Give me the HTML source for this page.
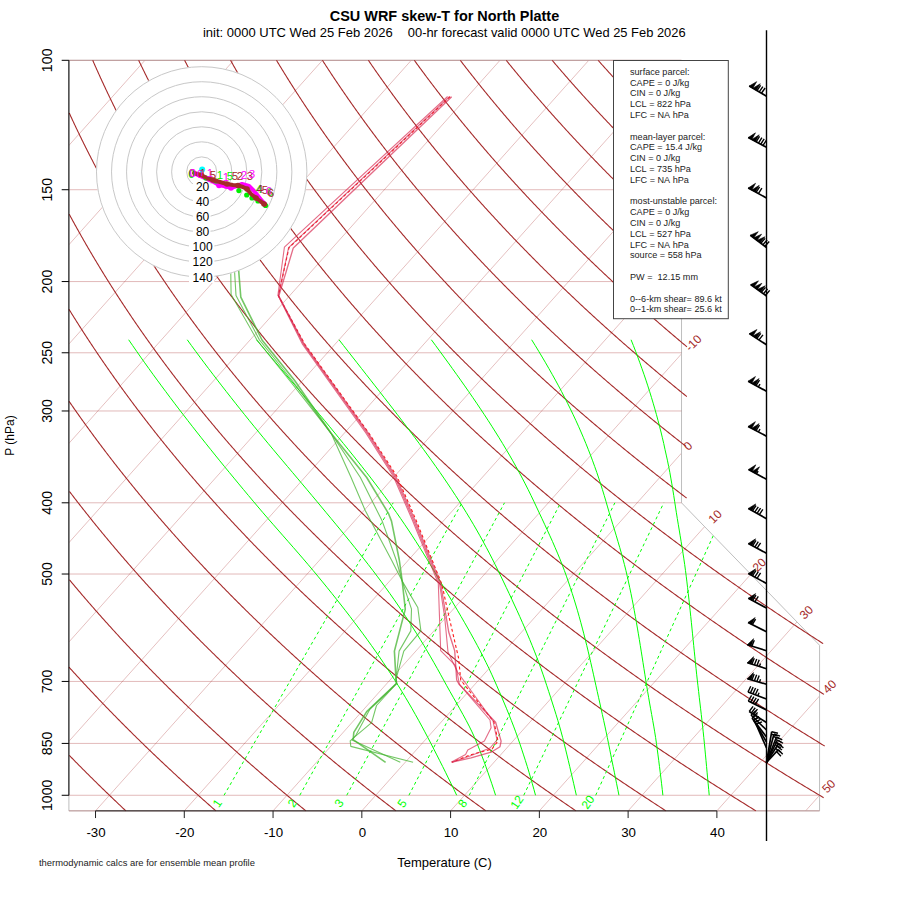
<!DOCTYPE html><html><head><meta charset="utf-8"><style>
html,body{margin:0;padding:0;background:#fff;}
svg{display:block;font-family:"Liberation Sans",sans-serif;}
</style></head><body>
<svg width="900" height="900" viewBox="0 0 900 900">
<defs><clipPath id="cp"><path d="M68.90 60.30 L68.90 810.86 L819.57 810.86 L819.57 645.26 L681.52 502.80 L681.52 60.30 Z"/></clipPath></defs>
<g clip-path="url(#cp)">
<path d="M-525.83 810.86 L144.95 60.30" fill="none" stroke="#a52a2a" stroke-width="0.3"/>
<path d="M-437.06 810.86 L233.72 60.30" fill="none" stroke="#a52a2a" stroke-width="0.3"/>
<path d="M-348.30 810.86 L322.48 60.30" fill="none" stroke="#a52a2a" stroke-width="0.3"/>
<path d="M-259.53 810.86 L411.25 60.30" fill="none" stroke="#a52a2a" stroke-width="0.3"/>
<path d="M-170.77 810.86 L500.01 60.30" fill="none" stroke="#a52a2a" stroke-width="0.3"/>
<path d="M-82.00 810.86 L588.78 60.30" fill="none" stroke="#a52a2a" stroke-width="0.3"/>
<path d="M6.76 810.86 L677.54 60.30" fill="none" stroke="#a52a2a" stroke-width="0.3"/>
<path d="M95.53 810.86 L766.31 60.30" fill="none" stroke="#a52a2a" stroke-width="0.3"/>
<path d="M184.29 810.86 L855.07 60.30" fill="none" stroke="#a52a2a" stroke-width="0.3"/>
<path d="M273.06 810.86 L943.84 60.30" fill="none" stroke="#a52a2a" stroke-width="0.3"/>
<path d="M361.83 810.86 L1032.60 60.30" fill="none" stroke="#a52a2a" stroke-width="0.3"/>
<path d="M450.59 810.86 L1121.37 60.30" fill="none" stroke="#a52a2a" stroke-width="0.3"/>
<path d="M539.36 810.86 L1210.13 60.30" fill="none" stroke="#a52a2a" stroke-width="0.3"/>
<path d="M628.12 810.86 L1298.90 60.30" fill="none" stroke="#a52a2a" stroke-width="0.3"/>
<path d="M716.89 810.86 L1387.66 60.30" fill="none" stroke="#a52a2a" stroke-width="0.3"/>
<path d="M805.65 810.86 L1476.43 60.30" fill="none" stroke="#a52a2a" stroke-width="0.3"/>
</g>
<path d="M68.90 60.30 L68.90 810.86 L819.57 810.86 L819.57 645.26 L681.52 502.80 L681.52 60.30 Z" fill="none" stroke="#bebebe" stroke-width="1"/>
<path d="M68.90 810.86 L819.57 810.86" fill="none" stroke="#a52a2a" stroke-width="0.33"/>
<path d="M68.90 795.28 L819.57 795.28" fill="none" stroke="#a52a2a" stroke-width="0.33"/>
<path d="M68.90 743.41 L819.57 743.41" fill="none" stroke="#a52a2a" stroke-width="0.33"/>
<path d="M68.90 681.43 L819.57 681.43" fill="none" stroke="#a52a2a" stroke-width="0.33"/>
<path d="M68.90 574.03 L751.01 574.03" fill="none" stroke="#a52a2a" stroke-width="0.33"/>
<path d="M68.90 502.80 L681.52 502.80" fill="none" stroke="#a52a2a" stroke-width="0.33"/>
<path d="M68.90 410.98 L681.52 410.98" fill="none" stroke="#a52a2a" stroke-width="0.33"/>
<path d="M68.90 352.78 L681.52 352.78" fill="none" stroke="#a52a2a" stroke-width="0.33"/>
<path d="M68.90 281.55 L681.52 281.55" fill="none" stroke="#a52a2a" stroke-width="0.33"/>
<path d="M68.90 189.72 L681.52 189.72" fill="none" stroke="#a52a2a" stroke-width="0.33"/>
<path d="M68.90 60.30 L681.52 60.30" fill="none" stroke="#a52a2a" stroke-width="0.33"/>
<path d="M125.86 810.86 L124.86 809.92 L123.86 808.98 L122.86 808.04 L121.86 807.10 L120.86 806.16 L119.87 805.22 L118.88 804.28 L117.89 803.34 L116.90 802.40 L115.91 801.46 L114.92 800.52 L113.94 799.58 L112.95 798.64 L111.97 797.70 L110.99 796.76 L110.01 795.83 L109.04 794.89 L108.06 793.95 L107.09 793.01 L106.11 792.07 L105.14 791.13 L104.17 790.19 L103.21 789.25 L102.24 788.31 L101.27 787.37 L100.31 786.43 L99.35 785.49 L98.39 784.55 L97.43 783.61 L96.47 782.67 L95.52 781.73 L94.56 780.80 L93.61 779.86 L92.66 778.92 L91.71 777.98 L90.76 777.04 L89.81 776.10 L88.87 775.16 L87.92 774.22 L86.98 773.28 L86.04 772.34 L85.10 771.40 L84.16 770.46 L83.23 769.52 L82.29 768.58 L81.36 767.64 L80.43 766.70 L79.50 765.77 L78.57 764.83 L77.64 763.89 L76.71 762.95 L75.79 762.01 L74.87 761.07 L73.94 760.13 L73.02 759.19 L72.11 758.25 L71.19 757.31 L70.27 756.37 L69.36 755.43" fill="none" stroke="#a52a2a" stroke-width="1.1"/>
<path d="M215.87 810.86 L214.79 809.92 L213.72 808.98 L212.64 808.04 L211.57 807.10 L210.50 806.16 L209.43 805.22 L208.36 804.28 L207.30 803.34 L206.23 802.40 L205.17 801.46 L204.11 800.52 L203.05 799.58 L201.99 798.64 L200.93 797.70 L199.88 796.76 L198.82 795.83 L197.77 794.89 L196.72 793.95 L195.67 793.01 L194.62 792.07 L193.58 791.13 L192.53 790.19 L191.49 789.25 L190.45 788.31 L189.41 787.37 L188.37 786.43 L187.34 785.49 L186.30 784.55 L185.27 783.61 L184.24 782.67 L183.21 781.73 L182.18 780.80 L181.16 779.86 L180.13 778.92 L179.11 777.98 L178.08 777.04 L177.06 776.10 L176.05 775.16 L175.03 774.22 L174.01 773.28 L173.00 772.34 L171.99 771.40 L170.98 770.46 L169.97 769.52 L168.96 768.58 L167.95 767.64 L166.95 766.70 L165.94 765.77 L164.94 764.83 L163.94 763.89 L162.94 762.95 L161.95 762.01 L160.95 761.07 L159.96 760.13 L158.96 759.19 L157.97 758.25 L156.98 757.31 L156.00 756.37 L155.01 755.43 L154.03 754.49 L153.04 753.55 L152.06 752.61 L151.08 751.68 L150.10 750.74 L149.13 749.80 L148.15 748.86 L147.18 747.92 L146.20 746.98 L145.23 746.04 L144.26 745.10 L143.30 744.16 L142.33 743.22 L141.36 742.28 L140.40 741.34 L139.44 740.40 L138.48 739.46 L137.52 738.52 L136.56 737.58 L135.61 736.65 L134.65 735.71 L133.70 734.77 L132.75 733.83 L131.80 732.89 L130.85 731.95 L129.90 731.01 L128.96 730.07 L128.02 729.13 L127.07 728.19 L126.13 727.25 L125.19 726.31 L124.26 725.37 L123.32 724.43 L122.38 723.49 L121.45 722.55 L120.52 721.62 L119.59 720.68 L118.66 719.74 L117.73 718.80 L116.81 717.86 L115.88 716.92 L114.96 715.98 L114.04 715.04 L113.12 714.10 L112.20 713.16 L111.28 712.22 L110.37 711.28 L109.46 710.34 L108.54 709.40 L107.63 708.46 L106.72 707.52 L105.81 706.59 L104.91 705.65 L104.00 704.71 L103.10 703.77 L102.20 702.83 L101.30 701.89 L100.40 700.95 L99.50 700.01 L98.60 699.07 L97.71 698.13 L96.81 697.19 L95.92 696.25 L95.03 695.31 L94.14 694.37 L93.26 693.43 L92.37 692.49 L91.48 691.56 L90.60 690.62 L89.72 689.68 L88.84 688.74 L87.96 687.80 L87.08 686.86 L86.21 685.92 L85.33 684.98 L84.46 684.04 L83.59 683.10 L82.72 682.16 L81.85 681.22 L80.98 680.28 L80.12 679.34 L79.25 678.40 L78.39 677.46 L77.53 676.53 L76.67 675.59 L75.81 674.65 L74.95 673.71 L74.09 672.77 L73.24 671.83 L72.39 670.89 L71.54 669.95 L70.69 669.01 L69.84 668.07 L68.99 667.13" fill="none" stroke="#a52a2a" stroke-width="1.1"/>
<path d="M305.88 810.86 L304.73 809.92 L303.58 808.98 L302.43 808.04 L301.28 807.10 L300.13 806.16 L298.99 805.22 L297.85 804.28 L296.70 803.34 L295.56 802.40 L294.43 801.46 L293.29 800.52 L292.15 799.58 L291.02 798.64 L289.89 797.70 L288.76 796.76 L287.63 795.83 L286.50 794.89 L285.38 793.95 L284.26 793.01 L283.13 792.07 L282.01 791.13 L280.90 790.19 L279.78 789.25 L278.66 788.31 L277.55 787.37 L276.44 786.43 L275.33 785.49 L274.22 784.55 L273.11 783.61 L272.01 782.67 L270.90 781.73 L269.80 780.80 L268.70 779.86 L267.60 778.92 L266.51 777.98 L265.41 777.04 L264.32 776.10 L263.23 775.16 L262.13 774.22 L261.05 773.28 L259.96 772.34 L258.87 771.40 L257.79 770.46 L256.71 769.52 L255.63 768.58 L254.55 767.64 L253.47 766.70 L252.39 765.77 L251.32 764.83 L250.25 763.89 L249.17 762.95 L248.10 762.01 L247.04 761.07 L245.97 760.13 L244.91 759.19 L243.84 758.25 L242.78 757.31 L241.72 756.37 L240.66 755.43 L239.61 754.49 L238.55 753.55 L237.50 752.61 L236.45 751.68 L235.39 750.74 L234.35 749.80 L233.30 748.86 L232.25 747.92 L231.21 746.98 L230.17 746.04 L229.13 745.10 L228.09 744.16 L227.05 743.22 L226.01 742.28 L224.98 741.34 L223.95 740.40 L222.91 739.46 L221.88 738.52 L220.86 737.58 L219.83 736.65 L218.80 735.71 L217.78 734.77 L216.76 733.83 L215.74 732.89 L214.72 731.95 L213.70 731.01 L212.69 730.07 L211.67 729.13 L210.66 728.19 L209.65 727.25 L208.64 726.31 L207.63 725.37 L206.63 724.43 L205.62 723.49 L204.62 722.55 L203.62 721.62 L202.62 720.68 L201.62 719.74 L200.62 718.80 L199.62 717.86 L198.63 716.92 L197.64 715.98 L196.65 715.04 L195.66 714.10 L194.67 713.16 L193.68 712.22 L192.70 711.28 L191.72 710.34 L190.73 709.40 L189.75 708.46 L188.78 707.52 L187.80 706.59 L186.82 705.65 L185.85 704.71 L184.88 703.77 L183.91 702.83 L182.94 701.89 L181.97 700.95 L181.00 700.01 L180.04 699.07 L179.07 698.13 L178.11 697.19 L177.15 696.25 L176.19 695.31 L175.23 694.37 L174.28 693.43 L173.32 692.49 L172.37 691.56 L171.42 690.62 L170.47 689.68 L169.52 688.74 L168.58 687.80 L167.63 686.86 L166.69 685.92 L165.74 684.98 L164.80 684.04 L163.86 683.10 L162.93 682.16 L161.99 681.22 L161.06 680.28 L160.12 679.34 L159.19 678.40 L158.26 677.46 L157.33 676.53 L156.40 675.59 L155.48 674.65 L154.55 673.71 L153.63 672.77 L152.71 671.83 L151.79 670.89 L150.87 669.95 L149.96 669.01 L149.04 668.07 L148.13 667.13 L147.21 666.19 L146.30 665.25 L145.39 664.31 L144.48 663.37 L143.58 662.44 L142.67 661.50 L141.77 660.56 L140.87 659.62 L139.97 658.68 L139.07 657.74 L138.17 656.80 L137.27 655.86 L136.38 654.92 L135.48 653.98 L134.59 653.04 L133.70 652.10 L132.81 651.16 L131.93 650.22 L131.04 649.28 L130.15 648.34 L129.27 647.41 L128.39 646.47 L127.51 645.53 L126.63 644.59 L125.75 643.65 L124.88 642.71 L124.00 641.77 L123.13 640.83 L122.26 639.89 L121.39 638.95 L120.52 638.01 L119.65 637.07 L118.78 636.13 L117.92 635.19 L117.06 634.25 L116.20 633.31 L115.34 632.38 L114.48 631.44 L113.62 630.50 L112.76 629.56 L111.91 628.62 L111.06 627.68 L110.20 626.74 L109.35 625.80 L108.51 624.86 L107.66 623.92 L106.81 622.98 L105.97 622.04 L105.12 621.10 L104.28 620.16 L103.44 619.22 L102.60 618.28 L101.77 617.35 L100.93 616.41 L100.10 615.47 L99.26 614.53 L98.43 613.59 L97.60 612.65 L96.77 611.71 L95.94 610.77 L95.12 609.83 L94.29 608.89 L93.47 607.95 L92.65 607.01 L91.83 606.07 L91.01 605.13 L90.19 604.19 L89.37 603.25 L88.56 602.32 L87.74 601.38 L86.93 600.44 L86.12 599.50 L85.31 598.56 L84.50 597.62 L83.70 596.68 L82.89 595.74 L82.09 594.80 L81.28 593.86 L80.48 592.92 L79.68 591.98 L78.89 591.04 L78.09 590.10 L77.29 589.16 L76.50 588.22 L75.71 587.29 L74.91 586.35 L74.12 585.41 L73.33 584.47 L72.55 583.53 L71.76 582.59 L70.98 581.65 L70.19 580.71 L69.41 579.77" fill="none" stroke="#a52a2a" stroke-width="1.1"/>
<path d="M395.90 810.86 L394.67 809.92 L393.44 808.98 L392.21 808.04 L390.99 807.10 L389.77 806.16 L388.55 805.22 L387.33 804.28 L386.11 803.34 L384.90 802.40 L383.68 801.46 L382.47 800.52 L381.26 799.58 L380.05 798.64 L378.85 797.70 L377.64 796.76 L376.44 795.83 L375.24 794.89 L374.04 793.95 L372.84 793.01 L371.64 792.07 L370.45 791.13 L369.26 790.19 L368.07 789.25 L366.88 788.31 L365.69 787.37 L364.50 786.43 L363.32 785.49 L362.14 784.55 L360.96 783.61 L359.78 782.67 L358.60 781.73 L357.42 780.80 L356.25 779.86 L355.08 778.92 L353.91 777.98 L352.74 777.04 L351.57 776.10 L350.40 775.16 L349.24 774.22 L348.08 773.28 L346.92 772.34 L345.76 771.40 L344.60 770.46 L343.45 769.52 L342.29 768.58 L341.14 767.64 L339.99 766.70 L338.84 765.77 L337.69 764.83 L336.55 763.89 L335.40 762.95 L334.26 762.01 L333.12 761.07 L331.98 760.13 L330.85 759.19 L329.71 758.25 L328.58 757.31 L327.44 756.37 L326.31 755.43 L325.19 754.49 L324.06 753.55 L322.93 752.61 L321.81 751.68 L320.69 750.74 L319.57 749.80 L318.45 748.86 L317.33 747.92 L316.21 746.98 L315.10 746.04 L313.99 745.10 L312.88 744.16 L311.77 743.22 L310.66 742.28 L309.56 741.34 L308.45 740.40 L307.35 739.46 L306.25 738.52 L305.15 737.58 L304.05 736.65 L302.96 735.71 L301.86 734.77 L300.77 733.83 L299.68 732.89 L298.59 731.95 L297.50 731.01 L296.41 730.07 L295.33 729.13 L294.25 728.19 L293.17 727.25 L292.09 726.31 L291.01 725.37 L289.93 724.43 L288.86 723.49 L287.78 722.55 L286.71 721.62 L285.64 720.68 L284.57 719.74 L283.51 718.80 L282.44 717.86 L281.38 716.92 L280.31 715.98 L279.25 715.04 L278.20 714.10 L277.14 713.16 L276.08 712.22 L275.03 711.28 L273.98 710.34 L272.93 709.40 L271.88 708.46 L270.83 707.52 L269.78 706.59 L268.74 705.65 L267.69 704.71 L266.65 703.77 L265.61 702.83 L264.58 701.89 L263.54 700.95 L262.50 700.01 L261.47 699.07 L260.44 698.13 L259.41 697.19 L258.38 696.25 L257.35 695.31 L256.33 694.37 L255.30 693.43 L254.28 692.49 L253.26 691.56 L252.24 690.62 L251.22 689.68 L250.21 688.74 L249.19 687.80 L248.18 686.86 L247.17 685.92 L246.16 684.98 L245.15 684.04 L244.14 683.10 L243.14 682.16 L242.13 681.22 L241.13 680.28 L240.13 679.34 L239.13 678.40 L238.13 677.46 L237.14 676.53 L236.14 675.59 L235.15 674.65 L234.16 673.71 L233.17 672.77 L232.18 671.83 L231.19 670.89 L230.21 669.95 L229.22 669.01 L228.24 668.07 L227.26 667.13 L226.28 666.19 L225.31 665.25 L224.33 664.31 L223.36 663.37 L222.38 662.44 L221.41 661.50 L220.44 660.56 L219.47 659.62 L218.51 658.68 L217.54 657.74 L216.58 656.80 L215.61 655.86 L214.65 654.92 L213.69 653.98 L212.74 653.04 L211.78 652.10 L210.83 651.16 L209.87 650.22 L208.92 649.28 L207.97 648.34 L207.02 647.41 L206.07 646.47 L205.13 645.53 L204.18 644.59 L203.24 643.65 L202.30 642.71 L201.36 641.77 L200.42 640.83 L199.49 639.89 L198.55 638.95 L197.62 638.01 L196.68 637.07 L195.75 636.13 L194.82 635.19 L193.90 634.25 L192.97 633.31 L192.05 632.38 L191.12 631.44 L190.20 630.50 L189.28 629.56 L188.36 628.62 L187.44 627.68 L186.53 626.74 L185.61 625.80 L184.70 624.86 L183.79 623.92 L182.88 622.98 L181.97 622.04 L181.06 621.10 L180.16 620.16 L179.25 619.22 L178.35 618.28 L177.45 617.35 L176.55 616.41 L175.65 615.47 L174.75 614.53 L173.86 613.59 L172.97 612.65 L172.07 611.71 L171.18 610.77 L170.29 609.83 L169.40 608.89 L168.52 607.95 L167.63 607.01 L166.75 606.07 L165.87 605.13 L164.99 604.19 L164.11 603.25 L163.23 602.32 L162.35 601.38 L161.48 600.44 L160.60 599.50 L159.73 598.56 L158.86 597.62 L157.99 596.68 L157.12 595.74 L156.26 594.80 L155.39 593.86 L154.53 592.92 L153.67 591.98 L152.81 591.04 L151.95 590.10 L151.09 589.16 L150.23 588.22 L149.38 587.29 L148.52 586.35 L147.67 585.41 L146.82 584.47 L145.97 583.53 L145.12 582.59 L144.28 581.65 L143.43 580.71 L142.59 579.77 L141.75 578.83 L140.91 577.89 L140.07 576.95 L139.23 576.01 L138.39 575.07 L137.56 574.13 L136.72 573.20 L135.89 572.26 L135.06 571.32 L134.23 570.38 L133.40 569.44 L132.58 568.50 L131.75 567.56 L130.93 566.62 L130.11 565.68 L129.28 564.74 L128.46 563.80 L127.65 562.86 L126.83 561.92 L126.01 560.98 L125.20 560.04 L124.39 559.10 L123.58 558.17 L122.77 557.23 L121.96 556.29 L121.15 555.35 L120.34 554.41 L119.54 553.47 L118.74 552.53 L117.94 551.59 L117.14 550.65 L116.34 549.71 L115.54 548.77 L114.74 547.83 L113.95 546.89 L113.16 545.95 L112.36 545.01 L111.57 544.07 L110.78 543.14 L110.00 542.20 L109.21 541.26 L108.42 540.32 L107.64 539.38 L106.86 538.44 L106.08 537.50 L105.30 536.56 L104.52 535.62 L103.74 534.68 L102.97 533.74 L102.19 532.80 L101.42 531.86 L100.65 530.92 L99.88 529.98 L99.11 529.04 L98.34 528.11 L97.58 527.17 L96.81 526.23 L96.05 525.29 L95.29 524.35 L94.52 523.41 L93.77 522.47 L93.01 521.53 L92.25 520.59 L91.50 519.65 L90.74 518.71 L89.99 517.77 L89.24 516.83 L88.49 515.89 L87.74 514.95 L86.99 514.01 L86.25 513.08 L85.50 512.14 L84.76 511.20 L84.02 510.26 L83.28 509.32 L82.54 508.38 L81.80 507.44 L81.06 506.50 L80.33 505.56 L79.59 504.62 L78.86 503.68 L78.13 502.74 L77.40 501.80 L76.67 500.86 L75.94 499.92 L75.22 498.99 L74.49 498.05 L73.77 497.11 L73.05 496.17 L72.33 495.23 L71.61 494.29 L70.89 493.35 L70.17 492.41 L69.46 491.47" fill="none" stroke="#a52a2a" stroke-width="1.1"/>
<path d="M485.91 810.86 L484.60 809.92 L483.30 808.98 L482.00 808.04 L480.70 807.10 L479.40 806.16 L478.11 805.22 L476.81 804.28 L475.52 803.34 L474.23 802.40 L472.94 801.46 L471.65 800.52 L470.37 799.58 L469.09 798.64 L467.81 797.70 L466.53 796.76 L465.25 795.83 L463.97 794.89 L462.70 793.95 L461.42 793.01 L460.15 792.07 L458.89 791.13 L457.62 790.19 L456.35 789.25 L455.09 788.31 L453.83 787.37 L452.57 786.43 L451.31 785.49 L450.05 784.55 L448.80 783.61 L447.54 782.67 L446.29 781.73 L445.04 780.80 L443.80 779.86 L442.55 778.92 L441.31 777.98 L440.06 777.04 L438.82 776.10 L437.58 775.16 L436.35 774.22 L435.11 773.28 L433.88 772.34 L432.64 771.40 L431.41 770.46 L430.19 769.52 L428.96 768.58 L427.73 767.64 L426.51 766.70 L425.29 765.77 L424.07 764.83 L422.85 763.89 L421.63 762.95 L420.42 762.01 L419.21 761.07 L418.00 760.13 L416.79 759.19 L415.58 758.25 L414.37 757.31 L413.17 756.37 L411.97 755.43 L410.77 754.49 L409.57 753.55 L408.37 752.61 L407.17 751.68 L405.98 750.74 L404.79 749.80 L403.60 748.86 L402.41 747.92 L401.22 746.98 L400.03 746.04 L398.85 745.10 L397.67 744.16 L396.49 743.22 L395.31 742.28 L394.13 741.34 L392.96 740.40 L391.78 739.46 L390.61 738.52 L389.44 737.58 L388.27 736.65 L387.11 735.71 L385.94 734.77 L384.78 733.83 L383.62 732.89 L382.46 731.95 L381.30 731.01 L380.14 730.07 L378.99 729.13 L377.83 728.19 L376.68 727.25 L375.53 726.31 L374.38 725.37 L373.24 724.43 L372.09 723.49 L370.95 722.55 L369.81 721.62 L368.67 720.68 L367.53 719.74 L366.39 718.80 L365.26 717.86 L364.12 716.92 L362.99 715.98 L361.86 715.04 L360.73 714.10 L359.61 713.16 L358.48 712.22 L357.36 711.28 L356.24 710.34 L355.12 709.40 L354.00 708.46 L352.88 707.52 L351.77 706.59 L350.65 705.65 L349.54 704.71 L348.43 703.77 L347.32 702.83 L346.21 701.89 L345.11 700.95 L344.01 700.01 L342.90 699.07 L341.80 698.13 L340.70 697.19 L339.61 696.25 L338.51 695.31 L337.42 694.37 L336.33 693.43 L335.24 692.49 L334.15 691.56 L333.06 690.62 L331.97 689.68 L330.89 688.74 L329.81 687.80 L328.73 686.86 L327.65 685.92 L326.57 684.98 L325.49 684.04 L324.42 683.10 L323.35 682.16 L322.27 681.22 L321.20 680.28 L320.14 679.34 L319.07 678.40 L318.01 677.46 L316.94 676.53 L315.88 675.59 L314.82 674.65 L313.76 673.71 L312.71 672.77 L311.65 671.83 L310.60 670.89 L309.55 669.95 L308.49 669.01 L307.45 668.07 L306.40 667.13 L305.35 666.19 L304.31 665.25 L303.27 664.31 L302.23 663.37 L301.19 662.44 L300.15 661.50 L299.11 660.56 L298.08 659.62 L297.04 658.68 L296.01 657.74 L294.98 656.80 L293.96 655.86 L292.93 654.92 L291.90 653.98 L290.88 653.04 L289.86 652.10 L288.84 651.16 L287.82 650.22 L286.80 649.28 L285.79 648.34 L284.77 647.41 L283.76 646.47 L282.75 645.53 L281.74 644.59 L280.73 643.65 L279.72 642.71 L278.72 641.77 L277.72 640.83 L276.71 639.89 L275.71 638.95 L274.71 638.01 L273.72 637.07 L272.72 636.13 L271.73 635.19 L270.74 634.25 L269.74 633.31 L268.76 632.38 L267.77 631.44 L266.78 630.50 L265.80 629.56 L264.81 628.62 L263.83 627.68 L262.85 626.74 L261.87 625.80 L260.90 624.86 L259.92 623.92 L258.95 622.98 L257.97 622.04 L257.00 621.10 L256.03 620.16 L255.06 619.22 L254.10 618.28 L253.13 617.35 L252.17 616.41 L251.21 615.47 L250.25 614.53 L249.29 613.59 L248.33 612.65 L247.38 611.71 L246.42 610.77 L245.47 609.83 L244.52 608.89 L243.57 607.95 L242.62 607.01 L241.67 606.07 L240.73 605.13 L239.78 604.19 L238.84 603.25 L237.90 602.32 L236.96 601.38 L236.02 600.44 L235.09 599.50 L234.15 598.56 L233.22 597.62 L232.29 596.68 L231.36 595.74 L230.43 594.80 L229.50 593.86 L228.57 592.92 L227.65 591.98 L226.73 591.04 L225.81 590.10 L224.89 589.16 L223.97 588.22 L223.05 587.29 L222.14 586.35 L221.22 585.41 L220.31 584.47 L219.40 583.53 L218.49 582.59 L217.58 581.65 L216.67 580.71 L215.77 579.77 L214.86 578.83 L213.96 577.89 L213.06 576.95 L212.16 576.01 L211.26 575.07 L210.37 574.13 L209.47 573.20 L208.58 572.26 L207.69 571.32 L206.80 570.38 L205.91 569.44 L205.02 568.50 L204.13 567.56 L203.25 566.62 L202.37 565.68 L201.48 564.74 L200.60 563.80 L199.72 562.86 L198.85 561.92 L197.97 560.98 L197.10 560.04 L196.22 559.10 L195.35 558.17 L194.48 557.23 L193.61 556.29 L192.74 555.35 L191.88 554.41 L191.01 553.47 L190.15 552.53 L189.29 551.59 L188.43 550.65 L187.57 549.71 L186.71 548.77 L185.86 547.83 L185.00 546.89 L184.15 545.95 L183.30 545.01 L182.45 544.07 L181.60 543.14 L180.75 542.20 L179.91 541.26 L179.06 540.32 L178.22 539.38 L177.38 538.44 L176.54 537.50 L175.70 536.56 L174.86 535.62 L174.02 534.68 L173.19 533.74 L172.35 532.80 L171.52 531.86 L170.69 530.92 L169.86 529.98 L169.04 529.04 L168.21 528.11 L167.38 527.17 L166.56 526.23 L165.74 525.29 L164.92 524.35 L164.10 523.41 L163.28 522.47 L162.46 521.53 L161.65 520.59 L160.84 519.65 L160.02 518.71 L159.21 517.77 L158.40 516.83 L157.60 515.89 L156.79 514.95 L155.98 514.01 L155.18 513.08 L154.38 512.14 L153.58 511.20 L152.78 510.26 L151.98 509.32 L151.18 508.38 L150.38 507.44 L149.59 506.50 L148.80 505.56 L148.01 504.62 L147.22 503.68 L146.43 502.74 L145.64 501.80 L144.85 500.86 L144.07 499.92 L143.28 498.99 L142.50 498.05 L141.72 497.11 L140.94 496.17 L140.16 495.23 L139.39 494.29 L138.61 493.35 L137.84 492.41 L137.07 491.47 L136.30 490.53 L135.53 489.59 L134.76 488.65 L133.99 487.71 L133.22 486.77 L132.46 485.83 L131.70 484.89 L130.94 483.96 L130.18 483.02 L129.42 482.08 L128.66 481.14 L127.90 480.20 L127.15 479.26 L126.39 478.32 L125.64 477.38 L124.89 476.44 L124.14 475.50 L123.39 474.56 L122.65 473.62 L121.90 472.68 L121.16 471.74 L120.41 470.80 L119.67 469.86 L118.93 468.93 L118.19 467.99 L117.46 467.05 L116.72 466.11 L115.98 465.17 L115.25 464.23 L114.52 463.29 L113.79 462.35 L113.06 461.41 L112.33 460.47 L111.60 459.53 L110.88 458.59 L110.15 457.65 L109.43 456.71 L108.71 455.77 L107.99 454.83 L107.27 453.90 L106.55 452.96 L105.83 452.02 L105.12 451.08 L104.40 450.14 L103.69 449.20 L102.98 448.26 L102.27 447.32 L101.56 446.38 L100.85 445.44 L100.15 444.50 L99.44 443.56 L98.74 442.62 L98.04 441.68 L97.34 440.74 L96.64 439.80 L95.94 438.87 L95.24 437.93 L94.55 436.99 L93.85 436.05 L93.16 435.11 L92.47 434.17 L91.78 433.23 L91.09 432.29 L90.40 431.35 L89.71 430.41 L89.03 429.47 L88.34 428.53 L87.66 427.59 L86.98 426.65 L86.30 425.71 L85.62 424.77 L84.94 423.84 L84.27 422.90 L83.59 421.96 L82.92 421.02 L82.25 420.08 L81.57 419.14 L80.90 418.20 L80.24 417.26 L79.57 416.32 L78.90 415.38 L78.24 414.44 L77.57 413.50 L76.91 412.56 L76.25 411.62 L75.59 410.68 L74.93 409.75 L74.27 408.81 L73.62 407.87 L72.96 406.93 L72.31 405.99 L71.66 405.05 L71.00 404.11 L70.36 403.17 L69.71 402.23 L69.06 401.29" fill="none" stroke="#a52a2a" stroke-width="1.1"/>
<path d="M575.92 810.86 L574.54 809.92 L573.16 808.98 L571.78 808.04 L570.41 807.10 L569.04 806.16 L567.67 805.22 L566.30 804.28 L564.93 803.34 L563.56 802.40 L562.20 801.46 L560.84 800.52 L559.48 799.58 L558.12 798.64 L556.76 797.70 L555.41 796.76 L554.06 795.83 L552.71 794.89 L551.36 793.95 L550.01 793.01 L548.66 792.07 L547.32 791.13 L545.98 790.19 L544.64 789.25 L543.30 788.31 L541.97 787.37 L540.63 786.43 L539.30 785.49 L537.97 784.55 L536.64 783.61 L535.31 782.67 L533.99 781.73 L532.66 780.80 L531.34 779.86 L530.02 778.92 L528.71 777.98 L527.39 777.04 L526.07 776.10 L524.76 775.16 L523.45 774.22 L522.14 773.28 L520.84 772.34 L519.53 771.40 L518.23 770.46 L516.93 769.52 L515.63 768.58 L514.33 767.64 L513.03 766.70 L511.74 765.77 L510.45 764.83 L509.15 763.89 L507.87 762.95 L506.58 762.01 L505.29 761.07 L504.01 760.13 L502.73 759.19 L501.45 758.25 L500.17 757.31 L498.89 756.37 L497.62 755.43 L496.35 754.49 L495.07 753.55 L493.80 752.61 L492.54 751.68 L491.27 750.74 L490.01 749.80 L488.74 748.86 L487.48 747.92 L486.23 746.98 L484.97 746.04 L483.71 745.10 L482.46 744.16 L481.21 743.22 L479.96 742.28 L478.71 741.34 L477.46 740.40 L476.22 739.46 L474.98 738.52 L473.73 737.58 L472.50 736.65 L471.26 735.71 L470.02 734.77 L468.79 733.83 L467.56 732.89 L466.32 731.95 L465.10 731.01 L463.87 730.07 L462.64 729.13 L461.42 728.19 L460.20 727.25 L458.98 726.31 L457.76 725.37 L456.54 724.43 L455.33 723.49 L454.11 722.55 L452.90 721.62 L451.69 720.68 L450.48 719.74 L449.28 718.80 L448.07 717.86 L446.87 716.92 L445.67 715.98 L444.47 715.04 L443.27 714.10 L442.07 713.16 L440.88 712.22 L439.69 711.28 L438.50 710.34 L437.31 709.40 L436.12 708.46 L434.93 707.52 L433.75 706.59 L432.57 705.65 L431.39 704.71 L430.21 703.77 L429.03 702.83 L427.85 701.89 L426.68 700.95 L425.51 700.01 L424.34 699.07 L423.17 698.13 L422.00 697.19 L420.84 696.25 L419.67 695.31 L418.51 694.37 L417.35 693.43 L416.19 692.49 L415.03 691.56 L413.88 690.62 L412.72 689.68 L411.57 688.74 L410.42 687.80 L409.27 686.86 L408.13 685.92 L406.98 684.98 L405.84 684.04 L404.70 683.10 L403.56 682.16 L402.42 681.22 L401.28 680.28 L400.14 679.34 L399.01 678.40 L397.88 677.46 L396.75 676.53 L395.62 675.59 L394.49 674.65 L393.37 673.71 L392.24 672.77 L391.12 671.83 L390.00 670.89 L388.88 669.95 L387.76 669.01 L386.65 668.07 L385.54 667.13 L384.42 666.19 L383.31 665.25 L382.20 664.31 L381.10 663.37 L379.99 662.44 L378.89 661.50 L377.78 660.56 L376.68 659.62 L375.58 658.68 L374.49 657.74 L373.39 656.80 L372.30 655.86 L371.20 654.92 L370.11 653.98 L369.02 653.04 L367.94 652.10 L366.85 651.16 L365.76 650.22 L364.68 649.28 L363.60 648.34 L362.52 647.41 L361.44 646.47 L360.37 645.53 L359.29 644.59 L358.22 643.65 L357.15 642.71 L356.08 641.77 L355.01 640.83 L353.94 639.89 L352.88 638.95 L351.81 638.01 L350.75 637.07 L349.69 636.13 L348.63 635.19 L347.57 634.25 L346.52 633.31 L345.47 632.38 L344.41 631.44 L343.36 630.50 L342.31 629.56 L341.27 628.62 L340.22 627.68 L339.17 626.74 L338.13 625.80 L337.09 624.86 L336.05 623.92 L335.01 622.98 L333.98 622.04 L332.94 621.10 L331.91 620.16 L330.88 619.22 L329.85 618.28 L328.82 617.35 L327.79 616.41 L326.76 615.47 L325.74 614.53 L324.72 613.59 L323.70 612.65 L322.68 611.71 L321.66 610.77 L320.64 609.83 L319.63 608.89 L318.62 607.95 L317.61 607.01 L316.60 606.07 L315.59 605.13 L314.58 604.19 L313.58 603.25 L312.57 602.32 L311.57 601.38 L310.57 600.44 L309.57 599.50 L308.57 598.56 L307.58 597.62 L306.58 596.68 L305.59 595.74 L304.60 594.80 L303.61 593.86 L302.62 592.92 L301.63 591.98 L300.65 591.04 L299.66 590.10 L298.68 589.16 L297.70 588.22 L296.72 587.29 L295.75 586.35 L294.77 585.41 L293.80 584.47 L292.82 583.53 L291.85 582.59 L290.88 581.65 L289.91 580.71 L288.95 579.77 L287.98 578.83 L287.02 577.89 L286.05 576.95 L285.09 576.01 L284.13 575.07 L283.18 574.13 L282.22 573.20 L281.27 572.26 L280.31 571.32 L279.36 570.38 L278.41 569.44 L277.46 568.50 L276.52 567.56 L275.57 566.62 L274.63 565.68 L273.68 564.74 L272.74 563.80 L271.80 562.86 L270.86 561.92 L269.93 560.98 L268.99 560.04 L268.06 559.10 L267.13 558.17 L266.20 557.23 L265.27 556.29 L264.34 555.35 L263.41 554.41 L262.49 553.47 L261.56 552.53 L260.64 551.59 L259.72 550.65 L258.80 549.71 L257.89 548.77 L256.97 547.83 L256.06 546.89 L255.14 545.95 L254.23 545.01 L253.32 544.07 L252.41 543.14 L251.51 542.20 L250.60 541.26 L249.70 540.32 L248.79 539.38 L247.89 538.44 L246.99 537.50 L246.10 536.56 L245.20 535.62 L244.30 534.68 L243.41 533.74 L242.52 532.80 L241.63 531.86 L240.74 530.92 L239.85 529.98 L238.96 529.04 L238.08 528.11 L237.19 527.17 L236.31 526.23 L235.43 525.29 L234.55 524.35 L233.67 523.41 L232.80 522.47 L231.92 521.53 L231.05 520.59 L230.18 519.65 L229.31 518.71 L228.44 517.77 L227.57 516.83 L226.70 515.89 L225.84 514.95 L224.97 514.01 L224.11 513.08 L223.25 512.14 L222.39 511.20 L221.53 510.26 L220.68 509.32 L219.82 508.38 L218.97 507.44 L218.12 506.50 L217.27 505.56 L216.42 504.62 L215.57 503.68 L214.72 502.74 L213.88 501.80 L213.04 500.86 L212.19 499.92 L211.35 498.99 L210.51 498.05 L209.68 497.11 L208.84 496.17 L208.00 495.23 L207.17 494.29 L206.34 493.35 L205.51 492.41 L204.68 491.47 L203.85 490.53 L203.02 489.59 L202.20 488.65 L201.37 487.71 L200.55 486.77 L199.73 485.83 L198.91 484.89 L198.09 483.96 L197.28 483.02 L196.46 482.08 L195.65 481.14 L194.83 480.20 L194.02 479.26 L193.21 478.32 L192.41 477.38 L191.60 476.44 L190.79 475.50 L189.99 474.56 L189.19 473.62 L188.38 472.68 L187.58 471.74 L186.78 470.80 L185.99 469.86 L185.19 468.93 L184.40 467.99 L183.60 467.05 L182.81 466.11 L182.02 465.17 L181.23 464.23 L180.44 463.29 L179.66 462.35 L178.87 461.41 L178.09 460.47 L177.31 459.53 L176.53 458.59 L175.75 457.65 L174.97 456.71 L174.19 455.77 L173.42 454.83 L172.64 453.90 L171.87 452.96 L171.10 452.02 L170.33 451.08 L169.56 450.14 L168.79 449.20 L168.02 448.26 L167.26 447.32 L166.50 446.38 L165.73 445.44 L164.97 444.50 L164.22 443.56 L163.46 442.62 L162.70 441.68 L161.95 440.74 L161.19 439.80 L160.44 438.87 L159.69 437.93 L158.94 436.99 L158.19 436.05 L157.44 435.11 L156.70 434.17 L155.95 433.23 L155.21 432.29 L154.47 431.35 L153.73 430.41 L152.99 429.47 L152.25 428.53 L151.51 427.59 L150.78 426.65 L150.04 425.71 L149.31 424.77 L148.58 423.84 L147.85 422.90 L147.12 421.96 L146.39 421.02 L145.67 420.08 L144.94 419.14 L144.22 418.20 L143.50 417.26 L142.78 416.32 L142.06 415.38 L141.34 414.44 L140.62 413.50 L139.91 412.56 L139.19 411.62 L138.48 410.68 L137.77 409.75 L137.06 408.81 L136.35 407.87 L135.64 406.93 L134.94 405.99 L134.23 405.05 L133.53 404.11 L132.82 403.17 L132.12 402.23 L131.42 401.29 L130.72 400.35 L130.03 399.41 L129.33 398.47 L128.64 397.53 L127.94 396.59 L127.25 395.65 L126.56 394.72 L125.87 393.78 L125.18 392.84 L124.50 391.90 L123.81 390.96 L123.13 390.02 L122.44 389.08 L121.76 388.14 L121.08 387.20 L120.40 386.26 L119.72 385.32 L119.05 384.38 L118.37 383.44 L117.70 382.50 L117.02 381.56 L116.35 380.62 L115.68 379.69 L115.01 378.75 L114.34 377.81 L113.68 376.87 L113.01 375.93 L112.35 374.99 L111.69 374.05 L111.02 373.11 L110.36 372.17 L109.71 371.23 L109.05 370.29 L108.39 369.35 L107.74 368.41 L107.08 367.47 L106.43 366.53 L105.78 365.59 L105.13 364.66 L104.48 363.72 L103.83 362.78 L103.19 361.84 L102.54 360.90 L101.90 359.96 L101.25 359.02 L100.61 358.08 L99.97 357.14 L99.33 356.20 L98.70 355.26 L98.06 354.32 L97.42 353.38 L96.79 352.44 L96.16 351.50 L95.53 350.56 L94.90 349.63 L94.27 348.69 L93.64 347.75 L93.01 346.81 L92.39 345.87 L91.76 344.93 L91.14 343.99 L90.52 343.05 L89.90 342.11 L89.28 341.17 L88.66 340.23 L88.04 339.29 L87.43 338.35 L86.81 337.41 L86.20 336.47 L85.59 335.53 L84.98 334.60 L84.37 333.66 L83.76 332.72 L83.15 331.78 L82.55 330.84 L81.94 329.90 L81.34 328.96 L80.74 328.02 L80.14 327.08 L79.54 326.14 L78.94 325.20 L78.34 324.26 L77.75 323.32 L77.15 322.38 L76.56 321.44 L75.97 320.51 L75.38 319.57 L74.79 318.63 L74.20 317.69 L73.61 316.75 L73.02 315.81 L72.44 314.87 L71.85 313.93 L71.27 312.99 L70.69 312.05 L70.11 311.11 L69.53 310.17 L68.95 309.23" fill="none" stroke="#a52a2a" stroke-width="1.1"/>
<path d="M665.93 810.86 L664.48 809.92 L663.02 808.98 L661.57 808.04 L660.12 807.10 L658.67 806.16 L657.22 805.22 L655.78 804.28 L654.34 803.34 L652.90 802.40 L651.46 801.46 L650.02 800.52 L648.59 799.58 L647.15 798.64 L645.72 797.70 L644.29 796.76 L642.86 795.83 L641.44 794.89 L640.02 793.95 L638.59 793.01 L637.17 792.07 L635.76 791.13 L634.34 790.19 L632.93 789.25 L631.51 788.31 L630.10 787.37 L628.70 786.43 L627.29 785.49 L625.88 784.55 L624.48 783.61 L623.08 782.67 L621.68 781.73 L620.28 780.80 L618.89 779.86 L617.50 778.92 L616.10 777.98 L614.72 777.04 L613.33 776.10 L611.94 775.16 L610.56 774.22 L609.18 773.28 L607.80 772.34 L606.42 771.40 L605.04 770.46 L603.67 769.52 L602.29 768.58 L600.92 767.64 L599.55 766.70 L598.19 765.77 L596.82 764.83 L595.46 763.89 L594.10 762.95 L592.74 762.01 L591.38 761.07 L590.02 760.13 L588.67 759.19 L587.32 758.25 L585.97 757.31 L584.62 756.37 L583.27 755.43 L581.92 754.49 L580.58 753.55 L579.24 752.61 L577.90 751.68 L576.56 750.74 L575.23 749.80 L573.89 748.86 L572.56 747.92 L571.23 746.98 L569.90 746.04 L568.58 745.10 L567.25 744.16 L565.93 743.22 L564.61 742.28 L563.29 741.34 L561.97 740.40 L560.65 739.46 L559.34 738.52 L558.03 737.58 L556.72 736.65 L555.41 735.71 L554.10 734.77 L552.80 733.83 L551.49 732.89 L550.19 731.95 L548.89 731.01 L547.60 730.07 L546.30 729.13 L545.01 728.19 L543.71 727.25 L542.42 726.31 L541.13 725.37 L539.85 724.43 L538.56 723.49 L537.28 722.55 L536.00 721.62 L534.72 720.68 L533.44 719.74 L532.16 718.80 L530.89 717.86 L529.62 716.92 L528.35 715.98 L527.08 715.04 L525.81 714.10 L524.54 713.16 L523.28 712.22 L522.02 711.28 L520.76 710.34 L519.50 709.40 L518.24 708.46 L516.99 707.52 L515.73 706.59 L514.48 705.65 L513.23 704.71 L511.98 703.77 L510.74 702.83 L509.49 701.89 L508.25 700.95 L507.01 700.01 L505.77 699.07 L504.53 698.13 L503.30 697.19 L502.06 696.25 L500.83 695.31 L499.60 694.37 L498.37 693.43 L497.15 692.49 L495.92 691.56 L494.70 690.62 L493.48 689.68 L492.26 688.74 L491.04 687.80 L489.82 686.86 L488.61 685.92 L487.39 684.98 L486.18 684.04 L484.97 683.10 L483.76 682.16 L482.56 681.22 L481.35 680.28 L480.15 679.34 L478.95 678.40 L477.75 677.46 L476.55 676.53 L475.36 675.59 L474.16 674.65 L472.97 673.71 L471.78 672.77 L470.59 671.83 L469.40 670.89 L468.22 669.95 L467.03 669.01 L465.85 668.07 L464.67 667.13 L463.49 666.19 L462.32 665.25 L461.14 664.31 L459.97 663.37 L458.79 662.44 L457.62 661.50 L456.46 660.56 L455.29 659.62 L454.12 658.68 L452.96 657.74 L451.80 656.80 L450.64 655.86 L449.48 654.92 L448.32 653.98 L447.17 653.04 L446.01 652.10 L444.86 651.16 L443.71 650.22 L442.56 649.28 L441.42 648.34 L440.27 647.41 L439.13 646.47 L437.99 645.53 L436.85 644.59 L435.71 643.65 L434.57 642.71 L433.44 641.77 L432.30 640.83 L431.17 639.89 L430.04 638.95 L428.91 638.01 L427.78 637.07 L426.66 636.13 L425.54 635.19 L424.41 634.25 L423.29 633.31 L422.18 632.38 L421.06 631.44 L419.94 630.50 L418.83 629.56 L417.72 628.62 L416.61 627.68 L415.50 626.74 L414.39 625.80 L413.29 624.86 L412.18 623.92 L411.08 622.98 L409.98 622.04 L408.88 621.10 L407.78 620.16 L406.69 619.22 L405.59 618.28 L404.50 617.35 L403.41 616.41 L402.32 615.47 L401.23 614.53 L400.15 613.59 L399.06 612.65 L397.98 611.71 L396.90 610.77 L395.82 609.83 L394.74 608.89 L393.67 607.95 L392.59 607.01 L391.52 606.07 L390.45 605.13 L389.38 604.19 L388.31 603.25 L387.24 602.32 L386.18 601.38 L385.12 600.44 L384.05 599.50 L382.99 598.56 L381.93 597.62 L380.88 596.68 L379.82 595.74 L378.77 594.80 L377.72 593.86 L376.67 592.92 L375.62 591.98 L374.57 591.04 L373.52 590.10 L372.48 589.16 L371.44 588.22 L370.40 587.29 L369.36 586.35 L368.32 585.41 L367.28 584.47 L366.25 583.53 L365.21 582.59 L364.18 581.65 L363.15 580.71 L362.12 579.77 L361.10 578.83 L360.07 577.89 L359.05 576.95 L358.03 576.01 L357.01 575.07 L355.99 574.13 L354.97 573.20 L353.95 572.26 L352.94 571.32 L351.93 570.38 L350.92 569.44 L349.91 568.50 L348.90 567.56 L347.89 566.62 L346.89 565.68 L345.88 564.74 L344.88 563.80 L343.88 562.86 L342.88 561.92 L341.88 560.98 L340.89 560.04 L339.89 559.10 L338.90 558.17 L337.91 557.23 L336.92 556.29 L335.93 555.35 L334.95 554.41 L333.96 553.47 L332.98 552.53 L332.00 551.59 L331.02 550.65 L330.04 549.71 L329.06 548.77 L328.08 547.83 L327.11 546.89 L326.14 545.95 L325.17 545.01 L324.20 544.07 L323.23 543.14 L322.26 542.20 L321.30 541.26 L320.33 540.32 L319.37 539.38 L318.41 538.44 L317.45 537.50 L316.49 536.56 L315.54 535.62 L314.58 534.68 L313.63 533.74 L312.68 532.80 L311.73 531.86 L310.78 530.92 L309.83 529.98 L308.89 529.04 L307.95 528.11 L307.00 527.17 L306.06 526.23 L305.12 525.29 L304.18 524.35 L303.25 523.41 L302.31 522.47 L301.38 521.53 L300.45 520.59 L299.52 519.65 L298.59 518.71 L297.66 517.77 L296.73 516.83 L295.81 515.89 L294.89 514.95 L293.97 514.01 L293.05 513.08 L292.13 512.14 L291.21 511.20 L290.29 510.26 L289.38 509.32 L288.47 508.38 L287.56 507.44 L286.65 506.50 L285.74 505.56 L284.83 504.62 L283.93 503.68 L283.02 502.74 L282.12 501.80 L281.22 500.86 L280.32 499.92 L279.42 498.99 L278.53 498.05 L277.63 497.11 L276.74 496.17 L275.84 495.23 L274.95 494.29 L274.06 493.35 L273.18 492.41 L272.29 491.47 L271.41 490.53 L270.52 489.59 L269.64 488.65 L268.76 487.71 L267.88 486.77 L267.00 485.83 L266.13 484.89 L265.25 483.96 L264.38 483.02 L263.51 482.08 L262.64 481.14 L261.77 480.20 L260.90 479.26 L260.03 478.32 L259.17 477.38 L258.31 476.44 L257.44 475.50 L256.58 474.56 L255.72 473.62 L254.87 472.68 L254.01 471.74 L253.16 470.80 L252.30 469.86 L251.45 468.93 L250.60 467.99 L249.75 467.05 L248.90 466.11 L248.06 465.17 L247.21 464.23 L246.37 463.29 L245.53 462.35 L244.69 461.41 L243.85 460.47 L243.01 459.53 L242.17 458.59 L241.34 457.65 L240.51 456.71 L239.67 455.77 L238.84 454.83 L238.01 453.90 L237.19 452.96 L236.36 452.02 L235.54 451.08 L234.71 450.14 L233.89 449.20 L233.07 448.26 L232.25 447.32 L231.43 446.38 L230.61 445.44 L229.80 444.50 L228.99 443.56 L228.17 442.62 L227.36 441.68 L226.55 440.74 L225.74 439.80 L224.94 438.87 L224.13 437.93 L223.33 436.99 L222.53 436.05 L221.72 435.11 L220.92 434.17 L220.13 433.23 L219.33 432.29 L218.53 431.35 L217.74 430.41 L216.94 429.47 L216.15 428.53 L215.36 427.59 L214.57 426.65 L213.79 425.71 L213.00 424.77 L212.22 423.84 L211.43 422.90 L210.65 421.96 L209.87 421.02 L209.09 420.08 L208.31 419.14 L207.53 418.20 L206.76 417.26 L205.99 416.32 L205.21 415.38 L204.44 414.44 L203.67 413.50 L202.90 412.56 L202.14 411.62 L201.37 410.68 L200.61 409.75 L199.84 408.81 L199.08 407.87 L198.32 406.93 L197.56 405.99 L196.80 405.05 L196.05 404.11 L195.29 403.17 L194.54 402.23 L193.79 401.29 L193.04 400.35 L192.29 399.41 L191.54 398.47 L190.79 397.53 L190.04 396.59 L189.30 395.65 L188.56 394.72 L187.82 393.78 L187.08 392.84 L186.34 391.90 L185.60 390.96 L184.86 390.02 L184.13 389.08 L183.39 388.14 L182.66 387.20 L181.93 386.26 L181.20 385.32 L180.47 384.38 L179.74 383.44 L179.02 382.50 L178.29 381.56 L177.57 380.62 L176.85 379.69 L176.13 378.75 L175.41 377.81 L174.69 376.87 L173.98 375.93 L173.26 374.99 L172.55 374.05 L171.83 373.11 L171.12 372.17 L170.41 371.23 L169.70 370.29 L169.00 369.35 L168.29 368.41 L167.58 367.47 L166.88 366.53 L166.18 365.59 L165.48 364.66 L164.78 363.72 L164.08 362.78 L163.38 361.84 L162.69 360.90 L161.99 359.96 L161.30 359.02 L160.61 358.08 L159.92 357.14 L159.23 356.20 L158.54 355.26 L157.85 354.32 L157.17 353.38 L156.48 352.44 L155.80 351.50 L155.12 350.56 L154.44 349.63 L153.76 348.69 L153.08 347.75 L152.40 346.81 L151.73 345.87 L151.06 344.93 L150.38 343.99 L149.71 343.05 L149.04 342.11 L148.37 341.17 L147.70 340.23 L147.04 339.29 L146.37 338.35 L145.71 337.41 L145.05 336.47 L144.39 335.53 L143.73 334.60 L143.07 333.66 L142.41 332.72 L141.75 331.78 L141.10 330.84 L140.44 329.90 L139.79 328.96 L139.14 328.02 L138.49 327.08 L137.84 326.14 L137.19 325.20 L136.55 324.26 L135.90 323.32 L135.26 322.38 L134.62 321.44 L133.98 320.51 L133.34 319.57 L132.70 318.63 L132.06 317.69 L131.42 316.75 L130.79 315.81 L130.15 314.87 L129.52 313.93 L128.89 312.99 L128.26 312.05 L127.63 311.11 L127.00 310.17 L126.38 309.23 L125.75 308.29 L125.13 307.35 L124.51 306.41 L123.89 305.48 L123.26 304.54 L122.65 303.60 L122.03 302.66 L121.41 301.72 L120.80 300.78 L120.18 299.84 L119.57 298.90 L118.96 297.96 L118.35 297.02 L117.74 296.08 L117.13 295.14 L116.52 294.20 L115.92 293.26 L115.31 292.32 L114.71 291.38 L114.11 290.45 L113.51 289.51 L112.91 288.57 L112.31 287.63 L111.71 286.69 L111.12 285.75 L110.52 284.81 L109.93 283.87 L109.34 282.93 L108.75 281.99 L108.16 281.05 L107.57 280.11 L106.98 279.17 L106.39 278.23 L105.81 277.29 L105.23 276.35 L104.64 275.42 L104.06 274.48 L103.48 273.54 L102.90 272.60 L102.33 271.66 L101.75 270.72 L101.17 269.78 L100.60 268.84 L100.03 267.90 L99.45 266.96 L98.88 266.02 L98.31 265.08 L97.75 264.14 L97.18 263.20 L96.61 262.26 L96.05 261.32 L95.48 260.39 L94.92 259.45 L94.36 258.51 L93.80 257.57 L93.24 256.63 L92.68 255.69 L92.13 254.75 L91.57 253.81 L91.02 252.87 L90.47 251.93 L89.91 250.99 L89.36 250.05 L88.81 249.11 L88.26 248.17 L87.72 247.23 L87.17 246.29 L86.63 245.36 L86.08 244.42 L85.54 243.48 L85.00 242.54 L84.46 241.60 L83.92 240.66 L83.38 239.72 L82.85 238.78 L82.31 237.84 L81.78 236.90 L81.24 235.96 L80.71 235.02 L80.18 234.08 L79.65 233.14 L79.12 232.20 L78.59 231.27 L78.07 230.33 L77.54 229.39 L77.02 228.45 L76.50 227.51 L75.97 226.57 L75.45 225.63 L74.93 224.69 L74.42 223.75 L73.90 222.81 L73.38 221.87 L72.87 220.93 L72.35 219.99 L71.84 219.05 L71.33 218.11 L70.82 217.17 L70.31 216.24 L69.80 215.30 L69.30 214.36" fill="none" stroke="#a52a2a" stroke-width="1.1"/>
<path d="M755.95 810.86 L754.41 809.92 L752.88 808.98 L751.36 808.04 L749.83 807.10 L748.31 806.16 L746.78 805.22 L745.26 804.28 L743.75 803.34 L742.23 802.40 L740.72 801.46 L739.20 800.52 L737.69 799.58 L736.19 798.64 L734.68 797.70 L733.18 796.76 L731.67 795.83 L730.17 794.89 L728.67 793.95 L727.18 793.01 L725.68 792.07 L724.19 791.13 L722.70 790.19 L721.21 789.25 L719.73 788.31 L718.24 787.37 L716.76 786.43 L715.28 785.49 L713.80 784.55 L712.32 783.61 L710.85 782.67 L709.38 781.73 L707.91 780.80 L706.44 779.86 L704.97 778.92 L703.50 777.98 L702.04 777.04 L700.58 776.10 L699.12 775.16 L697.66 774.22 L696.21 773.28 L694.75 772.34 L693.30 771.40 L691.85 770.46 L690.41 769.52 L688.96 768.58 L687.52 767.64 L686.07 766.70 L684.63 765.77 L683.20 764.83 L681.76 763.89 L680.33 762.95 L678.89 762.01 L677.46 761.07 L676.04 760.13 L674.61 759.19 L673.18 758.25 L671.76 757.31 L670.34 756.37 L668.92 755.43 L667.50 754.49 L666.09 753.55 L664.68 752.61 L663.26 751.68 L661.86 750.74 L660.45 749.80 L659.04 748.86 L657.64 747.92 L656.24 746.98 L654.84 746.04 L653.44 745.10 L652.04 744.16 L650.65 743.22 L649.26 742.28 L647.86 741.34 L646.48 740.40 L645.09 739.46 L643.70 738.52 L642.32 737.58 L640.94 736.65 L639.56 735.71 L638.18 734.77 L636.81 733.83 L635.43 732.89 L634.06 731.95 L632.69 731.01 L631.32 730.07 L629.96 729.13 L628.59 728.19 L627.23 727.25 L625.87 726.31 L624.51 725.37 L623.15 724.43 L621.80 723.49 L620.44 722.55 L619.09 721.62 L617.74 720.68 L616.40 719.74 L615.05 718.80 L613.71 717.86 L612.36 716.92 L611.02 715.98 L609.68 715.04 L608.35 714.10 L607.01 713.16 L605.68 712.22 L604.35 711.28 L603.02 710.34 L601.69 709.40 L600.36 708.46 L599.04 707.52 L597.72 706.59 L596.40 705.65 L595.08 704.71 L593.76 703.77 L592.45 702.83 L591.13 701.89 L589.82 700.95 L588.51 700.01 L587.21 699.07 L585.90 698.13 L584.60 697.19 L583.29 696.25 L581.99 695.31 L580.69 694.37 L579.40 693.43 L578.10 692.49 L576.81 691.56 L575.52 690.62 L574.23 689.68 L572.94 688.74 L571.65 687.80 L570.37 686.86 L569.09 685.92 L567.81 684.98 L566.53 684.04 L565.25 683.10 L563.97 682.16 L562.70 681.22 L561.43 680.28 L560.16 679.34 L558.89 678.40 L557.62 677.46 L556.36 676.53 L555.10 675.59 L553.83 674.65 L552.57 673.71 L551.32 672.77 L550.06 671.83 L548.81 670.89 L547.55 669.95 L546.30 669.01 L545.06 668.07 L543.81 667.13 L542.56 666.19 L541.32 665.25 L540.08 664.31 L538.84 663.37 L537.60 662.44 L536.36 661.50 L535.13 660.56 L533.89 659.62 L532.66 658.68 L531.43 657.74 L530.20 656.80 L528.98 655.86 L527.75 654.92 L526.53 653.98 L525.31 653.04 L524.09 652.10 L522.87 651.16 L521.66 650.22 L520.44 649.28 L519.23 648.34 L518.02 647.41 L516.81 646.47 L515.61 645.53 L514.40 644.59 L513.20 643.65 L511.99 642.71 L510.79 641.77 L509.60 640.83 L508.40 639.89 L507.20 638.95 L506.01 638.01 L504.82 637.07 L503.63 636.13 L502.44 635.19 L501.25 634.25 L500.07 633.31 L498.89 632.38 L497.70 631.44 L496.52 630.50 L495.35 629.56 L494.17 628.62 L492.99 627.68 L491.82 626.74 L490.65 625.80 L489.48 624.86 L488.31 623.92 L487.15 622.98 L485.98 622.04 L484.82 621.10 L483.66 620.16 L482.50 619.22 L481.34 618.28 L480.19 617.35 L479.03 616.41 L477.88 615.47 L476.73 614.53 L475.58 613.59 L474.43 612.65 L473.28 611.71 L472.14 610.77 L471.00 609.83 L469.86 608.89 L468.72 607.95 L467.58 607.01 L466.44 606.07 L465.31 605.13 L464.18 604.19 L463.04 603.25 L461.91 602.32 L460.79 601.38 L459.66 600.44 L458.54 599.50 L457.41 598.56 L456.29 597.62 L455.17 596.68 L454.06 595.74 L452.94 594.80 L451.82 593.86 L450.71 592.92 L449.60 591.98 L448.49 591.04 L447.38 590.10 L446.28 589.16 L445.17 588.22 L444.07 587.29 L442.97 586.35 L441.87 585.41 L440.77 584.47 L439.67 583.53 L438.58 582.59 L437.48 581.65 L436.39 580.71 L435.30 579.77 L434.21 578.83 L433.13 577.89 L432.04 576.95 L430.96 576.01 L429.88 575.07 L428.80 574.13 L427.72 573.20 L426.64 572.26 L425.57 571.32 L424.49 570.38 L423.42 569.44 L422.35 568.50 L421.28 567.56 L420.21 566.62 L419.15 565.68 L418.08 564.74 L417.02 563.80 L415.96 562.86 L414.90 561.92 L413.84 560.98 L412.78 560.04 L411.73 559.10 L410.68 558.17 L409.63 557.23 L408.58 556.29 L407.53 555.35 L406.48 554.41 L405.44 553.47 L404.39 552.53 L403.35 551.59 L402.31 550.65 L401.27 549.71 L400.23 548.77 L399.20 547.83 L398.16 546.89 L397.13 545.95 L396.10 545.01 L395.07 544.07 L394.04 543.14 L393.02 542.20 L391.99 541.26 L390.97 540.32 L389.95 539.38 L388.93 538.44 L387.91 537.50 L386.89 536.56 L385.88 535.62 L384.86 534.68 L383.85 533.74 L382.84 532.80 L381.83 531.86 L380.83 530.92 L379.82 529.98 L378.82 529.04 L377.81 528.11 L376.81 527.17 L375.81 526.23 L374.81 525.29 L373.82 524.35 L372.82 523.41 L371.83 522.47 L370.84 521.53 L369.85 520.59 L368.86 519.65 L367.87 518.71 L366.88 517.77 L365.90 516.83 L364.92 515.89 L363.94 514.95 L362.96 514.01 L361.98 513.08 L361.00 512.14 L360.03 511.20 L359.05 510.26 L358.08 509.32 L357.11 508.38 L356.14 507.44 L355.17 506.50 L354.21 505.56 L353.24 504.62 L352.28 503.68 L351.32 502.74 L350.36 501.80 L349.40 500.86 L348.45 499.92 L347.49 498.99 L346.54 498.05 L345.58 497.11 L344.63 496.17 L343.68 495.23 L342.74 494.29 L341.79 493.35 L340.85 492.41 L339.90 491.47 L338.96 490.53 L338.02 489.59 L337.08 488.65 L336.14 487.71 L335.21 486.77 L334.27 485.83 L333.34 484.89 L332.41 483.96 L331.48 483.02 L330.55 482.08 L329.62 481.14 L328.70 480.20 L327.78 479.26 L326.85 478.32 L325.93 477.38 L325.01 476.44 L324.09 475.50 L323.18 474.56 L322.26 473.62 L321.35 472.68 L320.44 471.74 L319.53 470.80 L318.62 469.86 L317.71 468.93 L316.80 467.99 L315.90 467.05 L315.00 466.11 L314.09 465.17 L313.19 464.23 L312.30 463.29 L311.40 462.35 L310.50 461.41 L309.61 460.47 L308.72 459.53 L307.82 458.59 L306.93 457.65 L306.05 456.71 L305.16 455.77 L304.27 454.83 L303.39 453.90 L302.51 452.96 L301.62 452.02 L300.74 451.08 L299.87 450.14 L298.99 449.20 L298.11 448.26 L297.24 447.32 L296.37 446.38 L295.49 445.44 L294.63 444.50 L293.76 443.56 L292.89 442.62 L292.02 441.68 L291.16 440.74 L290.30 439.80 L289.44 438.87 L288.58 437.93 L287.72 436.99 L286.86 436.05 L286.01 435.11 L285.15 434.17 L284.30 433.23 L283.45 432.29 L282.60 431.35 L281.75 430.41 L280.90 429.47 L280.06 428.53 L279.21 427.59 L278.37 426.65 L277.53 425.71 L276.69 424.77 L275.85 423.84 L275.01 422.90 L274.18 421.96 L273.34 421.02 L272.51 420.08 L271.68 419.14 L270.85 418.20 L270.02 417.26 L269.19 416.32 L268.37 415.38 L267.54 414.44 L266.72 413.50 L265.90 412.56 L265.08 411.62 L264.26 410.68 L263.44 409.75 L262.63 408.81 L261.81 407.87 L261.00 406.93 L260.19 405.99 L259.38 405.05 L258.57 404.11 L257.76 403.17 L256.95 402.23 L256.15 401.29 L255.35 400.35 L254.54 399.41 L253.74 398.47 L252.94 397.53 L252.15 396.59 L251.35 395.65 L250.55 394.72 L249.76 393.78 L248.97 392.84 L248.18 391.90 L247.39 390.96 L246.60 390.02 L245.81 389.08 L245.03 388.14 L244.24 387.20 L243.46 386.26 L242.68 385.32 L241.90 384.38 L241.12 383.44 L240.34 382.50 L239.57 381.56 L238.79 380.62 L238.02 379.69 L237.25 378.75 L236.47 377.81 L235.71 376.87 L234.94 375.93 L234.17 374.99 L233.41 374.05 L232.64 373.11 L231.88 372.17 L231.12 371.23 L230.36 370.29 L229.60 369.35 L228.84 368.41 L228.09 367.47 L227.33 366.53 L226.58 365.59 L225.83 364.66 L225.08 363.72 L224.33 362.78 L223.58 361.84 L222.83 360.90 L222.09 359.96 L221.34 359.02 L220.60 358.08 L219.86 357.14 L219.12 356.20 L218.38 355.26 L217.65 354.32 L216.91 353.38 L216.18 352.44 L215.44 351.50 L214.71 350.56 L213.98 349.63 L213.25 348.69 L212.52 347.75 L211.80 346.81 L211.07 345.87 L210.35 344.93 L209.62 343.99 L208.90 343.05 L208.18 342.11 L207.47 341.17 L206.75 340.23 L206.03 339.29 L205.32 338.35 L204.60 337.41 L203.89 336.47 L203.18 335.53 L202.47 334.60 L201.76 333.66 L201.06 332.72 L200.35 331.78 L199.65 330.84 L198.94 329.90 L198.24 328.96 L197.54 328.02 L196.84 327.08 L196.14 326.14 L195.45 325.20 L194.75 324.26 L194.06 323.32 L193.37 322.38 L192.67 321.44 L191.98 320.51 L191.30 319.57 L190.61 318.63 L189.92 317.69 L189.24 316.75 L188.55 315.81 L187.87 314.87 L187.19 313.93 L186.51 312.99 L185.83 312.05 L185.15 311.11 L184.48 310.17 L183.80 309.23 L183.13 308.29 L182.46 307.35 L181.79 306.41 L181.12 305.48 L180.45 304.54 L179.78 303.60 L179.12 302.66 L178.45 301.72 L177.79 300.78 L177.13 299.84 L176.47 298.90 L175.81 297.96 L175.15 297.02 L174.49 296.08 L173.84 295.14 L173.18 294.20 L172.53 293.26 L171.88 292.32 L171.23 291.38 L170.58 290.45 L169.93 289.51 L169.28 288.57 L168.64 287.63 L167.99 286.69 L167.35 285.75 L166.71 284.81 L166.07 283.87 L165.43 282.93 L164.79 281.99 L164.15 281.05 L163.52 280.11 L162.88 279.17 L162.25 278.23 L161.62 277.29 L160.99 276.35 L160.36 275.42 L159.73 274.48 L159.10 273.54 L158.47 272.60 L157.85 271.66 L157.23 270.72 L156.60 269.78 L155.98 268.84 L155.36 267.90 L154.75 266.96 L154.13 266.02 L153.51 265.08 L152.90 264.14 L152.28 263.20 L151.67 262.26 L151.06 261.32 L150.45 260.39 L149.84 259.45 L149.24 258.51 L148.63 257.57 L148.02 256.63 L147.42 255.69 L146.82 254.75 L146.22 253.81 L145.62 252.87 L145.02 251.93 L144.42 250.99 L143.82 250.05 L143.23 249.11 L142.63 248.17 L142.04 247.23 L141.45 246.29 L140.86 245.36 L140.27 244.42 L139.68 243.48 L139.09 242.54 L138.51 241.60 L137.92 240.66 L137.34 239.72 L136.76 238.78 L136.18 237.84 L135.60 236.90 L135.02 235.96 L134.44 235.02 L133.87 234.08 L133.29 233.14 L132.72 232.20 L132.15 231.27 L131.57 230.33 L131.00 229.39 L130.44 228.45 L129.87 227.51 L129.30 226.57 L128.74 225.63 L128.17 224.69 L127.61 223.75 L127.05 222.81 L126.49 221.87 L125.93 220.93 L125.37 219.99 L124.81 219.05 L124.25 218.11 L123.70 217.17 L123.15 216.24 L122.59 215.30 L122.04 214.36 L121.49 213.42 L120.94 212.48 L120.40 211.54 L119.85 210.60 L119.30 209.66 L118.76 208.72 L118.22 207.78 L117.67 206.84 L117.13 205.90 L116.59 204.96 L116.06 204.02 L115.52 203.08 L114.98 202.14 L114.45 201.21 L113.91 200.27 L113.38 199.33 L112.85 198.39 L112.32 197.45 L111.79 196.51 L111.26 195.57 L110.73 194.63 L110.21 193.69 L109.68 192.75 L109.16 191.81 L108.64 190.87 L108.12 189.93 L107.60 188.99 L107.08 188.05 L106.56 187.11 L106.04 186.18 L105.53 185.24 L105.01 184.30 L104.50 183.36 L103.99 182.42 L103.48 181.48 L102.97 180.54 L102.46 179.60 L101.95 178.66 L101.45 177.72 L100.94 176.78 L100.44 175.84 L99.93 174.90 L99.43 173.96 L98.93 173.02 L98.43 172.08 L97.93 171.15 L97.44 170.21 L96.94 169.27 L96.44 168.33 L95.95 167.39 L95.46 166.45 L94.97 165.51 L94.47 164.57 L93.99 163.63 L93.50 162.69 L93.01 161.75 L92.52 160.81 L92.04 159.87 L91.55 158.93 L91.07 157.99 L90.59 157.05 L90.11 156.12 L89.63 155.18 L89.15 154.24 L88.67 153.30 L88.20 152.36 L87.72 151.42 L87.25 150.48 L86.78 149.54 L86.30 148.60 L85.83 147.66 L85.36 146.72 L84.90 145.78 L84.43 144.84 L83.96 143.90 L83.50 142.96 L83.03 142.03 L82.57 141.09 L82.11 140.15 L81.65 139.21 L81.19 138.27 L80.73 137.33 L80.27 136.39 L79.82 135.45 L79.36 134.51 L78.91 133.57 L78.45 132.63 L78.00 131.69 L77.55 130.75 L77.10 129.81 L76.65 128.87 L76.20 127.93 L75.76 127.00 L75.31 126.06 L74.87 125.12 L74.43 124.18 L73.98 123.24 L73.54 122.30 L73.10 121.36 L72.66 120.42 L72.22 119.48 L71.79 118.54 L71.35 117.60 L70.92 116.66 L70.48 115.72 L70.05 114.78 L69.62 113.84 L69.19 112.90" fill="none" stroke="#a52a2a" stroke-width="1.1"/>
<path d="M823.64 797.70 L822.06 796.76 L820.48 795.83 L818.91 794.89 L817.33 793.95 L815.76 793.01 L814.19 792.07 L812.63 791.13 L811.06 790.19 L809.50 789.25 L807.94 788.31 L806.38 787.37 L804.82 786.43 L803.27 785.49 L801.72 784.55 L800.17 783.61 L798.62 782.67 L797.07 781.73 L795.53 780.80 L793.98 779.86 L792.44 778.92 L790.90 777.98 L789.37 777.04 L787.83 776.10 L786.30 775.16 L784.77 774.22 L783.24 773.28 L781.71 772.34 L780.19 771.40 L778.67 770.46 L777.15 769.52 L775.63 768.58 L774.11 767.64 L772.60 766.70 L771.08 765.77 L769.57 764.83 L768.06 763.89 L766.56 762.95 L765.05 762.01 L763.55 761.07 L762.05 760.13 L760.55 759.19 L759.05 758.25 L757.56 757.31 L756.06 756.37 L754.57 755.43 L753.08 754.49 L751.60 753.55 L750.11 752.61 L748.63 751.68 L747.15 750.74 L745.67 749.80 L744.19 748.86 L742.72 747.92 L741.24 746.98 L739.77 746.04 L738.30 745.10 L736.83 744.16 L735.37 743.22 L733.90 742.28 L732.44 741.34 L730.98 740.40 L729.52 739.46 L728.07 738.52 L726.61 737.58 L725.16 736.65 L723.71 735.71 L722.26 734.77 L720.82 733.83 L719.37 732.89 L717.93 731.95 L716.49 731.01 L715.05 730.07 L713.61 729.13 L712.18 728.19 L710.75 727.25 L709.31 726.31 L707.89 725.37 L706.46 724.43 L705.03 723.49 L703.61 722.55 L702.19 721.62 L700.77 720.68 L699.35 719.74 L697.94 718.80 L696.52 717.86 L695.11 716.92 L693.70 715.98 L692.29 715.04 L690.88 714.10 L689.48 713.16 L688.08 712.22 L686.68 711.28 L685.28 710.34 L683.88 709.40 L682.49 708.46 L681.09 707.52 L679.70 706.59 L678.31 705.65 L676.92 704.71 L675.54 703.77 L674.16 702.83 L672.77 701.89 L671.39 700.95 L670.02 700.01 L668.64 699.07 L667.26 698.13 L665.89 697.19 L664.52 696.25 L663.15 695.31 L661.79 694.37 L660.42 693.43 L659.06 692.49 L657.70 691.56 L656.34 690.62 L654.98 689.68 L653.62 688.74 L652.27 687.80 L650.92 686.86 L649.57 685.92 L648.22 684.98 L646.87 684.04 L645.53 683.10 L644.18 682.16 L642.84 681.22 L641.50 680.28 L640.17 679.34 L638.83 678.40 L637.50 677.46 L636.16 676.53 L634.83 675.59 L633.51 674.65 L632.18 673.71 L630.85 672.77 L629.53 671.83 L628.21 670.89 L626.89 669.95 L625.57 669.01 L624.26 668.07 L622.94 667.13 L621.63 666.19 L620.32 665.25 L619.01 664.31 L617.71 663.37 L616.40 662.44 L615.10 661.50 L613.80 660.56 L612.50 659.62 L611.20 658.68 L609.91 657.74 L608.61 656.80 L607.32 655.86 L606.03 654.92 L604.74 653.98 L603.45 653.04 L602.17 652.10 L600.89 651.16 L599.60 650.22 L598.32 649.28 L597.05 648.34 L595.77 647.41 L594.50 646.47 L593.22 645.53 L591.95 644.59 L590.68 643.65 L589.42 642.71 L588.15 641.77 L586.89 640.83 L585.63 639.89 L584.37 638.95 L583.11 638.01 L581.85 637.07 L580.60 636.13 L579.34 635.19 L578.09 634.25 L576.84 633.31 L575.60 632.38 L574.35 631.44 L573.11 630.50 L571.86 629.56 L570.62 628.62 L569.38 627.68 L568.15 626.74 L566.91 625.80 L565.68 624.86 L564.44 623.92 L563.21 622.98 L561.99 622.04 L560.76 621.10 L559.53 620.16 L558.31 619.22 L557.09 618.28 L555.87 617.35 L554.65 616.41 L553.43 615.47 L552.22 614.53 L551.01 613.59 L549.80 612.65 L548.59 611.71 L547.38 610.77 L546.17 609.83 L544.97 608.89 L543.77 607.95 L542.56 607.01 L541.37 606.07 L540.17 605.13 L538.97 604.19 L537.78 603.25 L536.59 602.32 L535.40 601.38 L534.21 600.44 L533.02 599.50 L531.83 598.56 L530.65 597.62 L529.47 596.68 L528.29 595.74 L527.11 594.80 L525.93 593.86 L524.76 592.92 L523.58 591.98 L522.41 591.04 L521.24 590.10 L520.07 589.16 L518.91 588.22 L517.74 587.29 L516.58 586.35 L515.42 585.41 L514.26 584.47 L513.10 583.53 L511.94 582.59 L510.79 581.65 L509.63 580.71 L508.48 579.77 L507.33 578.83 L506.18 577.89 L505.04 576.95 L503.89 576.01 L502.75 575.07 L501.61 574.13 L500.47 573.20 L499.33 572.26 L498.19 571.32 L497.06 570.38 L495.92 569.44 L494.79 568.50 L493.66 567.56 L492.53 566.62 L491.41 565.68 L490.28 564.74 L489.16 563.80 L488.04 562.86 L486.92 561.92 L485.80 560.98 L484.68 560.04 L483.57 559.10 L482.45 558.17 L481.34 557.23 L480.23 556.29 L479.12 555.35 L478.01 554.41 L476.91 553.47 L475.81 552.53 L474.70 551.59 L473.60 550.65 L472.50 549.71 L471.41 548.77 L470.31 547.83 L469.22 546.89 L468.13 545.95 L467.04 545.01 L465.95 544.07 L464.86 543.14 L463.77 542.20 L462.69 541.26 L461.61 540.32 L460.53 539.38 L459.45 538.44 L458.37 537.50 L457.29 536.56 L456.22 535.62 L455.15 534.68 L454.07 533.74 L453.00 532.80 L451.94 531.86 L450.87 530.92 L449.81 529.98 L448.74 529.04 L447.68 528.11 L446.62 527.17 L445.56 526.23 L444.51 525.29 L443.45 524.35 L442.40 523.41 L441.35 522.47 L440.29 521.53 L439.25 520.59 L438.20 519.65 L437.15 518.71 L436.11 517.77 L435.07 516.83 L434.03 515.89 L432.99 514.95 L431.95 514.01 L430.91 513.08 L429.88 512.14 L428.84 511.20 L427.81 510.26 L426.78 509.32 L425.76 508.38 L424.73 507.44 L423.70 506.50 L422.68 505.56 L421.66 504.62 L420.64 503.68 L419.62 502.74 L418.60 501.80 L417.59 500.86 L416.57 499.92 L415.56 498.99 L414.55 498.05 L413.54 497.11 L412.53 496.17 L411.52 495.23 L410.52 494.29 L409.52 493.35 L408.51 492.41 L407.51 491.47 L406.51 490.53 L405.52 489.59 L404.52 488.65 L403.53 487.71 L402.54 486.77 L401.54 485.83 L400.56 484.89 L399.57 483.96 L398.58 483.02 L397.60 482.08 L396.61 481.14 L395.63 480.20 L394.65 479.26 L393.67 478.32 L392.70 477.38 L391.72 476.44 L390.75 475.50 L389.77 474.56 L388.80 473.62 L387.83 472.68 L386.87 471.74 L385.90 470.80 L384.93 469.86 L383.97 468.93 L383.01 467.99 L382.05 467.05 L381.09 466.11 L380.13 465.17 L379.18 464.23 L378.22 463.29 L377.27 462.35 L376.32 461.41 L375.37 460.47 L374.42 459.53 L373.47 458.59 L372.53 457.65 L371.58 456.71 L370.64 455.77 L369.70 454.83 L368.76 453.90 L367.82 452.96 L366.89 452.02 L365.95 451.08 L365.02 450.14 L364.09 449.20 L363.16 448.26 L362.23 447.32 L361.30 446.38 L360.38 445.44 L359.45 444.50 L358.53 443.56 L357.61 442.62 L356.69 441.68 L355.77 440.74 L354.85 439.80 L353.94 438.87 L353.02 437.93 L352.11 436.99 L351.20 436.05 L350.29 435.11 L349.38 434.17 L348.47 433.23 L347.57 432.29 L346.66 431.35 L345.76 430.41 L344.86 429.47 L343.96 428.53 L343.06 427.59 L342.17 426.65 L341.27 425.71 L340.38 424.77 L339.49 423.84 L338.60 422.90 L337.71 421.96 L336.82 421.02 L335.93 420.08 L335.05 419.14 L334.17 418.20 L333.28 417.26 L332.40 416.32 L331.52 415.38 L330.65 414.44 L329.77 413.50 L328.90 412.56 L328.02 411.62 L327.15 410.68 L326.28 409.75 L325.41 408.81 L324.55 407.87 L323.68 406.93 L322.81 405.99 L321.95 405.05 L321.09 404.11 L320.23 403.17 L319.37 402.23 L318.51 401.29 L317.66 400.35 L316.80 399.41 L315.95 398.47 L315.10 397.53 L314.25 396.59 L313.40 395.65 L312.55 394.72 L311.71 393.78 L310.86 392.84 L310.02 391.90 L309.18 390.96 L308.34 390.02 L307.50 389.08 L306.66 388.14 L305.82 387.20 L304.99 386.26 L304.16 385.32 L303.32 384.38 L302.49 383.44 L301.66 382.50 L300.84 381.56 L300.01 380.62 L299.19 379.69 L298.36 378.75 L297.54 377.81 L296.72 376.87 L295.90 375.93 L295.08 374.99 L294.27 374.05 L293.45 373.11 L292.64 372.17 L291.82 371.23 L291.01 370.29 L290.20 369.35 L289.40 368.41 L288.59 367.47 L287.78 366.53 L286.98 365.59 L286.18 364.66 L285.38 363.72 L284.58 362.78 L283.78 361.84 L282.98 360.90 L282.18 359.96 L281.39 359.02 L280.60 358.08 L279.81 357.14 L279.02 356.20 L278.23 355.26 L277.44 354.32 L276.65 353.38 L275.87 352.44 L275.09 351.50 L274.30 350.56 L273.52 349.63 L272.74 348.69 L271.97 347.75 L271.19 346.81 L270.41 345.87 L269.64 344.93 L268.87 343.99 L268.10 343.05 L267.33 342.11 L266.56 341.17 L265.79 340.23 L265.03 339.29 L264.26 338.35 L263.50 337.41 L262.74 336.47 L261.98 335.53 L261.22 334.60 L260.46 333.66 L259.70 332.72 L258.95 331.78 L258.19 330.84 L257.44 329.90 L256.69 328.96 L255.94 328.02 L255.19 327.08 L254.45 326.14 L253.70 325.20 L252.96 324.26 L252.21 323.32 L251.47 322.38 L250.73 321.44 L249.99 320.51 L249.26 319.57 L248.52 318.63 L247.78 317.69 L247.05 316.75 L246.32 315.81 L245.59 314.87 L244.86 313.93 L244.13 312.99 L243.40 312.05 L242.68 311.11 L241.95 310.17 L241.23 309.23 L240.51 308.29 L239.79 307.35 L239.07 306.41 L238.35 305.48 L237.63 304.54 L236.92 303.60 L236.21 302.66 L235.49 301.72 L234.78 300.78 L234.07 299.84 L233.36 298.90 L232.66 297.96 L231.95 297.02 L231.25 296.08 L230.54 295.14 L229.84 294.20 L229.14 293.26 L228.44 292.32 L227.74 291.38 L227.04 290.45 L226.35 289.51 L225.65 288.57 L224.96 287.63 L224.27 286.69 L223.58 285.75 L222.89 284.81 L222.20 283.87 L221.51 282.93 L220.83 281.99 L220.15 281.05 L219.46 280.11 L218.78 279.17 L218.10 278.23 L217.42 277.29 L216.74 276.35 L216.07 275.42 L215.39 274.48 L214.72 273.54 L214.05 272.60 L213.37 271.66 L212.70 270.72 L212.04 269.78 L211.37 268.84 L210.70 267.90 L210.04 266.96 L209.37 266.02 L208.71 265.08 L208.05 264.14 L207.39 263.20 L206.73 262.26 L206.07 261.32 L205.42 260.39 L204.76 259.45 L204.11 258.51 L203.46 257.57 L202.81 256.63 L202.16 255.69 L201.51 254.75 L200.86 253.81 L200.21 252.87 L199.57 251.93 L198.93 250.99 L198.28 250.05 L197.64 249.11 L197.00 248.17 L196.36 247.23 L195.73 246.29 L195.09 245.36 L194.46 244.42 L193.82 243.48 L193.19 242.54 L192.56 241.60 L191.93 240.66 L191.30 239.72 L190.67 238.78 L190.05 237.84 L189.42 236.90 L188.80 235.96 L188.17 235.02 L187.55 234.08 L186.93 233.14 L186.31 232.20 L185.70 231.27 L185.08 230.33 L184.47 229.39 L183.85 228.45 L183.24 227.51 L182.63 226.57 L182.02 225.63 L181.41 224.69 L180.80 223.75 L180.19 222.81 L179.59 221.87 L178.98 220.93 L178.38 219.99 L177.78 219.05 L177.18 218.11 L176.58 217.17 L175.98 216.24 L175.38 215.30 L174.79 214.36 L174.19 213.42 L173.60 212.48 L173.01 211.54 L172.42 210.60 L171.83 209.66 L171.24 208.72 L170.65 207.78 L170.07 206.84 L169.48 205.90 L168.90 204.96 L168.32 204.02 L167.73 203.08 L167.15 202.14 L166.58 201.21 L166.00 200.27 L165.42 199.33 L164.85 198.39 L164.27 197.45 L163.70 196.51 L163.13 195.57 L162.56 194.63 L161.99 193.69 L161.42 192.75 L160.85 191.81 L160.29 190.87 L159.72 189.93 L159.16 188.99 L158.60 188.05 L158.03 187.11 L157.47 186.18 L156.92 185.24 L156.36 184.30 L155.80 183.36 L155.25 182.42 L154.69 181.48 L154.14 180.54 L153.59 179.60 L153.04 178.66 L152.49 177.72 L151.94 176.78 L151.39 175.84 L150.85 174.90 L150.30 173.96 L149.76 173.02 L149.22 172.08 L148.68 171.15 L148.14 170.21 L147.60 169.27 L147.06 168.33 L146.52 167.39 L145.99 166.45 L145.45 165.51 L144.92 164.57 L144.39 163.63 L143.86 162.69 L143.33 161.75 L142.80 160.81 L142.27 159.87 L141.75 158.93 L141.22 157.99 L140.70 157.05 L140.17 156.12 L139.65 155.18 L139.13 154.24 L138.61 153.30 L138.09 152.36 L137.58 151.42 L137.06 150.48 L136.55 149.54 L136.03 148.60 L135.52 147.66 L135.01 146.72 L134.50 145.78 L133.99 144.84 L133.48 143.90 L132.98 142.96 L132.47 142.03 L131.97 141.09 L131.46 140.15 L130.96 139.21 L130.46 138.27 L129.96 137.33 L129.46 136.39 L128.96 135.45 L128.47 134.51 L127.97 133.57 L127.48 132.63 L126.98 131.69 L126.49 130.75 L126.00 129.81 L125.51 128.87 L125.02 127.93 L124.53 127.00 L124.05 126.06 L123.56 125.12 L123.08 124.18 L122.59 123.24 L122.11 122.30 L121.63 121.36 L121.15 120.42 L120.67 119.48 L120.19 118.54 L119.72 117.60 L119.24 116.66 L118.77 115.72 L118.29 114.78 L117.82 113.84 L117.35 112.90 L116.88 111.97 L116.41 111.03 L115.95 110.09 L115.48 109.15 L115.01 108.21 L114.55 107.27 L114.09 106.33 L113.62 105.39 L113.16 104.45 L112.70 103.51 L112.24 102.57 L111.79 101.63 L111.33 100.69 L110.87 99.75 L110.42 98.81 L109.97 97.87 L109.51 96.94 L109.06 96.00 L108.61 95.06 L108.16 94.12 L107.71 93.18 L107.27 92.24 L106.82 91.30 L106.38 90.36 L105.93 89.42 L105.49 88.48 L105.05 87.54 L104.61 86.60 L104.17 85.66 L103.73 84.72 L103.29 83.78 L102.86 82.84 L102.42 81.91 L101.99 80.97 L101.56 80.03 L101.12 79.09 L100.69 78.15 L100.26 77.21 L99.83 76.27 L99.41 75.33 L98.98 74.39 L98.55 73.45 L98.13 72.51 L97.71 71.57 L97.28 70.63 L96.86 69.69 L96.44 68.75 L96.02 67.81 L95.61 66.88 L95.19 65.94 L94.77 65.00 L94.36 64.06 L93.94 63.12 L93.53 62.18 L93.12 61.24 L92.71 60.30" fill="none" stroke="#a52a2a" stroke-width="1.1"/>
<path d="M824.70 746.04 L823.16 745.10 L821.62 744.16 L820.09 743.22 L818.55 742.28 L817.02 741.34 L815.49 740.40 L813.96 739.46 L812.43 738.52 L810.91 737.58 L809.38 736.65 L807.86 735.71 L806.34 734.77 L804.83 733.83 L803.31 732.89 L801.80 731.95 L800.29 731.01 L798.78 730.07 L797.27 729.13 L795.77 728.19 L794.26 727.25 L792.76 726.31 L791.26 725.37 L789.76 724.43 L788.27 723.49 L786.78 722.55 L785.28 721.62 L783.79 720.68 L782.31 719.74 L780.82 718.80 L779.34 717.86 L777.86 716.92 L776.38 715.98 L774.90 715.04 L773.42 714.10 L771.95 713.16 L770.48 712.22 L769.01 711.28 L767.54 710.34 L766.07 709.40 L764.61 708.46 L763.15 707.52 L761.69 706.59 L760.23 705.65 L758.77 704.71 L757.32 703.77 L755.86 702.83 L754.41 701.89 L752.96 700.95 L751.52 700.01 L750.07 699.07 L748.63 698.13 L747.19 697.19 L745.75 696.25 L744.31 695.31 L742.88 694.37 L741.44 693.43 L740.01 692.49 L738.58 691.56 L737.16 690.62 L735.73 689.68 L734.31 688.74 L732.88 687.80 L731.46 686.86 L730.05 685.92 L728.63 684.98 L727.22 684.04 L725.80 683.10 L724.39 682.16 L722.98 681.22 L721.58 680.28 L720.17 679.34 L718.77 678.40 L717.37 677.46 L715.97 676.53 L714.57 675.59 L713.18 674.65 L711.78 673.71 L710.39 672.77 L709.00 671.83 L707.61 670.89 L706.23 669.95 L704.84 669.01 L703.46 668.07 L702.08 667.13 L700.70 666.19 L699.33 665.25 L697.95 664.31 L696.58 663.37 L695.21 662.44 L693.84 661.50 L692.47 660.56 L691.10 659.62 L689.74 658.68 L688.38 657.74 L687.02 656.80 L685.66 655.86 L684.30 654.92 L682.95 653.98 L681.60 653.04 L680.25 652.10 L678.90 651.16 L677.55 650.22 L676.21 649.28 L674.86 648.34 L673.52 647.41 L672.18 646.47 L670.84 645.53 L669.51 644.59 L668.17 643.65 L666.84 642.71 L665.51 641.77 L664.18 640.83 L662.85 639.89 L661.53 638.95 L660.21 638.01 L658.89 637.07 L657.57 636.13 L656.25 635.19 L654.93 634.25 L653.62 633.31 L652.31 632.38 L650.99 631.44 L649.69 630.50 L648.38 629.56 L647.07 628.62 L645.77 627.68 L644.47 626.74 L643.17 625.80 L641.87 624.86 L640.58 623.92 L639.28 622.98 L637.99 622.04 L636.70 621.10 L635.41 620.16 L634.12 619.22 L632.84 618.28 L631.55 617.35 L630.27 616.41 L628.99 615.47 L627.71 614.53 L626.44 613.59 L625.16 612.65 L623.89 611.71 L622.62 610.77 L621.35 609.83 L620.08 608.89 L618.82 607.95 L617.55 607.01 L616.29 606.07 L615.03 605.13 L613.77 604.19 L612.51 603.25 L611.26 602.32 L610.00 601.38 L608.75 600.44 L607.50 599.50 L606.25 598.56 L605.01 597.62 L603.76 596.68 L602.52 595.74 L601.28 594.80 L600.04 593.86 L598.80 592.92 L597.57 591.98 L596.33 591.04 L595.10 590.10 L593.87 589.16 L592.64 588.22 L591.41 587.29 L590.19 586.35 L588.96 585.41 L587.74 584.47 L586.52 583.53 L585.30 582.59 L584.09 581.65 L582.87 580.71 L581.66 579.77 L580.45 578.83 L579.24 577.89 L578.03 576.95 L576.82 576.01 L575.62 575.07 L574.42 574.13 L573.21 573.20 L572.02 572.26 L570.82 571.32 L569.62 570.38 L568.43 569.44 L567.23 568.50 L566.04 567.56 L564.85 566.62 L563.67 565.68 L562.48 564.74 L561.30 563.80 L560.11 562.86 L558.93 561.92 L557.75 560.98 L556.58 560.04 L555.40 559.10 L554.23 558.17 L553.06 557.23 L551.88 556.29 L550.72 555.35 L549.55 554.41 L548.38 553.47 L547.22 552.53 L546.06 551.59 L544.90 550.65 L543.74 549.71 L542.58 548.77 L541.43 547.83 L540.27 546.89 L539.12 545.95 L537.97 545.01 L536.82 544.07 L535.67 543.14 L534.53 542.20 L533.39 541.26 L532.24 540.32 L531.10 539.38 L529.96 538.44 L528.83 537.50 L527.69 536.56 L526.56 535.62 L525.43 534.68 L524.30 533.74 L523.17 532.80 L522.04 531.86 L520.92 530.92 L519.79 529.98 L518.67 529.04 L517.55 528.11 L516.43 527.17 L515.31 526.23 L514.20 525.29 L513.08 524.35 L511.97 523.41 L510.86 522.47 L509.75 521.53 L508.64 520.59 L507.54 519.65 L506.44 518.71 L505.33 517.77 L504.23 516.83 L503.13 515.89 L502.04 514.95 L500.94 514.01 L499.85 513.08 L498.75 512.14 L497.66 511.20 L496.57 510.26 L495.49 509.32 L494.40 508.38 L493.31 507.44 L492.23 506.50 L491.15 505.56 L490.07 504.62 L488.99 503.68 L487.92 502.74 L486.84 501.80 L485.77 500.86 L484.70 499.92 L483.63 498.99 L482.56 498.05 L481.49 497.11 L480.43 496.17 L479.36 495.23 L478.30 494.29 L477.24 493.35 L476.18 492.41 L475.13 491.47 L474.07 490.53 L473.02 489.59 L471.96 488.65 L470.91 487.71 L469.86 486.77 L468.82 485.83 L467.77 484.89 L466.73 483.96 L465.68 483.02 L464.64 482.08 L463.60 481.14 L462.56 480.20 L461.53 479.26 L460.49 478.32 L459.46 477.38 L458.43 476.44 L457.40 475.50 L456.37 474.56 L455.34 473.62 L454.32 472.68 L453.29 471.74 L452.27 470.80 L451.25 469.86 L450.23 468.93 L449.21 467.99 L448.20 467.05 L447.18 466.11 L446.17 465.17 L445.16 464.23 L444.15 463.29 L443.14 462.35 L442.13 461.41 L441.13 460.47 L440.12 459.53 L439.12 458.59 L438.12 457.65 L437.12 456.71 L436.12 455.77 L435.13 454.83 L434.13 453.90 L433.14 452.96 L432.15 452.02 L431.16 451.08 L430.17 450.14 L429.19 449.20 L428.20 448.26 L427.22 447.32 L426.24 446.38 L425.26 445.44 L424.28 444.50 L423.30 443.56 L422.32 442.62 L421.35 441.68 L420.38 440.74 L419.40 439.80 L418.43 438.87 L417.47 437.93 L416.50 436.99 L415.53 436.05 L414.57 435.11 L413.61 434.17 L412.65 433.23 L411.69 432.29 L410.73 431.35 L409.77 430.41 L408.82 429.47 L407.87 428.53 L406.92 427.59 L405.97 426.65 L405.02 425.71 L404.07 424.77 L403.12 423.84 L402.18 422.90 L401.24 421.96 L400.30 421.02 L399.36 420.08 L398.42 419.14 L397.48 418.20 L396.55 417.26 L395.61 416.32 L394.68 415.38 L393.75 414.44 L392.82 413.50 L391.89 412.56 L390.97 411.62 L390.04 410.68 L389.12 409.75 L388.20 408.81 L387.28 407.87 L386.36 406.93 L385.44 405.99 L384.53 405.05 L383.61 404.11 L382.70 403.17 L381.79 402.23 L380.88 401.29 L379.97 400.35 L379.06 399.41 L378.16 398.47 L377.25 397.53 L376.35 396.59 L375.45 395.65 L374.55 394.72 L373.65 393.78 L372.75 392.84 L371.86 391.90 L370.96 390.96 L370.07 390.02 L369.18 389.08 L368.29 388.14 L367.40 387.20 L366.52 386.26 L365.63 385.32 L364.75 384.38 L363.87 383.44 L362.99 382.50 L362.11 381.56 L361.23 380.62 L360.35 379.69 L359.48 378.75 L358.60 377.81 L357.73 376.87 L356.86 375.93 L355.99 374.99 L355.13 374.05 L354.26 373.11 L353.39 372.17 L352.53 371.23 L351.67 370.29 L350.81 369.35 L349.95 368.41 L349.09 367.47 L348.23 366.53 L347.38 365.59 L346.53 364.66 L345.67 363.72 L344.82 362.78 L343.98 361.84 L343.13 360.90 L342.28 359.96 L341.44 359.02 L340.59 358.08 L339.75 357.14 L338.91 356.20 L338.07 355.26 L337.23 354.32 L336.40 353.38 L335.56 352.44 L334.73 351.50 L333.90 350.56 L333.07 349.63 L332.24 348.69 L331.41 347.75 L330.58 346.81 L329.76 345.87 L328.93 344.93 L328.11 343.99 L327.29 343.05 L326.47 342.11 L325.65 341.17 L324.83 340.23 L324.02 339.29 L323.21 338.35 L322.39 337.41 L321.58 336.47 L320.77 335.53 L319.96 334.60 L319.16 333.66 L318.35 332.72 L317.55 331.78 L316.74 330.84 L315.94 329.90 L315.14 328.96 L314.34 328.02 L313.55 327.08 L312.75 326.14 L311.96 325.20 L311.16 324.26 L310.37 323.32 L309.58 322.38 L308.79 321.44 L308.00 320.51 L307.22 319.57 L306.43 318.63 L305.65 317.69 L304.87 316.75 L304.08 315.81 L303.30 314.87 L302.53 313.93 L301.75 312.99 L300.97 312.05 L300.20 311.11 L299.43 310.17 L298.66 309.23 L297.89 308.29 L297.12 307.35 L296.35 306.41 L295.58 305.48 L294.82 304.54 L294.06 303.60 L293.29 302.66 L292.53 301.72 L291.77 300.78 L291.02 299.84 L290.26 298.90 L289.50 297.96 L288.75 297.02 L288.00 296.08 L287.25 295.14 L286.50 294.20 L285.75 293.26 L285.00 292.32 L284.26 291.38 L283.51 290.45 L282.77 289.51 L282.03 288.57 L281.29 287.63 L280.55 286.69 L279.81 285.75 L279.07 284.81 L278.34 283.87 L277.60 282.93 L276.87 281.99 L276.14 281.05 L275.41 280.11 L274.68 279.17 L273.95 278.23 L273.23 277.29 L272.50 276.35 L271.78 275.42 L271.06 274.48 L270.34 273.54 L269.62 272.60 L268.90 271.66 L268.18 270.72 L267.47 269.78 L266.75 268.84 L266.04 267.90 L265.33 266.96 L264.62 266.02 L263.91 265.08 L263.20 264.14 L262.50 263.20 L261.79 262.26 L261.09 261.32 L260.38 260.39 L259.68 259.45 L258.98 258.51 L258.29 257.57 L257.59 256.63 L256.89 255.69 L256.20 254.75 L255.50 253.81 L254.81 252.87 L254.12 251.93 L253.43 250.99 L252.74 250.05 L252.06 249.11 L251.37 248.17 L250.69 247.23 L250.00 246.29 L249.32 245.36 L248.64 244.42 L247.96 243.48 L247.28 242.54 L246.61 241.60 L245.93 240.66 L245.26 239.72 L244.59 238.78 L243.91 237.84 L243.24 236.90 L242.57 235.96 L241.91 235.02 L241.24 234.08 L240.57 233.14 L239.91 232.20 L239.25 231.27 L238.59 230.33 L237.93 229.39 L237.27 228.45 L236.61 227.51 L235.95 226.57 L235.30 225.63 L234.64 224.69 L233.99 223.75 L233.34 222.81 L232.69 221.87 L232.04 220.93 L231.39 219.99 L230.75 219.05 L230.10 218.11 L229.46 217.17 L228.82 216.24 L228.17 215.30 L227.53 214.36 L226.90 213.42 L226.26 212.48 L225.62 211.54 L224.99 210.60 L224.35 209.66 L223.72 208.72 L223.09 207.78 L222.46 206.84 L221.83 205.90 L221.20 204.96 L220.58 204.02 L219.95 203.08 L219.33 202.14 L218.70 201.21 L218.08 200.27 L217.46 199.33 L216.84 198.39 L216.22 197.45 L215.61 196.51 L214.99 195.57 L214.38 194.63 L213.77 193.69 L213.15 192.75 L212.54 191.81 L211.93 190.87 L211.33 189.93 L210.72 188.99 L210.11 188.05 L209.51 187.11 L208.91 186.18 L208.30 185.24 L207.70 184.30 L207.10 183.36 L206.50 182.42 L205.91 181.48 L205.31 180.54 L204.72 179.60 L204.12 178.66 L203.53 177.72 L202.94 176.78 L202.35 175.84 L201.76 174.90 L201.17 173.96 L200.59 173.02 L200.00 172.08 L199.42 171.15 L198.84 170.21 L198.25 169.27 L197.67 168.33 L197.09 167.39 L196.52 166.45 L195.94 165.51 L195.36 164.57 L194.79 163.63 L194.22 162.69 L193.64 161.75 L193.07 160.81 L192.50 159.87 L191.94 158.93 L191.37 157.99 L190.80 157.05 L190.24 156.12 L189.67 155.18 L189.11 154.24 L188.55 153.30 L187.99 152.36 L187.43 151.42 L186.87 150.48 L186.32 149.54 L185.76 148.60 L185.21 147.66 L184.65 146.72 L184.10 145.78 L183.55 144.84 L183.00 143.90 L182.45 142.96 L181.91 142.03 L181.36 141.09 L180.81 140.15 L180.27 139.21 L179.73 138.27 L179.19 137.33 L178.65 136.39 L178.11 135.45 L177.57 134.51 L177.03 133.57 L176.50 132.63 L175.96 131.69 L175.43 130.75 L174.90 129.81 L174.37 128.87 L173.84 127.93 L173.31 127.00 L172.78 126.06 L172.25 125.12 L171.73 124.18 L171.20 123.24 L170.68 122.30 L170.16 121.36 L169.64 120.42 L169.12 119.48 L168.60 118.54 L168.08 117.60 L167.57 116.66 L167.05 115.72 L166.54 114.78 L166.03 113.84 L165.51 112.90 L165.00 111.97 L164.50 111.03 L163.99 110.09 L163.48 109.15 L162.97 108.21 L162.47 107.27 L161.97 106.33 L161.46 105.39 L160.96 104.45 L160.46 103.51 L159.96 102.57 L159.46 101.63 L158.97 100.69 L158.47 99.75 L157.98 98.81 L157.48 97.87 L156.99 96.94 L156.50 96.00 L156.01 95.06 L155.52 94.12 L155.03 93.18 L154.55 92.24 L154.06 91.30 L153.58 90.36 L153.09 89.42 L152.61 88.48 L152.13 87.54 L151.65 86.60 L151.17 85.66 L150.69 84.72 L150.22 83.78 L149.74 82.84 L149.27 81.91 L148.79 80.97 L148.32 80.03 L147.85 79.09 L147.38 78.15 L146.91 77.21 L146.44 76.27 L145.97 75.33 L145.51 74.39 L145.04 73.45 L144.58 72.51 L144.12 71.57 L143.66 70.63 L143.20 69.69 L142.74 68.75 L142.28 67.81 L141.82 66.88 L141.37 65.94 L140.91 65.00 L140.46 64.06 L140.01 63.12 L139.55 62.18 L139.10 61.24 L138.65 60.30" fill="none" stroke="#a52a2a" stroke-width="1.1"/>
<path d="M823.97 694.37 L822.47 693.43 L820.97 692.49 L819.47 691.56 L817.97 690.62 L816.48 689.68 L814.99 688.74 L813.50 687.80 L812.01 686.86 L810.53 685.92 L809.04 684.98 L807.56 684.04 L806.08 683.10 L804.60 682.16 L803.13 681.22 L801.65 680.28 L800.18 679.34 L798.71 678.40 L797.24 677.46 L795.77 676.53 L794.31 675.59 L792.85 674.65 L791.39 673.71 L789.93 672.77 L788.47 671.83 L787.02 670.89 L785.56 669.95 L784.11 669.01 L782.66 668.07 L781.22 667.13 L779.77 666.19 L778.33 665.25 L776.89 664.31 L775.45 663.37 L774.01 662.44 L772.58 661.50 L771.14 660.56 L769.71 659.62 L768.28 658.68 L766.85 657.74 L765.43 656.80 L764.00 655.86 L762.58 654.92 L761.16 653.98 L759.74 653.04 L758.32 652.10 L756.91 651.16 L755.50 650.22 L754.09 649.28 L752.68 648.34 L751.27 647.41 L749.87 646.47 L748.46 645.53 L747.06 644.59 L745.66 643.65 L744.26 642.71 L742.87 641.77 L741.47 640.83 L740.08 639.89 L738.69 638.95 L737.30 638.01 L735.92 637.07 L734.53 636.13 L733.15 635.19 L731.77 634.25 L730.39 633.31 L729.02 632.38 L727.64 631.44 L726.27 630.50 L724.90 629.56 L723.53 628.62 L722.16 627.68 L720.79 626.74 L719.43 625.80 L718.07 624.86 L716.71 623.92 L715.35 622.98 L713.99 622.04 L712.64 621.10 L711.28 620.16 L709.93 619.22 L708.58 618.28 L707.24 617.35 L705.89 616.41 L704.55 615.47 L703.21 614.53 L701.87 613.59 L700.53 612.65 L699.19 611.71 L697.86 610.77 L696.52 609.83 L695.19 608.89 L693.86 607.95 L692.54 607.01 L691.21 606.07 L689.89 605.13 L688.57 604.19 L687.25 603.25 L685.93 602.32 L684.61 601.38 L683.30 600.44 L681.99 599.50 L680.68 598.56 L679.37 597.62 L678.06 596.68 L676.75 595.74 L675.45 594.80 L674.15 593.86 L672.85 592.92 L671.55 591.98 L670.25 591.04 L668.96 590.10 L667.67 589.16 L666.38 588.22 L665.09 587.29 L663.80 586.35 L662.51 585.41 L661.23 584.47 L659.95 583.53 L658.67 582.59 L657.39 581.65 L656.11 580.71 L654.84 579.77 L653.56 578.83 L652.29 577.89 L651.02 576.95 L649.76 576.01 L648.49 575.07 L647.23 574.13 L645.96 573.20 L644.70 572.26 L643.44 571.32 L642.19 570.38 L640.93 569.44 L639.68 568.50 L638.43 567.56 L637.18 566.62 L635.93 565.68 L634.68 564.74 L633.44 563.80 L632.19 562.86 L630.95 561.92 L629.71 560.98 L628.47 560.04 L627.24 559.10 L626.00 558.17 L624.77 557.23 L623.54 556.29 L622.31 555.35 L621.08 554.41 L619.86 553.47 L618.63 552.53 L617.41 551.59 L616.19 550.65 L614.97 549.71 L613.76 548.77 L612.54 547.83 L611.33 546.89 L610.11 545.95 L608.90 545.01 L607.70 544.07 L606.49 543.14 L605.28 542.20 L604.08 541.26 L602.88 540.32 L601.68 539.38 L600.48 538.44 L599.29 537.50 L598.09 536.56 L596.90 535.62 L595.71 534.68 L594.52 533.74 L593.33 532.80 L592.14 531.86 L590.96 530.92 L589.78 529.98 L588.60 529.04 L587.42 528.11 L586.24 527.17 L585.06 526.23 L583.89 525.29 L582.72 524.35 L581.55 523.41 L580.38 522.47 L579.21 521.53 L578.04 520.59 L576.88 519.65 L575.72 518.71 L574.56 517.77 L573.40 516.83 L572.24 515.89 L571.09 514.95 L569.93 514.01 L568.78 513.08 L567.63 512.14 L566.48 511.20 L565.33 510.26 L564.19 509.32 L563.04 508.38 L561.90 507.44 L560.76 506.50 L559.62 505.56 L558.48 504.62 L557.35 503.68 L556.21 502.74 L555.08 501.80 L553.95 500.86 L552.82 499.92 L551.70 498.99 L550.57 498.05 L549.45 497.11 L548.32 496.17 L547.20 495.23 L546.08 494.29 L544.97 493.35 L543.85 492.41 L542.74 491.47 L541.62 490.53 L540.51 489.59 L539.40 488.65 L538.30 487.71 L537.19 486.77 L536.09 485.83 L534.98 484.89 L533.88 483.96 L532.78 483.02 L531.69 482.08 L530.59 481.14 L529.50 480.20 L528.40 479.26 L527.31 478.32 L526.22 477.38 L525.13 476.44 L524.05 475.50 L522.96 474.56 L521.88 473.62 L520.80 472.68 L519.72 471.74 L518.64 470.80 L517.56 469.86 L516.49 468.93 L515.42 467.99 L514.34 467.05 L513.27 466.11 L512.21 465.17 L511.14 464.23 L510.07 463.29 L509.01 462.35 L507.95 461.41 L506.89 460.47 L505.83 459.53 L504.77 458.59 L503.72 457.65 L502.66 456.71 L501.61 455.77 L500.56 454.83 L499.51 453.90 L498.46 452.96 L497.41 452.02 L496.37 451.08 L495.33 450.14 L494.28 449.20 L493.25 448.26 L492.21 447.32 L491.17 446.38 L490.14 445.44 L489.10 444.50 L488.07 443.56 L487.04 442.62 L486.01 441.68 L484.98 440.74 L483.96 439.80 L482.93 438.87 L481.91 437.93 L480.89 436.99 L479.87 436.05 L478.85 435.11 L477.84 434.17 L476.82 433.23 L475.81 432.29 L474.80 431.35 L473.79 430.41 L472.78 429.47 L471.77 428.53 L470.77 427.59 L469.76 426.65 L468.76 425.71 L467.76 424.77 L466.76 423.84 L465.76 422.90 L464.77 421.96 L463.77 421.02 L462.78 420.08 L461.79 419.14 L460.80 418.20 L459.81 417.26 L458.82 416.32 L457.84 415.38 L456.85 414.44 L455.87 413.50 L454.89 412.56 L453.91 411.62 L452.93 410.68 L451.96 409.75 L450.98 408.81 L450.01 407.87 L449.04 406.93 L448.07 405.99 L447.10 405.05 L446.13 404.11 L445.17 403.17 L444.20 402.23 L443.24 401.29 L442.28 400.35 L441.32 399.41 L440.36 398.47 L439.41 397.53 L438.45 396.59 L437.50 395.65 L436.55 394.72 L435.60 393.78 L434.65 392.84 L433.70 391.90 L432.75 390.96 L431.81 390.02 L430.87 389.08 L429.93 388.14 L428.99 387.20 L428.05 386.26 L427.11 385.32 L426.18 384.38 L425.24 383.44 L424.31 382.50 L423.38 381.56 L422.45 380.62 L421.52 379.69 L420.59 378.75 L419.67 377.81 L418.75 376.87 L417.82 375.93 L416.90 374.99 L415.98 374.05 L415.07 373.11 L414.15 372.17 L413.24 371.23 L412.32 370.29 L411.41 369.35 L410.50 368.41 L409.59 367.47 L408.69 366.53 L407.78 365.59 L406.88 364.66 L405.97 363.72 L405.07 362.78 L404.17 361.84 L403.27 360.90 L402.38 359.96 L401.48 359.02 L400.59 358.08 L399.70 357.14 L398.80 356.20 L397.91 355.26 L397.03 354.32 L396.14 353.38 L395.25 352.44 L394.37 351.50 L393.49 350.56 L392.61 349.63 L391.73 348.69 L390.85 347.75 L389.97 346.81 L389.10 345.87 L388.22 344.93 L387.35 343.99 L386.48 343.05 L385.61 342.11 L384.74 341.17 L383.88 340.23 L383.01 339.29 L382.15 338.35 L381.29 337.41 L380.43 336.47 L379.57 335.53 L378.71 334.60 L377.85 333.66 L377.00 332.72 L376.14 331.78 L375.29 330.84 L374.44 329.90 L373.59 328.96 L372.74 328.02 L371.90 327.08 L371.05 326.14 L370.21 325.20 L369.37 324.26 L368.53 323.32 L367.69 322.38 L366.85 321.44 L366.01 320.51 L365.18 319.57 L364.34 318.63 L363.51 317.69 L362.68 316.75 L361.85 315.81 L361.02 314.87 L360.19 313.93 L359.37 312.99 L358.55 312.05 L357.72 311.11 L356.90 310.17 L356.08 309.23 L355.26 308.29 L354.45 307.35 L353.63 306.41 L352.82 305.48 L352.00 304.54 L351.19 303.60 L350.38 302.66 L349.57 301.72 L348.77 300.78 L347.96 299.84 L347.16 298.90 L346.35 297.96 L345.55 297.02 L344.75 296.08 L343.95 295.14 L343.16 294.20 L342.36 293.26 L341.56 292.32 L340.77 291.38 L339.98 290.45 L339.19 289.51 L338.40 288.57 L337.61 287.63 L336.82 286.69 L336.04 285.75 L335.26 284.81 L334.47 283.87 L333.69 282.93 L332.91 281.99 L332.13 281.05 L331.36 280.11 L330.58 279.17 L329.81 278.23 L329.03 277.29 L328.26 276.35 L327.49 275.42 L326.72 274.48 L325.96 273.54 L325.19 272.60 L324.42 271.66 L323.66 270.72 L322.90 269.78 L322.14 268.84 L321.38 267.90 L320.62 266.96 L319.86 266.02 L319.11 265.08 L318.35 264.14 L317.60 263.20 L316.85 262.26 L316.10 261.32 L315.35 260.39 L314.60 259.45 L313.86 258.51 L313.11 257.57 L312.37 256.63 L311.63 255.69 L310.89 254.75 L310.15 253.81 L309.41 252.87 L308.67 251.93 L307.94 250.99 L307.20 250.05 L306.47 249.11 L305.74 248.17 L305.01 247.23 L304.28 246.29 L303.55 245.36 L302.83 244.42 L302.10 243.48 L301.38 242.54 L300.66 241.60 L299.94 240.66 L299.22 239.72 L298.50 238.78 L297.78 237.84 L297.07 236.90 L296.35 235.96 L295.64 235.02 L294.93 234.08 L294.22 233.14 L293.51 232.20 L292.80 231.27 L292.09 230.33 L291.39 229.39 L290.68 228.45 L289.98 227.51 L289.28 226.57 L288.58 225.63 L287.88 224.69 L287.18 223.75 L286.49 222.81 L285.79 221.87 L285.10 220.93 L284.41 219.99 L283.72 219.05 L283.03 218.11 L282.34 217.17 L281.65 216.24 L280.97 215.30 L280.28 214.36 L279.60 213.42 L278.92 212.48 L278.23 211.54 L277.56 210.60 L276.88 209.66 L276.20 208.72 L275.52 207.78 L274.85 206.84 L274.18 205.90 L273.51 204.96 L272.84 204.02 L272.17 203.08 L271.50 202.14 L270.83 201.21 L270.17 200.27 L269.50 199.33 L268.84 198.39 L268.18 197.45 L267.52 196.51 L266.86 195.57 L266.20 194.63 L265.54 193.69 L264.89 192.75 L264.23 191.81 L263.58 190.87 L262.93 189.93 L262.28 188.99 L261.63 188.05 L260.98 187.11 L260.34 186.18 L259.69 185.24 L259.05 184.30 L258.40 183.36 L257.76 182.42 L257.12 181.48 L256.48 180.54 L255.85 179.60 L255.21 178.66 L254.57 177.72 L253.94 176.78 L253.31 175.84 L252.68 174.90 L252.05 173.96 L251.42 173.02 L250.79 172.08 L250.16 171.15 L249.54 170.21 L248.91 169.27 L248.29 168.33 L247.67 167.39 L247.05 166.45 L246.43 165.51 L245.81 164.57 L245.19 163.63 L244.58 162.69 L243.96 161.75 L243.35 160.81 L242.74 159.87 L242.13 158.93 L241.52 157.99 L240.91 157.05 L240.30 156.12 L239.70 155.18 L239.09 154.24 L238.49 153.30 L237.89 152.36 L237.29 151.42 L236.69 150.48 L236.09 149.54 L235.49 148.60 L234.89 147.66 L234.30 146.72 L233.70 145.78 L233.11 144.84 L232.52 143.90 L231.93 142.96 L231.34 142.03 L230.75 141.09 L230.17 140.15 L229.58 139.21 L229.00 138.27 L228.42 137.33 L227.83 136.39 L227.25 135.45 L226.67 134.51 L226.10 133.57 L225.52 132.63 L224.94 131.69 L224.37 130.75 L223.80 129.81 L223.22 128.87 L222.65 127.93 L222.08 127.00 L221.51 126.06 L220.95 125.12 L220.38 124.18 L219.82 123.24 L219.25 122.30 L218.69 121.36 L218.13 120.42 L217.57 119.48 L217.01 118.54 L216.45 117.60 L215.89 116.66 L215.34 115.72 L214.78 114.78 L214.23 113.84 L213.68 112.90 L213.13 111.97 L212.58 111.03 L212.03 110.09 L211.48 109.15 L210.93 108.21 L210.39 107.27 L209.85 106.33 L209.30 105.39 L208.76 104.45 L208.22 103.51 L207.68 102.57 L207.14 101.63 L206.61 100.69 L206.07 99.75 L205.54 98.81 L205.00 97.87 L204.47 96.94 L203.94 96.00 L203.41 95.06 L202.88 94.12 L202.35 93.18 L201.83 92.24 L201.30 91.30 L200.78 90.36 L200.25 89.42 L199.73 88.48 L199.21 87.54 L198.69 86.60 L198.17 85.66 L197.65 84.72 L197.14 83.78 L196.62 82.84 L196.11 81.91 L195.60 80.97 L195.08 80.03 L194.57 79.09 L194.06 78.15 L193.56 77.21 L193.05 76.27 L192.54 75.33 L192.04 74.39 L191.53 73.45 L191.03 72.51 L190.53 71.57 L190.03 70.63 L189.53 69.69 L189.03 68.75 L188.54 67.81 L188.04 66.88 L187.55 65.94 L187.05 65.00 L186.56 64.06 L186.07 63.12 L185.58 62.18 L185.09 61.24 L184.60 60.30" fill="none" stroke="#a52a2a" stroke-width="1.1"/>
<path d="M823.15 643.65 L821.69 642.71 L820.23 641.77 L818.77 640.83 L817.31 639.89 L815.86 638.95 L814.40 638.01 L812.95 637.07 L811.50 636.13 L810.06 635.19 L808.61 634.25 L807.17 633.31 L805.73 632.38 L804.29 631.44 L802.85 630.50 L801.41 629.56 L799.98 628.62 L798.55 627.68 L797.12 626.74 L795.69 625.80 L794.26 624.86 L792.84 623.92 L791.42 622.98 L789.99 622.04 L788.58 621.10 L787.16 620.16 L785.74 619.22 L784.33 618.28 L782.92 617.35 L781.51 616.41 L780.10 615.47 L778.70 614.53 L777.30 613.59 L775.89 612.65 L774.49 611.71 L773.10 610.77 L771.70 609.83 L770.31 608.89 L768.91 607.95 L767.52 607.01 L766.14 606.07 L764.75 605.13 L763.36 604.19 L761.98 603.25 L760.60 602.32 L759.22 601.38 L757.84 600.44 L756.47 599.50 L755.10 598.56 L753.72 597.62 L752.35 596.68 L750.99 595.74 L749.62 594.80 L748.26 593.86 L746.89 592.92 L745.53 591.98 L744.18 591.04 L742.82 590.10 L741.46 589.16 L740.11 588.22 L738.76 587.29 L737.41 586.35 L736.06 585.41 L734.72 584.47 L733.37 583.53 L732.03 582.59 L730.69 581.65 L729.35 580.71 L728.02 579.77 L726.68 578.83 L725.35 577.89 L724.02 576.95 L722.69 576.01 L721.36 575.07 L720.03 574.13 L718.71 573.20 L717.39 572.26 L716.07 571.32 L714.75 570.38 L713.43 569.44 L712.12 568.50 L710.81 567.56 L709.50 566.62 L708.19 565.68 L706.88 564.74 L705.57 563.80 L704.27 562.86 L702.97 561.92 L701.67 560.98 L700.37 560.04 L699.07 559.10 L697.78 558.17 L696.49 557.23 L695.19 556.29 L693.90 555.35 L692.62 554.41 L691.33 553.47 L690.05 552.53 L688.76 551.59 L687.48 550.65 L686.21 549.71 L684.93 548.77 L683.65 547.83 L682.38 546.89 L681.11 545.95 L679.84 545.01 L678.57 544.07 L677.30 543.14 L676.04 542.20 L674.78 541.26 L673.52 540.32 L672.26 539.38 L671.00 538.44 L669.74 537.50 L668.49 536.56 L667.24 535.62 L665.99 534.68 L664.74 533.74 L663.49 532.80 L662.25 531.86 L661.00 530.92 L659.76 529.98 L658.52 529.04 L657.28 528.11 L656.05 527.17 L654.81 526.23 L653.58 525.29 L652.35 524.35 L651.12 523.41 L649.89 522.47 L648.67 521.53 L647.44 520.59 L646.22 519.65 L645.00 518.71 L643.78 517.77 L642.56 516.83 L641.35 515.89 L640.13 514.95 L638.92 514.01 L637.71 513.08 L636.50 512.14 L635.30 511.20 L634.09 510.26 L632.89 509.32 L631.69 508.38 L630.49 507.44 L629.29 506.50 L628.09 505.56 L626.90 504.62 L625.70 503.68 L624.51 502.74 L623.32 501.80 L622.13 500.86 L620.95 499.92 L619.76 498.99 L618.58 498.05 L617.40 497.11 L616.22 496.17 L615.04 495.23 L613.87 494.29 L612.69 493.35 L611.52 492.41 L610.35 491.47 L609.18 490.53 L608.01 489.59 L606.85 488.65 L605.68 487.71 L604.52 486.77 L603.36 485.83 L602.20 484.89 L601.04 483.96 L599.89 483.02 L598.73 482.08 L597.58 481.14 L596.43 480.20 L595.28 479.26 L594.13 478.32 L592.99 477.38 L591.84 476.44 L590.70 475.50 L589.56 474.56 L588.42 473.62 L587.28 472.68 L586.15 471.74 L585.01 470.80 L583.88 469.86 L582.75 468.93 L581.62 467.99 L580.49 467.05 L579.37 466.11 L578.24 465.17 L577.12 464.23 L576.00 463.29 L574.88 462.35 L573.76 461.41 L572.65 460.47 L571.53 459.53 L570.42 458.59 L569.31 457.65 L568.20 456.71 L567.09 455.77 L565.99 454.83 L564.88 453.90 L563.78 452.96 L562.68 452.02 L561.58 451.08 L560.48 450.14 L559.38 449.20 L558.29 448.26 L557.20 447.32 L556.10 446.38 L555.02 445.44 L553.93 444.50 L552.84 443.56 L551.76 442.62 L550.67 441.68 L549.59 440.74 L548.51 439.80 L547.43 438.87 L546.36 437.93 L545.28 436.99 L544.21 436.05 L543.13 435.11 L542.06 434.17 L541.00 433.23 L539.93 432.29 L538.86 431.35 L537.80 430.41 L536.74 429.47 L535.68 428.53 L534.62 427.59 L533.56 426.65 L532.50 425.71 L531.45 424.77 L530.40 423.84 L529.34 422.90 L528.30 421.96 L527.25 421.02 L526.20 420.08 L525.16 419.14 L524.11 418.20 L523.07 417.26 L522.03 416.32 L520.99 415.38 L519.96 414.44 L518.92 413.50 L517.89 412.56 L516.85 411.62 L515.82 410.68 L514.79 409.75 L513.77 408.81 L512.74 407.87 L511.72 406.93 L510.69 405.99 L509.67 405.05 L508.65 404.11 L507.64 403.17 L506.62 402.23 L505.60 401.29 L504.59 400.35 L503.58 399.41 L502.57 398.47 L501.56 397.53 L500.55 396.59 L499.55 395.65 L498.54 394.72 L497.54 393.78 L496.54 392.84 L495.54 391.90 L494.54 390.96 L493.55 390.02 L492.55 389.08 L491.56 388.14 L490.57 387.20 L489.58 386.26 L488.59 385.32 L487.60 384.38 L486.62 383.44 L485.63 382.50 L484.65 381.56 L483.67 380.62 L482.69 379.69 L481.71 378.75 L480.73 377.81 L479.76 376.87 L478.79 375.93 L477.81 374.99 L476.84 374.05 L475.88 373.11 L474.91 372.17 L473.94 371.23 L472.98 370.29 L472.02 369.35 L471.06 368.41 L470.10 367.47 L469.14 366.53 L468.18 365.59 L467.23 364.66 L466.27 363.72 L465.32 362.78 L464.37 361.84 L463.42 360.90 L462.47 359.96 L461.53 359.02 L460.58 358.08 L459.64 357.14 L458.70 356.20 L457.76 355.26 L456.82 354.32 L455.88 353.38 L454.95 352.44 L454.01 351.50 L453.08 350.56 L452.15 349.63 L451.22 348.69 L450.29 347.75 L449.37 346.81 L448.44 345.87 L447.52 344.93 L446.59 343.99 L445.67 343.05 L444.76 342.11 L443.84 341.17 L442.92 340.23 L442.01 339.29 L441.09 338.35 L440.18 337.41 L439.27 336.47 L438.36 335.53 L437.46 334.60 L436.55 333.66 L435.64 332.72 L434.74 331.78 L433.84 330.84 L432.94 329.90 L432.04 328.96 L431.14 328.02 L430.25 327.08 L429.35 326.14 L428.46 325.20 L427.57 324.26 L426.68 323.32 L425.79 322.38 L424.91 321.44 L424.02 320.51 L423.14 319.57 L422.25 318.63 L421.37 317.69 L420.49 316.75 L419.62 315.81 L418.74 314.87 L417.86 313.93 L416.99 312.99 L416.12 312.05 L415.25 311.11 L414.38 310.17 L413.51 309.23 L412.64 308.29 L411.78 307.35 L410.91 306.41 L410.05 305.48 L409.19 304.54 L408.33 303.60 L407.47 302.66 L406.61 301.72 L405.76 300.78 L404.91 299.84 L404.05 298.90 L403.20 297.96 L402.35 297.02 L401.51 296.08 L400.66 295.14 L399.81 294.20 L398.97 293.26 L398.13 292.32 L397.29 291.38 L396.45 290.45 L395.61 289.51 L394.77 288.57 L393.94 287.63 L393.10 286.69 L392.27 285.75 L391.44 284.81 L390.61 283.87 L389.78 282.93 L388.95 281.99 L388.13 281.05 L387.30 280.11 L386.48 279.17 L385.66 278.23 L384.84 277.29 L384.02 276.35 L383.20 275.42 L382.39 274.48 L381.57 273.54 L380.76 272.60 L379.95 271.66 L379.14 270.72 L378.33 269.78 L377.52 268.84 L376.72 267.90 L375.91 266.96 L375.11 266.02 L374.31 265.08 L373.51 264.14 L372.71 263.20 L371.91 262.26 L371.11 261.32 L370.32 260.39 L369.52 259.45 L368.73 258.51 L367.94 257.57 L367.15 256.63 L366.36 255.69 L365.58 254.75 L364.79 253.81 L364.01 252.87 L363.23 251.93 L362.44 250.99 L361.66 250.05 L360.89 249.11 L360.11 248.17 L359.33 247.23 L358.56 246.29 L357.79 245.36 L357.01 244.42 L356.24 243.48 L355.47 242.54 L354.71 241.60 L353.94 240.66 L353.17 239.72 L352.41 238.78 L351.65 237.84 L350.89 236.90 L350.13 235.96 L349.37 235.02 L348.61 234.08 L347.86 233.14 L347.10 232.20 L346.35 231.27 L345.60 230.33 L344.85 229.39 L344.10 228.45 L343.35 227.51 L342.61 226.57 L341.86 225.63 L341.12 224.69 L340.38 223.75 L339.63 222.81 L338.90 221.87 L338.16 220.93 L337.42 219.99 L336.68 219.05 L335.95 218.11 L335.22 217.17 L334.49 216.24 L333.76 215.30 L333.03 214.36 L332.30 213.42 L331.57 212.48 L330.85 211.54 L330.12 210.60 L329.40 209.66 L328.68 208.72 L327.96 207.78 L327.24 206.84 L326.53 205.90 L325.81 204.96 L325.10 204.02 L324.38 203.08 L323.67 202.14 L322.96 201.21 L322.25 200.27 L321.54 199.33 L320.84 198.39 L320.13 197.45 L319.43 196.51 L318.72 195.57 L318.02 194.63 L317.32 193.69 L316.62 192.75 L315.93 191.81 L315.23 190.87 L314.53 189.93 L313.84 188.99 L313.15 188.05 L312.46 187.11 L311.77 186.18 L311.08 185.24 L310.39 184.30 L309.71 183.36 L309.02 182.42 L308.34 181.48 L307.66 180.54 L306.97 179.60 L306.29 178.66 L305.62 177.72 L304.94 176.78 L304.26 175.84 L303.59 174.90 L302.92 173.96 L302.24 173.02 L301.57 172.08 L300.90 171.15 L300.24 170.21 L299.57 169.27 L298.90 168.33 L298.24 167.39 L297.58 166.45 L296.91 165.51 L296.25 164.57 L295.59 163.63 L294.94 162.69 L294.28 161.75 L293.62 160.81 L292.97 159.87 L292.32 158.93 L291.67 157.99 L291.02 157.05 L290.37 156.12 L289.72 155.18 L289.07 154.24 L288.43 153.30 L287.78 152.36 L287.14 151.42 L286.50 150.48 L285.86 149.54 L285.22 148.60 L284.58 147.66 L283.94 146.72 L283.31 145.78 L282.67 144.84 L282.04 143.90 L281.41 142.96 L280.78 142.03 L280.15 141.09 L279.52 140.15 L278.89 139.21 L278.27 138.27 L277.64 137.33 L277.02 136.39 L276.40 135.45 L275.78 134.51 L275.16 133.57 L274.54 132.63 L273.92 131.69 L273.31 130.75 L272.69 129.81 L272.08 128.87 L271.47 127.93 L270.86 127.00 L270.25 126.06 L269.64 125.12 L269.03 124.18 L268.43 123.24 L267.82 122.30 L267.22 121.36 L266.62 120.42 L266.01 119.48 L265.41 118.54 L264.82 117.60 L264.22 116.66 L263.62 115.72 L263.03 114.78 L262.43 113.84 L261.84 112.90 L261.25 111.97 L260.66 111.03 L260.07 110.09 L259.48 109.15 L258.90 108.21 L258.31 107.27 L257.73 106.33 L257.14 105.39 L256.56 104.45 L255.98 103.51 L255.40 102.57 L254.82 101.63 L254.25 100.69 L253.67 99.75 L253.09 98.81 L252.52 97.87 L251.95 96.94 L251.38 96.00 L250.81 95.06 L250.24 94.12 L249.67 93.18 L249.11 92.24 L248.54 91.30 L247.98 90.36 L247.41 89.42 L246.85 88.48 L246.29 87.54 L245.73 86.60 L245.17 85.66 L244.62 84.72 L244.06 83.78 L243.51 82.84 L242.95 81.91 L242.40 80.97 L241.85 80.03 L241.30 79.09 L240.75 78.15 L240.20 77.21 L239.66 76.27 L239.11 75.33 L238.57 74.39 L238.02 73.45 L237.48 72.51 L236.94 71.57 L236.40 70.63 L235.86 69.69 L235.33 68.75 L234.79 67.81 L234.26 66.88 L233.72 65.94 L233.19 65.00 L232.66 64.06 L232.13 63.12 L231.60 62.18 L231.07 61.24 L230.55 60.30" fill="none" stroke="#a52a2a" stroke-width="1.1"/>
<path d="M686.59 498.05 L685.35 497.11 L684.12 496.17 L682.88 495.23 L681.65 494.29 L680.42 493.35 L679.19 492.41 L677.96 491.47 L676.73 490.53 L675.51 489.59 L674.29 488.65 L673.07 487.71 L671.85 486.77 L670.63 485.83 L669.41 484.89 L668.20 483.96 L666.99 483.02 L665.78 482.08 L664.57 481.14 L663.36 480.20 L662.16 479.26 L660.95 478.32 L659.75 477.38 L658.55 476.44 L657.35 475.50 L656.15 474.56 L654.96 473.62 L653.77 472.68 L652.57 471.74 L651.38 470.80 L650.20 469.86 L649.01 468.93 L647.82 467.99 L646.64 467.05 L645.46 466.11 L644.28 465.17 L643.10 464.23 L641.93 463.29 L640.75 462.35 L639.58 461.41 L638.41 460.47 L637.24 459.53 L636.07 458.59 L634.90 457.65 L633.74 456.71 L632.58 455.77 L631.41 454.83 L630.25 453.90 L629.10 452.96 L627.94 452.02 L626.79 451.08 L625.63 450.14 L624.48 449.20 L623.33 448.26 L622.19 447.32 L621.04 446.38 L619.90 445.44 L618.75 444.50 L617.61 443.56 L616.47 442.62 L615.33 441.68 L614.20 440.74 L613.06 439.80 L611.93 438.87 L610.80 437.93 L609.67 436.99 L608.54 436.05 L607.42 435.11 L606.29 434.17 L605.17 433.23 L604.05 432.29 L602.93 431.35 L601.81 430.41 L600.69 429.47 L599.58 428.53 L598.47 427.59 L597.36 426.65 L596.25 425.71 L595.14 424.77 L594.03 423.84 L592.93 422.90 L591.82 421.96 L590.72 421.02 L589.62 420.08 L588.52 419.14 L587.43 418.20 L586.33 417.26 L585.24 416.32 L584.15 415.38 L583.06 414.44 L581.97 413.50 L580.88 412.56 L579.80 411.62 L578.71 410.68 L577.63 409.75 L576.55 408.81 L575.47 407.87 L574.40 406.93 L573.32 405.99 L572.25 405.05 L571.17 404.11 L570.10 403.17 L569.04 402.23 L567.97 401.29 L566.90 400.35 L565.84 399.41 L564.77 398.47 L563.71 397.53 L562.65 396.59 L561.60 395.65 L560.54 394.72 L559.49 393.78 L558.43 392.84 L557.38 391.90 L556.33 390.96 L555.28 390.02 L554.24 389.08 L553.19 388.14 L552.15 387.20 L551.11 386.26 L550.07 385.32 L549.03 384.38 L547.99 383.44 L546.95 382.50 L545.92 381.56 L544.89 380.62 L543.86 379.69 L542.83 378.75 L541.80 377.81 L540.77 376.87 L539.75 375.93 L538.73 374.99 L537.70 374.05 L536.68 373.11 L535.67 372.17 L534.65 371.23 L533.63 370.29 L532.62 369.35 L531.61 368.41 L530.60 367.47 L529.59 366.53 L528.58 365.59 L527.58 364.66 L526.57 363.72 L525.57 362.78 L524.57 361.84 L523.57 360.90 L522.57 359.96 L521.57 359.02 L520.58 358.08 L519.58 357.14 L518.59 356.20 L517.60 355.26 L516.61 354.32 L515.63 353.38 L514.64 352.44 L513.66 351.50 L512.67 350.56 L511.69 349.63 L510.71 348.69 L509.73 347.75 L508.76 346.81 L507.78 345.87 L506.81 344.93 L505.84 343.99 L504.87 343.05 L503.90 342.11 L502.93 341.17 L501.96 340.23 L501.00 339.29 L500.04 338.35 L499.08 337.41 L498.12 336.47 L497.16 335.53 L496.20 334.60 L495.25 333.66 L494.29 332.72 L493.34 331.78 L492.39 330.84 L491.44 329.90 L490.49 328.96 L489.55 328.02 L488.60 327.08 L487.66 326.14 L486.72 325.20 L485.78 324.26 L484.84 323.32 L483.90 322.38 L482.96 321.44 L482.03 320.51 L481.10 319.57 L480.17 318.63 L479.24 317.69 L478.31 316.75 L477.38 315.81 L476.46 314.87 L475.53 313.93 L474.61 312.99 L473.69 312.05 L472.77 311.11 L471.85 310.17 L470.93 309.23 L470.02 308.29 L469.11 307.35 L468.19 306.41 L467.28 305.48 L466.37 304.54 L465.47 303.60 L464.56 302.66 L463.66 301.72 L462.75 300.78 L461.85 299.84 L460.95 298.90 L460.05 297.96 L459.15 297.02 L458.26 296.08 L457.36 295.14 L456.47 294.20 L455.58 293.26 L454.69 292.32 L453.80 291.38 L452.91 290.45 L452.03 289.51 L451.14 288.57 L450.26 287.63 L449.38 286.69 L448.50 285.75 L447.62 284.81 L446.74 283.87 L445.87 282.93 L444.99 281.99 L444.12 281.05 L443.25 280.11 L442.38 279.17 L441.51 278.23 L440.65 277.29 L439.78 276.35 L438.92 275.42 L438.05 274.48 L437.19 273.54 L436.33 272.60 L435.47 271.66 L434.62 270.72 L433.76 269.78 L432.91 268.84 L432.06 267.90 L431.20 266.96 L430.35 266.02 L429.51 265.08 L428.66 264.14 L427.81 263.20 L426.97 262.26 L426.13 261.32 L425.29 260.39 L424.45 259.45 L423.61 258.51 L422.77 257.57 L421.93 256.63 L421.10 255.69 L420.27 254.75 L419.44 253.81 L418.61 252.87 L417.78 251.93 L416.95 250.99 L416.12 250.05 L415.30 249.11 L414.48 248.17 L413.66 247.23 L412.84 246.29 L412.02 245.36 L411.20 244.42 L410.38 243.48 L409.57 242.54 L408.76 241.60 L407.94 240.66 L407.13 239.72 L406.32 238.78 L405.52 237.84 L404.71 236.90 L403.91 235.96 L403.10 235.02 L402.30 234.08 L401.50 233.14 L400.70 232.20 L399.90 231.27 L399.11 230.33 L398.31 229.39 L397.52 228.45 L396.72 227.51 L395.93 226.57 L395.14 225.63 L394.35 224.69 L393.57 223.75 L392.78 222.81 L392.00 221.87 L391.21 220.93 L390.43 219.99 L389.65 219.05 L388.87 218.11 L388.10 217.17 L387.32 216.24 L386.55 215.30 L385.77 214.36 L385.00 213.42 L384.23 212.48 L383.46 211.54 L382.69 210.60 L381.93 209.66 L381.16 208.72 L380.40 207.78 L379.63 206.84 L378.87 205.90 L378.11 204.96 L377.36 204.02 L376.60 203.08 L375.84 202.14 L375.09 201.21 L374.33 200.27 L373.58 199.33 L372.83 198.39 L372.08 197.45 L371.34 196.51 L370.59 195.57 L369.84 194.63 L369.10 193.69 L368.36 192.75 L367.62 191.81 L366.88 190.87 L366.14 189.93 L365.40 188.99 L364.67 188.05 L363.93 187.11 L363.20 186.18 L362.47 185.24 L361.74 184.30 L361.01 183.36 L360.28 182.42 L359.55 181.48 L358.83 180.54 L358.10 179.60 L357.38 178.66 L356.66 177.72 L355.94 176.78 L355.22 175.84 L354.50 174.90 L353.79 173.96 L353.07 173.02 L352.36 172.08 L351.65 171.15 L350.94 170.21 L350.23 169.27 L349.52 168.33 L348.81 167.39 L348.11 166.45 L347.40 165.51 L346.70 164.57 L346.00 163.63 L345.30 162.69 L344.60 161.75 L343.90 160.81 L343.20 159.87 L342.51 158.93 L341.81 157.99 L341.12 157.05 L340.43 156.12 L339.74 155.18 L339.05 154.24 L338.36 153.30 L337.68 152.36 L336.99 151.42 L336.31 150.48 L335.63 149.54 L334.95 148.60 L334.27 147.66 L333.59 146.72 L332.91 145.78 L332.23 144.84 L331.56 143.90 L330.89 142.96 L330.21 142.03 L329.54 141.09 L328.87 140.15 L328.21 139.21 L327.54 138.27 L326.87 137.33 L326.21 136.39 L325.54 135.45 L324.88 134.51 L324.22 133.57 L323.56 132.63 L322.90 131.69 L322.25 130.75 L321.59 129.81 L320.94 128.87 L320.28 127.93 L319.63 127.00 L318.98 126.06 L318.33 125.12 L317.68 124.18 L317.04 123.24 L316.39 122.30 L315.75 121.36 L315.10 120.42 L314.46 119.48 L313.82 118.54 L313.18 117.60 L312.54 116.66 L311.91 115.72 L311.27 114.78 L310.64 113.84 L310.00 112.90 L309.37 111.97 L308.74 111.03 L308.11 110.09 L307.48 109.15 L306.86 108.21 L306.23 107.27 L305.61 106.33 L304.98 105.39 L304.36 104.45 L303.74 103.51 L303.12 102.57 L302.50 101.63 L301.88 100.69 L301.27 99.75 L300.65 98.81 L300.04 97.87 L299.43 96.94 L298.82 96.00 L298.21 95.06 L297.60 94.12 L296.99 93.18 L296.38 92.24 L295.78 91.30 L295.18 90.36 L294.57 89.42 L293.97 88.48 L293.37 87.54 L292.77 86.60 L292.18 85.66 L291.58 84.72 L290.98 83.78 L290.39 82.84 L289.80 81.91 L289.20 80.97 L288.61 80.03 L288.03 79.09 L287.44 78.15 L286.85 77.21 L286.26 76.27 L285.68 75.33 L285.10 74.39 L284.51 73.45 L283.93 72.51 L283.35 71.57 L282.78 70.63 L282.20 69.69 L281.62 68.75 L281.05 67.81 L280.47 66.88 L279.90 65.94 L279.33 65.00 L278.76 64.06 L278.19 63.12 L277.62 62.18 L277.06 61.24 L276.49 60.30" fill="none" stroke="#a52a2a" stroke-width="1.1"/>
<path d="M685.97 446.38 L684.78 445.44 L683.58 444.50 L682.38 443.56 L681.19 442.62 L680.00 441.68 L678.81 440.74 L677.62 439.80 L676.43 438.87 L675.24 437.93 L674.06 436.99 L672.88 436.05 L671.70 435.11 L670.52 434.17 L669.34 433.23 L668.17 432.29 L666.99 431.35 L665.82 430.41 L664.65 429.47 L663.48 428.53 L662.32 427.59 L661.15 426.65 L659.99 425.71 L658.83 424.77 L657.67 423.84 L656.51 422.90 L655.35 421.96 L654.20 421.02 L653.05 420.08 L651.89 419.14 L650.74 418.20 L649.60 417.26 L648.45 416.32 L647.30 415.38 L646.16 414.44 L645.02 413.50 L643.88 412.56 L642.74 411.62 L641.61 410.68 L640.47 409.75 L639.34 408.81 L638.21 407.87 L637.08 406.93 L635.95 405.99 L634.82 405.05 L633.70 404.11 L632.57 403.17 L631.45 402.23 L630.33 401.29 L629.21 400.35 L628.10 399.41 L626.98 398.47 L625.87 397.53 L624.76 396.59 L623.65 395.65 L622.54 394.72 L621.43 393.78 L620.33 392.84 L619.22 391.90 L618.12 390.96 L617.02 390.02 L615.92 389.08 L614.82 388.14 L613.73 387.20 L612.64 386.26 L611.54 385.32 L610.45 384.38 L609.36 383.44 L608.28 382.50 L607.19 381.56 L606.11 380.62 L605.02 379.69 L603.94 378.75 L602.86 377.81 L601.79 376.87 L600.71 375.93 L599.64 374.99 L598.56 374.05 L597.49 373.11 L596.42 372.17 L595.36 371.23 L594.29 370.29 L593.22 369.35 L592.16 368.41 L591.10 367.47 L590.04 366.53 L588.98 365.59 L587.93 364.66 L586.87 363.72 L585.82 362.78 L584.77 361.84 L583.71 360.90 L582.67 359.96 L581.62 359.02 L580.57 358.08 L579.53 357.14 L578.49 356.20 L577.45 355.26 L576.41 354.32 L575.37 353.38 L574.33 352.44 L573.30 351.50 L572.27 350.56 L571.23 349.63 L570.21 348.69 L569.18 347.75 L568.15 346.81 L567.13 345.87 L566.10 344.93 L565.08 343.99 L564.06 343.05 L563.04 342.11 L562.02 341.17 L561.01 340.23 L559.99 339.29 L558.98 338.35 L557.97 337.41 L556.96 336.47 L555.95 335.53 L554.95 334.60 L553.94 333.66 L552.94 332.72 L551.94 331.78 L550.94 330.84 L549.94 329.90 L548.94 328.96 L547.95 328.02 L546.95 327.08 L545.96 326.14 L544.97 325.20 L543.98 324.26 L542.99 323.32 L542.01 322.38 L541.02 321.44 L540.04 320.51 L539.06 319.57 L538.08 318.63 L537.10 317.69 L536.12 316.75 L535.15 315.81 L534.17 314.87 L533.20 313.93 L532.23 312.99 L531.26 312.05 L530.29 311.11 L529.33 310.17 L528.36 309.23 L527.40 308.29 L526.44 307.35 L525.47 306.41 L524.52 305.48 L523.56 304.54 L522.60 303.60 L521.65 302.66 L520.70 301.72 L519.75 300.78 L518.80 299.84 L517.85 298.90 L516.90 297.96 L515.96 297.02 L515.01 296.08 L514.07 295.14 L513.13 294.20 L512.19 293.26 L511.25 292.32 L510.32 291.38 L509.38 290.45 L508.45 289.51 L507.52 288.57 L506.59 287.63 L505.66 286.69 L504.73 285.75 L503.80 284.81 L502.88 283.87 L501.96 282.93 L501.04 281.99 L500.12 281.05 L499.20 280.11 L498.28 279.17 L497.37 278.23 L496.45 277.29 L495.54 276.35 L494.63 275.42 L493.72 274.48 L492.81 273.54 L491.90 272.60 L491.00 271.66 L490.10 270.72 L489.19 269.78 L488.29 268.84 L487.39 267.90 L486.50 266.96 L485.60 266.02 L484.70 265.08 L483.81 264.14 L482.92 263.20 L482.03 262.26 L481.14 261.32 L480.25 260.39 L479.37 259.45 L478.48 258.51 L477.60 257.57 L476.72 256.63 L475.84 255.69 L474.96 254.75 L474.08 253.81 L473.20 252.87 L472.33 251.93 L471.46 250.99 L470.58 250.05 L469.71 249.11 L468.85 248.17 L467.98 247.23 L467.11 246.29 L466.25 245.36 L465.39 244.42 L464.52 243.48 L463.66 242.54 L462.80 241.60 L461.95 240.66 L461.09 239.72 L460.24 238.78 L459.38 237.84 L458.53 236.90 L457.68 235.96 L456.83 235.02 L455.99 234.08 L455.14 233.14 L454.30 232.20 L453.45 231.27 L452.61 230.33 L451.77 229.39 L450.93 228.45 L450.10 227.51 L449.26 226.57 L448.42 225.63 L447.59 224.69 L446.76 223.75 L445.93 222.81 L445.10 221.87 L444.27 220.93 L443.45 219.99 L442.62 219.05 L441.80 218.11 L440.98 217.17 L440.16 216.24 L439.34 215.30 L438.52 214.36 L437.70 213.42 L436.89 212.48 L436.07 211.54 L435.26 210.60 L434.45 209.66 L433.64 208.72 L432.83 207.78 L432.03 206.84 L431.22 205.90 L430.42 204.96 L429.62 204.02 L428.81 203.08 L428.01 202.14 L427.22 201.21 L426.42 200.27 L425.62 199.33 L424.83 198.39 L424.04 197.45 L423.24 196.51 L422.45 195.57 L421.67 194.63 L420.88 193.69 L420.09 192.75 L419.31 191.81 L418.52 190.87 L417.74 189.93 L416.96 188.99 L416.18 188.05 L415.41 187.11 L414.63 186.18 L413.85 185.24 L413.08 184.30 L412.31 183.36 L411.54 182.42 L410.77 181.48 L410.00 180.54 L409.23 179.60 L408.47 178.66 L407.70 177.72 L406.94 176.78 L406.18 175.84 L405.42 174.90 L404.66 173.96 L403.90 173.02 L403.14 172.08 L402.39 171.15 L401.64 170.21 L400.88 169.27 L400.13 168.33 L399.38 167.39 L398.64 166.45 L397.89 165.51 L397.14 164.57 L396.40 163.63 L395.66 162.69 L394.92 161.75 L394.18 160.81 L393.44 159.87 L392.70 158.93 L391.96 157.99 L391.23 157.05 L390.49 156.12 L389.76 155.18 L389.03 154.24 L388.30 153.30 L387.57 152.36 L386.85 151.42 L386.12 150.48 L385.40 149.54 L384.67 148.60 L383.95 147.66 L383.23 146.72 L382.51 145.78 L381.80 144.84 L381.08 143.90 L380.36 142.96 L379.65 142.03 L378.94 141.09 L378.23 140.15 L377.52 139.21 L376.81 138.27 L376.10 137.33 L375.40 136.39 L374.69 135.45 L373.99 134.51 L373.29 133.57 L372.58 132.63 L371.88 131.69 L371.19 130.75 L370.49 129.81 L369.79 128.87 L369.10 127.93 L368.41 127.00 L367.72 126.06 L367.02 125.12 L366.34 124.18 L365.65 123.24 L364.96 122.30 L364.28 121.36 L363.59 120.42 L362.91 119.48 L362.23 118.54 L361.55 117.60 L360.87 116.66 L360.19 115.72 L359.52 114.78 L358.84 113.84 L358.17 112.90 L357.49 111.97 L356.82 111.03 L356.15 110.09 L355.48 109.15 L354.82 108.21 L354.15 107.27 L353.49 106.33 L352.82 105.39 L352.16 104.45 L351.50 103.51 L350.84 102.57 L350.18 101.63 L349.52 100.69 L348.87 99.75 L348.21 98.81 L347.56 97.87 L346.91 96.94 L346.26 96.00 L345.61 95.06 L344.96 94.12 L344.31 93.18 L343.66 92.24 L343.02 91.30 L342.38 90.36 L341.73 89.42 L341.09 88.48 L340.45 87.54 L339.81 86.60 L339.18 85.66 L338.54 84.72 L337.91 83.78 L337.27 82.84 L336.64 81.91 L336.01 80.97 L335.38 80.03 L334.75 79.09 L334.12 78.15 L333.50 77.21 L332.87 76.27 L332.25 75.33 L331.63 74.39 L331.00 73.45 L330.38 72.51 L329.77 71.57 L329.15 70.63 L328.53 69.69 L327.92 68.75 L327.30 67.81 L326.69 66.88 L326.08 65.94 L325.47 65.00 L324.86 64.06 L324.25 63.12 L323.65 62.18 L323.04 61.24 L322.44 60.30" fill="none" stroke="#a52a2a" stroke-width="1.1"/>
<path d="M686.86 396.59 L685.70 395.65 L684.53 394.72 L683.38 393.78 L682.22 392.84 L681.06 391.90 L679.91 390.96 L678.76 390.02 L677.61 389.08 L676.46 388.14 L675.31 387.20 L674.16 386.26 L673.02 385.32 L671.88 384.38 L670.74 383.44 L669.60 382.50 L668.46 381.56 L667.33 380.62 L666.19 379.69 L665.06 378.75 L663.93 377.81 L662.80 376.87 L661.67 375.93 L660.55 374.99 L659.42 374.05 L658.30 373.11 L657.18 372.17 L656.06 371.23 L654.94 370.29 L653.83 369.35 L652.72 368.41 L651.60 367.47 L650.49 366.53 L649.38 365.59 L648.28 364.66 L647.17 363.72 L646.07 362.78 L644.96 361.84 L643.86 360.90 L642.76 359.96 L641.66 359.02 L640.57 358.08 L639.47 357.14 L638.38 356.20 L637.29 355.26 L636.20 354.32 L635.11 353.38 L634.03 352.44 L632.94 351.50 L631.86 350.56 L630.78 349.63 L629.70 348.69 L628.62 347.75 L627.54 346.81 L626.47 345.87 L625.39 344.93 L624.32 343.99 L623.25 343.05 L622.18 342.11 L621.12 341.17 L620.05 340.23 L618.99 339.29 L617.93 338.35 L616.87 337.41 L615.81 336.47 L614.75 335.53 L613.69 334.60 L612.64 333.66 L611.59 332.72 L610.54 331.78 L609.49 330.84 L608.44 329.90 L607.39 328.96 L606.35 328.02 L605.30 327.08 L604.26 326.14 L603.22 325.20 L602.18 324.26 L601.15 323.32 L600.11 322.38 L599.08 321.44 L598.05 320.51 L597.02 319.57 L595.99 318.63 L594.96 317.69 L593.94 316.75 L592.91 315.81 L591.89 314.87 L590.87 313.93 L589.85 312.99 L588.83 312.05 L587.81 311.11 L586.80 310.17 L585.79 309.23 L584.77 308.29 L583.76 307.35 L582.76 306.41 L581.75 305.48 L580.74 304.54 L579.74 303.60 L578.74 302.66 L577.74 301.72 L576.74 300.78 L575.74 299.84 L574.74 298.90 L573.75 297.96 L572.76 297.02 L571.77 296.08 L570.78 295.14 L569.79 294.20 L568.80 293.26 L567.81 292.32 L566.83 291.38 L565.85 290.45 L564.87 289.51 L563.89 288.57 L562.91 287.63 L561.93 286.69 L560.96 285.75 L559.99 284.81 L559.02 283.87 L558.05 282.93 L557.08 281.99 L556.11 281.05 L555.14 280.11 L554.18 279.17 L553.22 278.23 L552.26 277.29 L551.30 276.35 L550.34 275.42 L549.38 274.48 L548.43 273.54 L547.48 272.60 L546.52 271.66 L545.57 270.72 L544.62 269.78 L543.68 268.84 L542.73 267.90 L541.79 266.96 L540.84 266.02 L539.90 265.08 L538.96 264.14 L538.03 263.20 L537.09 262.26 L536.15 261.32 L535.22 260.39 L534.29 259.45 L533.36 258.51 L532.43 257.57 L531.50 256.63 L530.57 255.69 L529.65 254.75 L528.72 253.81 L527.80 252.87 L526.88 251.93 L525.96 250.99 L525.05 250.05 L524.13 249.11 L523.21 248.17 L522.30 247.23 L521.39 246.29 L520.48 245.36 L519.57 244.42 L518.66 243.48 L517.76 242.54 L516.85 241.60 L515.95 240.66 L515.05 239.72 L514.15 238.78 L513.25 237.84 L512.36 236.90 L511.46 235.96 L510.57 235.02 L509.67 234.08 L508.78 233.14 L507.89 232.20 L507.00 231.27 L506.12 230.33 L505.23 229.39 L504.35 228.45 L503.47 227.51 L502.59 226.57 L501.71 225.63 L500.83 224.69 L499.95 223.75 L499.08 222.81 L498.20 221.87 L497.33 220.93 L496.46 219.99 L495.59 219.05 L494.72 218.11 L493.86 217.17 L492.99 216.24 L492.13 215.30 L491.26 214.36 L490.40 213.42 L489.54 212.48 L488.69 211.54 L487.83 210.60 L486.98 209.66 L486.12 208.72 L485.27 207.78 L484.42 206.84 L483.57 205.90 L482.72 204.96 L481.88 204.02 L481.03 203.08 L480.19 202.14 L479.34 201.21 L478.50 200.27 L477.66 199.33 L476.83 198.39 L475.99 197.45 L475.15 196.51 L474.32 195.57 L473.49 194.63 L472.66 193.69 L471.83 192.75 L471.00 191.81 L470.17 190.87 L469.35 189.93 L468.52 188.99 L467.70 188.05 L466.88 187.11 L466.06 186.18 L465.24 185.24 L464.42 184.30 L463.61 183.36 L462.79 182.42 L461.98 181.48 L461.17 180.54 L460.36 179.60 L459.55 178.66 L458.74 177.72 L457.94 176.78 L457.13 175.84 L456.33 174.90 L455.53 173.96 L454.73 173.02 L453.93 172.08 L453.13 171.15 L452.34 170.21 L451.54 169.27 L450.75 168.33 L449.96 167.39 L449.17 166.45 L448.38 165.51 L447.59 164.57 L446.80 163.63 L446.02 162.69 L445.23 161.75 L444.45 160.81 L443.67 159.87 L442.89 158.93 L442.11 157.99 L441.33 157.05 L440.56 156.12 L439.78 155.18 L439.01 154.24 L438.24 153.30 L437.47 152.36 L436.70 151.42 L435.93 150.48 L435.17 149.54 L434.40 148.60 L433.64 147.66 L432.88 146.72 L432.12 145.78 L431.36 144.84 L430.60 143.90 L429.84 142.96 L429.09 142.03 L428.33 141.09 L427.58 140.15 L426.83 139.21 L426.08 138.27 L425.33 137.33 L424.58 136.39 L423.84 135.45 L423.09 134.51 L422.35 133.57 L421.61 132.63 L420.87 131.69 L420.13 130.75 L419.39 129.81 L418.65 128.87 L417.92 127.93 L417.18 127.00 L416.45 126.06 L415.72 125.12 L414.99 124.18 L414.26 123.24 L413.53 122.30 L412.81 121.36 L412.08 120.42 L411.36 119.48 L410.63 118.54 L409.91 117.60 L409.19 116.66 L408.48 115.72 L407.76 114.78 L407.04 113.84 L406.33 112.90 L405.62 111.97 L404.90 111.03 L404.19 110.09 L403.49 109.15 L402.78 108.21 L402.07 107.27 L401.37 106.33 L400.66 105.39 L399.96 104.45 L399.26 103.51 L398.56 102.57 L397.86 101.63 L397.16 100.69 L396.47 99.75 L395.77 98.81 L395.08 97.87 L394.39 96.94 L393.69 96.00 L393.00 95.06 L392.32 94.12 L391.63 93.18 L390.94 92.24 L390.26 91.30 L389.58 90.36 L388.89 89.42 L388.21 88.48 L387.53 87.54 L386.86 86.60 L386.18 85.66 L385.50 84.72 L384.83 83.78 L384.16 82.84 L383.48 81.91 L382.81 80.97 L382.14 80.03 L381.48 79.09 L380.81 78.15 L380.14 77.21 L379.48 76.27 L378.82 75.33 L378.16 74.39 L377.50 73.45 L376.84 72.51 L376.18 71.57 L375.52 70.63 L374.87 69.69 L374.21 68.75 L373.56 67.81 L372.91 66.88 L372.26 65.94 L371.61 65.00 L370.96 64.06 L370.31 63.12 L369.67 62.18 L369.02 61.24 L368.38 60.30" fill="none" stroke="#a52a2a" stroke-width="1.1"/>
<path d="M686.93 346.81 L685.81 345.87 L684.69 344.93 L683.57 343.99 L682.45 343.05 L681.33 342.11 L680.21 341.17 L679.09 340.23 L677.98 339.29 L676.87 338.35 L675.76 337.41 L674.65 336.47 L673.54 335.53 L672.44 334.60 L671.34 333.66 L670.23 332.72 L669.13 331.78 L668.03 330.84 L666.94 329.90 L665.84 328.96 L664.75 328.02 L663.66 327.08 L662.57 326.14 L661.48 325.20 L660.39 324.26 L659.30 323.32 L658.22 322.38 L657.14 321.44 L656.06 320.51 L654.98 319.57 L653.90 318.63 L652.82 317.69 L651.75 316.75 L650.68 315.81 L649.61 314.87 L648.54 313.93 L647.47 312.99 L646.40 312.05 L645.34 311.11 L644.27 310.17 L643.21 309.23 L642.15 308.29 L641.09 307.35 L640.04 306.41 L638.98 305.48 L637.93 304.54 L636.88 303.60 L635.83 302.66 L634.78 301.72 L633.73 300.78 L632.68 299.84 L631.64 298.90 L630.60 297.96 L629.56 297.02 L628.52 296.08 L627.48 295.14 L626.44 294.20 L625.41 293.26 L624.38 292.32 L623.35 291.38 L622.32 290.45 L621.29 289.51 L620.26 288.57 L619.24 287.63 L618.21 286.69 L617.19 285.75 L616.17 284.81 L615.15 283.87 L614.13 282.93 L613.12 281.99 L612.10 281.05 L611.09 280.11 L610.08 279.17 L609.07 278.23 L608.06 277.29 L607.06 276.35 L606.05 275.42 L605.05 274.48 L604.05 273.54 L603.05 272.60 L602.05 271.66 L601.05 270.72 L600.06 269.78 L599.06 268.84 L598.07 267.90 L597.08 266.96 L596.09 266.02 L595.10 265.08 L594.12 264.14 L593.13 263.20 L592.15 262.26 L591.17 261.32 L590.19 260.39 L589.21 259.45 L588.23 258.51 L587.25 257.57 L586.28 256.63 L585.31 255.69 L584.34 254.75 L583.37 253.81 L582.40 252.87 L581.43 251.93 L580.47 250.99 L579.51 250.05 L578.54 249.11 L577.58 248.17 L576.62 247.23 L575.67 246.29 L574.71 245.36 L573.76 244.42 L572.80 243.48 L571.85 242.54 L570.90 241.60 L569.96 240.66 L569.01 239.72 L568.06 238.78 L567.12 237.84 L566.18 236.90 L565.24 235.96 L564.30 235.02 L563.36 234.08 L562.42 233.14 L561.49 232.20 L560.56 231.27 L559.62 230.33 L558.69 229.39 L557.76 228.45 L556.84 227.51 L555.91 226.57 L554.99 225.63 L554.06 224.69 L553.14 223.75 L552.22 222.81 L551.31 221.87 L550.39 220.93 L549.47 219.99 L548.56 219.05 L547.65 218.11 L546.74 217.17 L545.83 216.24 L544.92 215.30 L544.01 214.36 L543.11 213.42 L542.20 212.48 L541.30 211.54 L540.40 210.60 L539.50 209.66 L538.60 208.72 L537.71 207.78 L536.81 206.84 L535.92 205.90 L535.03 204.96 L534.14 204.02 L533.25 203.08 L532.36 202.14 L531.47 201.21 L530.59 200.27 L529.70 199.33 L528.82 198.39 L527.94 197.45 L527.06 196.51 L526.19 195.57 L525.31 194.63 L524.44 193.69 L523.56 192.75 L522.69 191.81 L521.82 190.87 L520.95 189.93 L520.08 188.99 L519.22 188.05 L518.35 187.11 L517.49 186.18 L516.63 185.24 L515.77 184.30 L514.91 183.36 L514.05 182.42 L513.20 181.48 L512.34 180.54 L511.49 179.60 L510.64 178.66 L509.79 177.72 L508.94 176.78 L508.09 175.84 L507.25 174.90 L506.40 173.96 L505.56 173.02 L504.72 172.08 L503.88 171.15 L503.04 170.21 L502.20 169.27 L501.36 168.33 L500.53 167.39 L499.70 166.45 L498.86 165.51 L498.03 164.57 L497.20 163.63 L496.38 162.69 L495.55 161.75 L494.73 160.81 L493.90 159.87 L493.08 158.93 L492.26 157.99 L491.44 157.05 L490.62 156.12 L489.81 155.18 L488.99 154.24 L488.18 153.30 L487.37 152.36 L486.55 151.42 L485.75 150.48 L484.94 149.54 L484.13 148.60 L483.33 147.66 L482.52 146.72 L481.72 145.78 L480.92 144.84 L480.12 143.90 L479.32 142.96 L478.52 142.03 L477.73 141.09 L476.93 140.15 L476.14 139.21 L475.35 138.27 L474.56 137.33 L473.77 136.39 L472.98 135.45 L472.20 134.51 L471.41 133.57 L470.63 132.63 L469.85 131.69 L469.07 130.75 L468.29 129.81 L467.51 128.87 L466.73 127.93 L465.96 127.00 L465.18 126.06 L464.41 125.12 L463.64 124.18 L462.87 123.24 L462.10 122.30 L461.33 121.36 L460.57 120.42 L459.80 119.48 L459.04 118.54 L458.28 117.60 L457.52 116.66 L456.76 115.72 L456.00 114.78 L455.25 113.84 L454.49 112.90 L453.74 111.97 L452.99 111.03 L452.24 110.09 L451.49 109.15 L450.74 108.21 L449.99 107.27 L449.25 106.33 L448.50 105.39 L447.76 104.45 L447.02 103.51 L446.28 102.57 L445.54 101.63 L444.80 100.69 L444.06 99.75 L443.33 98.81 L442.60 97.87 L441.86 96.94 L441.13 96.00 L440.40 95.06 L439.67 94.12 L438.95 93.18 L438.22 92.24 L437.50 91.30 L436.78 90.36 L436.05 89.42 L435.33 88.48 L434.61 87.54 L433.90 86.60 L433.18 85.66 L432.46 84.72 L431.75 83.78 L431.04 82.84 L430.33 81.91 L429.62 80.97 L428.91 80.03 L428.20 79.09 L427.50 78.15 L426.79 77.21 L426.09 76.27 L425.39 75.33 L424.68 74.39 L423.99 73.45 L423.29 72.51 L422.59 71.57 L421.89 70.63 L421.20 69.69 L420.51 68.75 L419.82 67.81 L419.12 66.88 L418.44 65.94 L417.75 65.00 L417.06 64.06 L416.38 63.12 L415.69 62.18 L415.01 61.24 L414.33 60.30" fill="none" stroke="#a52a2a" stroke-width="1.1"/>
<path d="M686.36 297.02 L685.27 296.08 L684.19 295.14 L683.10 294.20 L682.02 293.26 L680.94 292.32 L679.86 291.38 L678.78 290.45 L677.71 289.51 L676.63 288.57 L675.56 287.63 L674.49 286.69 L673.42 285.75 L672.35 284.81 L671.29 283.87 L670.22 282.93 L669.16 281.99 L668.10 281.05 L667.04 280.11 L665.98 279.17 L664.92 278.23 L663.87 277.29 L662.82 276.35 L661.76 275.42 L660.71 274.48 L659.67 273.54 L658.62 272.60 L657.57 271.66 L656.53 270.72 L655.49 269.78 L654.45 268.84 L653.41 267.90 L652.37 266.96 L651.33 266.02 L650.30 265.08 L649.27 264.14 L648.24 263.20 L647.21 262.26 L646.18 261.32 L645.15 260.39 L644.13 259.45 L643.10 258.51 L642.08 257.57 L641.06 256.63 L640.04 255.69 L639.03 254.75 L638.01 253.81 L637.00 252.87 L635.99 251.93 L634.98 250.99 L633.97 250.05 L632.96 249.11 L631.95 248.17 L630.95 247.23 L629.94 246.29 L628.94 245.36 L627.94 244.42 L626.95 243.48 L625.95 242.54 L624.95 241.60 L623.96 240.66 L622.97 239.72 L621.98 238.78 L620.99 237.84 L620.00 236.90 L619.01 235.96 L618.03 235.02 L617.05 234.08 L616.07 233.14 L615.09 232.20 L614.11 231.27 L613.13 230.33 L612.15 229.39 L611.18 228.45 L610.21 227.51 L609.24 226.57 L608.27 225.63 L607.30 224.69 L606.34 223.75 L605.37 222.81 L604.41 221.87 L603.45 220.93 L602.49 219.99 L601.53 219.05 L600.57 218.11 L599.61 217.17 L598.66 216.24 L597.71 215.30 L596.76 214.36 L595.81 213.42 L594.86 212.48 L593.91 211.54 L592.97 210.60 L592.02 209.66 L591.08 208.72 L590.14 207.78 L589.20 206.84 L588.27 205.90 L587.33 204.96 L586.40 204.02 L585.46 203.08 L584.53 202.14 L583.60 201.21 L582.67 200.27 L581.75 199.33 L580.82 198.39 L579.90 197.45 L578.97 196.51 L578.05 195.57 L577.13 194.63 L576.21 193.69 L575.30 192.75 L574.38 191.81 L573.47 190.87 L572.56 189.93 L571.65 188.99 L570.74 188.05 L569.83 187.11 L568.92 186.18 L568.02 185.24 L567.11 184.30 L566.21 183.36 L565.31 182.42 L564.41 181.48 L563.51 180.54 L562.62 179.60 L561.72 178.66 L560.83 177.72 L559.94 176.78 L559.05 175.84 L558.16 174.90 L557.27 173.96 L556.39 173.02 L555.50 172.08 L554.62 171.15 L553.74 170.21 L552.86 169.27 L551.98 168.33 L551.10 167.39 L550.23 166.45 L549.35 165.51 L548.48 164.57 L547.61 163.63 L546.74 162.69 L545.87 161.75 L545.00 160.81 L544.14 159.87 L543.27 158.93 L542.41 157.99 L541.55 157.05 L540.69 156.12 L539.83 155.18 L538.97 154.24 L538.12 153.30 L537.26 152.36 L536.41 151.42 L535.56 150.48 L534.71 149.54 L533.86 148.60 L533.01 147.66 L532.17 146.72 L531.32 145.78 L530.48 144.84 L529.64 143.90 L528.80 142.96 L527.96 142.03 L527.12 141.09 L526.29 140.15 L525.45 139.21 L524.62 138.27 L523.79 137.33 L522.96 136.39 L522.13 135.45 L521.30 134.51 L520.47 133.57 L519.65 132.63 L518.83 131.69 L518.00 130.75 L517.18 129.81 L516.37 128.87 L515.55 127.93 L514.73 127.00 L513.92 126.06 L513.10 125.12 L512.29 124.18 L511.48 123.24 L510.67 122.30 L509.86 121.36 L509.06 120.42 L508.25 119.48 L507.45 118.54 L506.65 117.60 L505.84 116.66 L505.05 115.72 L504.25 114.78 L503.45 113.84 L502.66 112.90 L501.86 111.97 L501.07 111.03 L500.28 110.09 L499.49 109.15 L498.70 108.21 L497.91 107.27 L497.13 106.33 L496.34 105.39 L495.56 104.45 L494.78 103.51 L494.00 102.57 L493.22 101.63 L492.44 100.69 L491.66 99.75 L490.89 98.81 L490.11 97.87 L489.34 96.94 L488.57 96.00 L487.80 95.06 L487.03 94.12 L486.27 93.18 L485.50 92.24 L484.74 91.30 L483.97 90.36 L483.21 89.42 L482.45 88.48 L481.69 87.54 L480.94 86.60 L480.18 85.66 L479.43 84.72 L478.67 83.78 L477.92 82.84 L477.17 81.91 L476.42 80.97 L475.67 80.03 L474.93 79.09 L474.18 78.15 L473.44 77.21 L472.70 76.27 L471.95 75.33 L471.21 74.39 L470.48 73.45 L469.74 72.51 L469.00 71.57 L468.27 70.63 L467.53 69.69 L466.80 68.75 L466.07 67.81 L465.34 66.88 L464.61 65.94 L463.89 65.00 L463.16 64.06 L462.44 63.12 L461.71 62.18 L460.99 61.24 L460.27 60.30" fill="none" stroke="#a52a2a" stroke-width="1.1"/>
<path d="M686.32 248.17 L685.27 247.23 L684.22 246.29 L683.17 245.36 L682.13 244.42 L681.09 243.48 L680.04 242.54 L679.00 241.60 L677.96 240.66 L676.93 239.72 L675.89 238.78 L674.86 237.84 L673.82 236.90 L672.79 235.96 L671.76 235.02 L670.73 234.08 L669.71 233.14 L668.68 232.20 L667.66 231.27 L666.64 230.33 L665.62 229.39 L664.60 228.45 L663.58 227.51 L662.56 226.57 L661.55 225.63 L660.54 224.69 L659.53 223.75 L658.52 222.81 L657.51 221.87 L656.50 220.93 L655.50 219.99 L654.50 219.05 L653.49 218.11 L652.49 217.17 L651.50 216.24 L650.50 215.30 L649.50 214.36 L648.51 213.42 L647.52 212.48 L646.53 211.54 L645.54 210.60 L644.55 209.66 L643.56 208.72 L642.58 207.78 L641.60 206.84 L640.61 205.90 L639.63 204.96 L638.66 204.02 L637.68 203.08 L636.70 202.14 L635.73 201.21 L634.76 200.27 L633.79 199.33 L632.82 198.39 L631.85 197.45 L630.88 196.51 L629.92 195.57 L628.95 194.63 L627.99 193.69 L627.03 192.75 L626.07 191.81 L625.12 190.87 L624.16 189.93 L623.21 188.99 L622.25 188.05 L621.30 187.11 L620.35 186.18 L619.40 185.24 L618.46 184.30 L617.51 183.36 L616.57 182.42 L615.63 181.48 L614.69 180.54 L613.75 179.60 L612.81 178.66 L611.87 177.72 L610.94 176.78 L610.01 175.84 L609.07 174.90 L608.14 173.96 L607.21 173.02 L606.29 172.08 L605.36 171.15 L604.44 170.21 L603.51 169.27 L602.59 168.33 L601.67 167.39 L600.76 166.45 L599.84 165.51 L598.92 164.57 L598.01 163.63 L597.10 162.69 L596.19 161.75 L595.28 160.81 L594.37 159.87 L593.46 158.93 L592.56 157.99 L591.65 157.05 L590.75 156.12 L589.85 155.18 L588.95 154.24 L588.05 153.30 L587.16 152.36 L586.26 151.42 L585.37 150.48 L584.48 149.54 L583.59 148.60 L582.70 147.66 L581.81 146.72 L580.92 145.78 L580.04 144.84 L579.16 143.90 L578.27 142.96 L577.39 142.03 L576.52 141.09 L575.64 140.15 L574.76 139.21 L573.89 138.27 L573.01 137.33 L572.14 136.39 L571.27 135.45 L570.40 134.51 L569.54 133.57 L568.67 132.63 L567.81 131.69 L566.94 130.75 L566.08 129.81 L565.22 128.87 L564.36 127.93 L563.51 127.00 L562.65 126.06 L561.80 125.12 L560.94 124.18 L560.09 123.24 L559.24 122.30 L558.39 121.36 L557.55 120.42 L556.70 119.48 L555.85 118.54 L555.01 117.60 L554.17 116.66 L553.33 115.72 L552.49 114.78 L551.65 113.84 L550.82 112.90 L549.98 111.97 L549.15 111.03 L548.32 110.09 L547.49 109.15 L546.66 108.21 L545.83 107.27 L545.01 106.33 L544.18 105.39 L543.36 104.45 L542.54 103.51 L541.71 102.57 L540.90 101.63 L540.08 100.69 L539.26 99.75 L538.45 98.81 L537.63 97.87 L536.82 96.94 L536.01 96.00 L535.20 95.06 L534.39 94.12 L533.59 93.18 L532.78 92.24 L531.98 91.30 L531.17 90.36 L530.37 89.42 L529.57 88.48 L528.78 87.54 L527.98 86.60 L527.18 85.66 L526.39 84.72 L525.60 83.78 L524.80 82.84 L524.01 81.91 L523.23 80.97 L522.44 80.03 L521.65 79.09 L520.87 78.15 L520.08 77.21 L519.30 76.27 L518.52 75.33 L517.74 74.39 L516.97 73.45 L516.19 72.51 L515.41 71.57 L514.64 70.63 L513.87 69.69 L513.10 68.75 L512.33 67.81 L511.56 66.88 L510.79 65.94 L510.03 65.00 L509.26 64.06 L508.50 63.12 L507.74 62.18 L506.98 61.24 L506.22 60.30" fill="none" stroke="#a52a2a" stroke-width="1.1"/>
<path d="M686.84 200.27 L685.83 199.33 L684.81 198.39 L683.80 197.45 L682.79 196.51 L681.78 195.57 L680.78 194.63 L679.77 193.69 L678.77 192.75 L677.76 191.81 L676.76 190.87 L675.76 189.93 L674.77 188.99 L673.77 188.05 L672.78 187.11 L671.78 186.18 L670.79 185.24 L669.80 184.30 L668.81 183.36 L667.83 182.42 L666.84 181.48 L665.86 180.54 L664.88 179.60 L663.90 178.66 L662.92 177.72 L661.94 176.78 L660.96 175.84 L659.99 174.90 L659.01 173.96 L658.04 173.02 L657.07 172.08 L656.10 171.15 L655.14 170.21 L654.17 169.27 L653.21 168.33 L652.25 167.39 L651.29 166.45 L650.33 165.51 L649.37 164.57 L648.41 163.63 L647.46 162.69 L646.50 161.75 L645.55 160.81 L644.60 159.87 L643.65 158.93 L642.71 157.99 L641.76 157.05 L640.82 156.12 L639.87 155.18 L638.93 154.24 L637.99 153.30 L637.05 152.36 L636.12 151.42 L635.18 150.48 L634.25 149.54 L633.32 148.60 L632.38 147.66 L631.46 146.72 L630.53 145.78 L629.60 144.84 L628.68 143.90 L627.75 142.96 L626.83 142.03 L625.91 141.09 L624.99 140.15 L624.07 139.21 L623.16 138.27 L622.24 137.33 L621.33 136.39 L620.42 135.45 L619.51 134.51 L618.60 133.57 L617.69 132.63 L616.79 131.69 L615.88 130.75 L614.98 129.81 L614.08 128.87 L613.18 127.93 L612.28 127.00 L611.38 126.06 L610.49 125.12 L609.59 124.18 L608.70 123.24 L607.81 122.30 L606.92 121.36 L606.03 120.42 L605.15 119.48 L604.26 118.54 L603.38 117.60 L602.50 116.66 L601.61 115.72 L600.74 114.78 L599.86 113.84 L598.98 112.90 L598.11 111.97 L597.23 111.03 L596.36 110.09 L595.49 109.15 L594.62 108.21 L593.75 107.27 L592.89 106.33 L592.02 105.39 L591.16 104.45 L590.29 103.51 L589.43 102.57 L588.57 101.63 L587.72 100.69 L586.86 99.75 L586.01 98.81 L585.15 97.87 L584.30 96.94 L583.45 96.00 L582.60 95.06 L581.75 94.12 L580.91 93.18 L580.06 92.24 L579.22 91.30 L578.37 90.36 L577.53 89.42 L576.69 88.48 L575.86 87.54 L575.02 86.60 L574.18 85.66 L573.35 84.72 L572.52 83.78 L571.69 82.84 L570.86 81.91 L570.03 80.97 L569.20 80.03 L568.38 79.09 L567.55 78.15 L566.73 77.21 L565.91 76.27 L565.09 75.33 L564.27 74.39 L563.46 73.45 L562.64 72.51 L561.83 71.57 L561.01 70.63 L560.20 69.69 L559.39 68.75 L558.58 67.81 L557.78 66.88 L556.97 65.94 L556.17 65.00 L555.36 64.06 L554.56 63.12 L553.76 62.18 L552.96 61.24 L552.16 60.30" fill="none" stroke="#a52a2a" stroke-width="1.1"/>
<path d="M685.97 151.42 L684.99 150.48 L684.02 149.54 L683.04 148.60 L682.07 147.66 L681.10 146.72 L680.13 145.78 L679.16 144.84 L678.20 143.90 L677.23 142.96 L676.27 142.03 L675.30 141.09 L674.34 140.15 L673.39 139.21 L672.43 138.27 L671.47 137.33 L670.52 136.39 L669.56 135.45 L668.61 134.51 L667.66 133.57 L666.71 132.63 L665.77 131.69 L664.82 130.75 L663.88 129.81 L662.94 128.87 L662.00 127.93 L661.06 127.00 L660.12 126.06 L659.18 125.12 L658.25 124.18 L657.31 123.24 L656.38 122.30 L655.45 121.36 L654.52 120.42 L653.59 119.48 L652.67 118.54 L651.74 117.60 L650.82 116.66 L649.90 115.72 L648.98 114.78 L648.06 113.84 L647.14 112.90 L646.23 111.97 L645.31 111.03 L644.40 110.09 L643.49 109.15 L642.58 108.21 L641.67 107.27 L640.77 106.33 L639.86 105.39 L638.96 104.45 L638.05 103.51 L637.15 102.57 L636.25 101.63 L635.36 100.69 L634.46 99.75 L633.56 98.81 L632.67 97.87 L631.78 96.94 L630.89 96.00 L630.00 95.06 L629.11 94.12 L628.22 93.18 L627.34 92.24 L626.46 91.30 L625.57 90.36 L624.69 89.42 L623.81 88.48 L622.94 87.54 L622.06 86.60 L621.19 85.66 L620.31 84.72 L619.44 83.78 L618.57 82.84 L617.70 81.91 L616.83 80.97 L615.97 80.03 L615.10 79.09 L614.24 78.15 L613.38 77.21 L612.52 76.27 L611.66 75.33 L610.80 74.39 L609.95 73.45 L609.09 72.51 L608.24 71.57 L607.39 70.63 L606.54 69.69 L605.69 68.75 L604.84 67.81 L603.99 66.88 L603.15 65.94 L602.30 65.00 L601.46 64.06 L600.62 63.12 L599.78 62.18 L598.95 61.24 L598.11 60.30" fill="none" stroke="#a52a2a" stroke-width="1.1"/>
<path d="M686.76 104.45 L685.81 103.51 L684.87 102.57 L683.93 101.63 L682.99 100.69 L682.06 99.75 L681.12 98.81 L680.19 97.87 L679.26 96.94 L678.33 96.00 L677.40 95.06 L676.47 94.12 L675.54 93.18 L674.62 92.24 L673.70 91.30 L672.77 90.36 L671.85 89.42 L670.93 88.48 L670.02 87.54 L669.10 86.60 L668.19 85.66 L667.27 84.72 L666.36 83.78 L665.45 82.84 L664.55 81.91 L663.64 80.97 L662.73 80.03 L661.83 79.09 L660.93 78.15 L660.03 77.21 L659.13 76.27 L658.23 75.33 L657.33 74.39 L656.44 73.45 L655.54 72.51 L654.65 71.57 L653.76 70.63 L652.87 69.69 L651.98 68.75 L651.09 67.81 L650.21 66.88 L649.33 65.94 L648.44 65.00 L647.56 64.06 L646.68 63.12 L645.81 62.18 L644.93 61.24 L644.06 60.30" fill="none" stroke="#a52a2a" stroke-width="1.1"/>
<g clip-path="url(#cp)">
<path d="M595.69 795.28 L728.12 502.80" fill="none" stroke="#00ff00" stroke-width="1" stroke-dasharray="3 3"/>
<path d="M523.76 795.28 L663.79 502.80" fill="none" stroke="#00ff00" stroke-width="1" stroke-dasharray="3 3"/>
<path d="M469.25 795.28 L614.89 502.80" fill="none" stroke="#00ff00" stroke-width="1" stroke-dasharray="3 3"/>
<path d="M408.92 795.28 L560.62 502.80" fill="none" stroke="#00ff00" stroke-width="1" stroke-dasharray="3 3"/>
<path d="M346.75 795.28 L504.50 502.80" fill="none" stroke="#00ff00" stroke-width="1" stroke-dasharray="3 3"/>
<path d="M299.78 795.28 L461.98 502.80" fill="none" stroke="#00ff00" stroke-width="1" stroke-dasharray="3 3"/>
<path d="M224.03 795.28 L393.17 502.80" fill="none" stroke="#00ff00" stroke-width="1" stroke-dasharray="3 3"/>
<path d="M456.70 795.28 L453.95 789.52 L451.16 783.75 L448.31 777.98 L445.50 772.22 L442.62 766.45 L439.71 760.68 L436.79 754.92 L433.84 749.15 L430.88 743.39 L427.89 737.62 L424.85 731.85 L421.76 726.09 L418.60 720.32 L415.39 714.55 L412.11 708.79 L408.77 703.02 L405.36 697.26 L401.87 691.49 L398.32 685.72 L394.69 679.96 L390.99 674.19 L387.21 668.42 L383.39 662.66 L379.47 656.89 L375.45 651.13 L371.36 645.36 L367.21 639.59 L362.99 633.83 L358.72 628.06 L354.39 622.29 L350.00 616.53 L345.55 610.76 L341.05 605.00 L336.50 599.23 L331.90 593.46 L327.25 587.70 L322.56 581.93 L317.82 576.16 L313.04 570.40 L308.17 564.63 L303.24 558.87 L298.26 553.10 L293.23 547.33 L288.18 541.57 L283.12 535.80 L278.05 530.03 L273.01 524.27 L267.98 518.50 L263.00 512.74 L258.08 506.97 L253.21 501.20 L248.38 495.44 L243.57 489.67 L238.77 483.90 L234.00 478.14 L229.25 472.37 L224.52 466.61 L219.82 460.84 L215.15 455.07 L210.50 449.31 L205.88 443.54 L201.30 437.77 L196.74 432.01 L192.21 426.24 L187.72 420.48 L183.27 414.71 L178.84 408.94 L174.45 403.18 L170.09 397.41 L165.77 391.64 L161.49 385.88 L157.24 380.11 L153.03 374.35 L148.87 368.58 L144.74 362.81 L140.65 357.05 L136.61 351.28 L132.61 345.51 L128.66 339.75" fill="none" stroke="#00ff00" stroke-width="1"/>
<path d="M495.58 795.28 L493.73 789.52 L491.82 783.75 L489.84 777.98 L487.87 772.22 L485.82 766.45 L483.71 760.68 L481.54 754.92 L479.32 749.15 L477.04 743.39 L474.62 737.62 L471.97 731.85 L469.15 726.09 L466.12 720.32 L462.98 714.55 L459.77 708.79 L456.50 703.02 L453.22 697.26 L449.96 691.49 L446.74 685.72 L443.58 679.96 L440.42 674.19 L437.21 668.42 L433.94 662.66 L430.62 656.89 L427.24 651.13 L423.83 645.36 L420.33 639.59 L416.76 633.83 L413.13 628.06 L409.42 622.29 L405.65 616.53 L401.80 610.76 L397.88 605.00 L393.88 599.23 L389.81 593.46 L385.66 587.70 L381.44 581.93 L377.14 576.16 L372.77 570.40 L368.33 564.63 L363.83 558.87 L359.28 553.10 L354.67 547.33 L350.02 541.57 L345.33 535.80 L340.61 530.03 L335.86 524.27 L331.08 518.50 L326.29 512.74 L321.49 506.97 L316.69 501.20 L311.87 495.44 L307.02 489.67 L302.17 483.90 L297.31 478.14 L292.44 472.37 L287.58 466.61 L282.72 460.84 L277.87 455.07 L273.04 449.31 L268.23 443.54 L263.44 437.77 L258.69 432.01 L253.96 426.24 L249.28 420.48 L244.63 414.71 L240.03 408.94 L235.45 403.18 L230.90 397.41 L226.37 391.64 L221.87 385.88 L217.41 380.11 L212.98 374.35 L208.58 368.58 L204.23 362.81 L199.91 357.05 L195.64 351.28 L191.42 345.51 L187.24 339.75" fill="none" stroke="#00ff00" stroke-width="1"/>
<path d="M535.52 795.28 L533.95 789.52 L532.33 783.75 L530.67 777.98 L528.99 772.22 L527.25 766.45 L525.43 760.68 L523.56 754.92 L521.67 749.15 L519.74 743.39 L517.75 737.62 L515.67 731.85 L513.51 726.09 L511.28 720.32 L508.98 714.55 L506.62 708.79 L504.21 703.02 L501.76 697.26 L499.27 691.49 L496.77 685.72 L494.24 679.96 L491.64 674.19 L488.94 668.42 L486.14 662.66 L483.25 656.89 L480.29 651.13 L477.24 645.36 L474.12 639.59 L470.94 633.83 L467.70 628.06 L464.40 622.29 L461.07 616.53 L457.70 610.76 L454.29 605.00 L450.87 599.23 L447.44 593.46 L444.00 587.70 L440.57 581.93 L437.15 576.16 L433.74 570.40 L430.29 564.63 L426.79 558.87 L423.24 553.10 L419.63 547.33 L415.96 541.57 L412.23 535.80 L408.43 530.03 L404.55 524.27 L400.61 518.50 L396.59 512.74 L392.49 506.97 L388.31 501.20 L384.06 495.44 L379.75 489.67 L375.38 483.90 L370.96 478.14 L366.48 472.37 L361.96 466.61 L357.39 460.84 L352.78 455.07 L348.13 449.31 L343.45 443.54 L338.74 437.77 L334.00 432.01 L329.29 426.24 L324.51 420.48 L319.70 414.71 L314.88 408.94 L310.04 403.18 L305.19 397.41 L300.33 391.64 L295.46 385.88 L290.59 380.11 L285.71 374.35 L280.83 368.58 L275.95 362.81 L271.08 357.05 L266.20 351.28 L261.34 345.51 L256.48 339.75" fill="none" stroke="#00ff00" stroke-width="1"/>
<path d="M576.35 795.28 L575.04 789.52 L573.72 783.75 L572.38 777.98 L571.02 772.22 L569.69 766.45 L568.32 760.68 L566.94 754.92 L565.54 749.15 L564.12 743.39 L562.66 737.62 L561.11 731.85 L559.49 726.09 L557.80 720.32 L556.05 714.55 L554.25 708.79 L552.41 703.02 L550.58 697.26 L548.70 691.49 L546.81 685.72 L544.91 679.96 L542.95 674.19 L540.92 668.42 L538.82 662.66 L536.64 656.89 L534.40 651.13 L532.10 645.36 L529.73 639.59 L527.31 633.83 L524.84 628.06 L522.31 622.29 L519.74 616.53 L517.13 610.76 L514.45 605.00 L511.79 599.23 L509.10 593.46 L506.35 587.70 L503.60 581.93 L500.83 576.16 L498.04 570.40 L495.19 564.63 L492.28 558.87 L489.30 553.10 L486.25 547.33 L483.13 541.57 L479.94 535.80 L476.67 530.03 L473.33 524.27 L469.91 518.50 L466.42 512.74 L462.85 506.97 L459.21 501.20 L455.49 495.44 L451.70 489.67 L447.84 483.90 L443.92 478.14 L439.94 472.37 L435.89 466.61 L431.79 460.84 L427.64 455.07 L423.44 449.31 L419.24 443.54 L414.95 437.77 L410.64 432.01 L406.28 426.24 L401.90 420.48 L397.49 414.71 L393.05 408.94 L388.59 403.18 L384.12 397.41 L379.63 391.64 L375.12 385.88 L370.61 380.11 L366.10 374.35 L361.58 368.58 L357.06 362.81 L352.54 357.05 L348.03 351.28 L343.53 345.51 L339.03 339.75" fill="none" stroke="#00ff00" stroke-width="1"/>
<path d="M618.96 795.28 L617.81 789.52 L616.64 783.75 L615.47 777.98 L614.33 772.22 L613.15 766.45 L611.95 760.68 L610.80 754.92 L609.66 749.15 L608.51 743.39 L607.34 737.62 L606.14 731.85 L604.91 726.09 L603.65 720.32 L602.37 714.55 L601.08 708.79 L599.82 703.02 L598.53 697.26 L597.24 691.49 L595.96 685.72 L594.69 679.96 L593.42 674.19 L592.13 668.42 L590.81 662.66 L589.48 656.89 L588.11 651.13 L586.72 645.36 L585.29 639.59 L583.82 633.83 L582.31 628.06 L580.76 622.29 L579.17 616.53 L577.52 610.76 L575.82 605.00 L574.06 599.23 L572.25 593.46 L570.37 587.70 L568.43 581.93 L566.43 576.16 L564.34 570.40 L562.15 564.63 L559.86 558.87 L557.47 553.10 L555.00 547.33 L552.52 541.57 L549.90 535.80 L547.26 530.03 L544.59 524.27 L541.90 518.50 L539.19 512.74 L536.48 506.97 L533.77 501.20 L531.01 495.44 L528.17 489.67 L525.24 483.90 L522.24 478.14 L519.16 472.37 L516.01 466.61 L512.77 460.84 L509.46 455.07 L506.07 449.31 L502.61 443.54 L499.08 437.77 L495.48 432.01 L491.85 426.24 L488.14 420.48 L484.36 414.71 L480.53 408.94 L476.65 403.18 L472.71 397.41 L468.73 391.64 L464.71 385.88 L460.65 380.11 L456.54 374.35 L452.41 368.58 L448.25 362.81 L444.05 357.05 L439.84 351.28 L435.60 345.51 L431.35 339.75" fill="none" stroke="#00ff00" stroke-width="1"/>
<path d="M662.90 795.28 L662.25 789.52 L661.58 783.75 L660.88 777.98 L660.20 772.22 L659.48 766.45 L658.74 760.68 L657.99 754.92 L657.23 749.15 L656.44 743.39 L655.61 737.62 L654.70 731.85 L653.73 726.09 L652.69 720.32 L651.67 714.55 L650.64 708.79 L649.59 703.02 L648.62 697.26 L647.62 691.49 L646.66 685.72 L645.74 679.96 L644.83 674.19 L643.93 668.42 L643.02 662.66 L642.11 656.89 L641.20 651.13 L640.27 645.36 L639.33 639.59 L638.37 633.83 L637.39 628.06 L636.40 622.29 L635.37 616.53 L634.32 610.76 L633.25 605.00 L632.13 599.23 L630.98 593.46 L629.74 587.70 L628.51 581.93 L627.22 576.16 L625.88 570.40 L624.45 564.63 L622.92 558.87 L621.33 553.10 L619.68 547.33 L617.97 541.57 L616.31 535.80 L614.55 530.03 L612.78 524.27 L611.02 518.50 L609.28 512.74 L607.57 506.97 L605.92 501.20 L604.21 495.44 L602.45 489.67 L600.62 483.90 L598.73 478.14 L596.77 472.37 L594.73 466.61 L592.63 460.84 L590.46 455.07 L588.21 449.31 L585.90 443.54 L583.50 437.77 L581.03 432.01 L578.49 426.24 L575.87 420.48 L573.16 414.71 L570.38 408.94 L567.53 403.18 L564.59 397.41 L561.61 391.64 L558.54 385.88 L555.40 380.11 L552.19 374.35 L548.92 368.58 L545.58 362.81 L542.19 357.05 L538.73 351.28 L535.22 345.51 L531.65 339.75" fill="none" stroke="#00ff00" stroke-width="1"/>
<path d="M709.23 795.28 L708.70 789.52 L708.16 783.75 L707.61 777.98 L707.09 772.22 L706.56 766.45 L706.02 760.68 L705.47 754.92 L704.93 749.15 L704.38 743.39 L703.81 737.62 L703.21 731.85 L702.59 726.09 L701.94 720.32 L701.29 714.55 L700.62 708.79 L699.94 703.02 L699.25 697.26 L698.61 691.49 L697.94 685.72 L697.29 679.96 L696.64 674.19 L696.04 668.42 L695.44 662.66 L694.86 656.89 L694.27 651.13 L693.69 645.36 L693.11 639.59 L692.53 633.83 L691.95 628.06 L691.36 622.29 L690.76 616.53 L690.16 610.76 L689.55 605.00 L688.93 599.23 L688.25 593.46 L687.59 587.70 L686.91 581.93 L686.21 576.16 L685.48 570.40 L684.69 564.63 L683.85 558.87 L682.98 553.10 L682.06 547.33 L681.13 541.57 L680.18 535.80 L679.22 530.03 L678.26 524.27 L677.31 518.50 L676.39 512.74 L675.49 506.97 L674.62 501.20 L673.73 495.44 L672.81 489.67 L671.83 483.90 L670.82 478.14 L669.83 472.37 L668.68 466.61 L667.52 460.84 L666.25 455.07 L664.96 449.31 L663.74 443.54 L662.39 437.77 L660.99 432.01 L659.53 426.24 L658.02 420.48 L656.46 414.71 L654.85 408.94 L653.17 403.18 L651.45 397.41 L649.66 391.64 L647.82 385.88 L645.93 380.11 L643.97 374.35 L641.93 368.58 L639.89 362.81 L637.77 357.05 L635.60 351.28 L633.36 345.51 L631.07 339.75" fill="none" stroke="#00ff00" stroke-width="1"/>
</g>
<text x="217.50" y="803.30" font-size="12" text-anchor="middle" fill="#00ff00" transform="rotate(-55 217.50 803.30)" dominant-baseline="central">1</text>
<text x="292.50" y="803.30" font-size="12" text-anchor="middle" fill="#00ff00" transform="rotate(-55 292.50 803.30)" dominant-baseline="central">2</text>
<text x="339.20" y="803.30" font-size="12" text-anchor="middle" fill="#00ff00" transform="rotate(-55 339.20 803.30)" dominant-baseline="central">3</text>
<text x="402.10" y="803.40" font-size="12" text-anchor="middle" fill="#00ff00" transform="rotate(-55 402.10 803.40)" dominant-baseline="central">5</text>
<text x="462.70" y="803.40" font-size="12" text-anchor="middle" fill="#00ff00" transform="rotate(-55 462.70 803.40)" dominant-baseline="central">8</text>
<text x="517.00" y="802.20" font-size="12" text-anchor="middle" fill="#00ff00" transform="rotate(-55 517.00 802.20)" dominant-baseline="central">12</text>
<text x="588.00" y="802.20" font-size="12" text-anchor="middle" fill="#00ff00" transform="rotate(-55 588.00 802.20)" dominant-baseline="central">20</text>
<text x="693.50" y="343.00" font-size="12" text-anchor="middle" fill="#a52a2a" transform="rotate(-45 693.50 343.00)" dominant-baseline="central">-10</text>
<text x="688.00" y="446.00" font-size="12" text-anchor="middle" fill="#a52a2a" transform="rotate(-45 688.00 446.00)" dominant-baseline="central">0</text>
<text x="715.20" y="516.70" font-size="12" text-anchor="middle" fill="#a52a2a" transform="rotate(-45 715.20 516.70)" dominant-baseline="central">10</text>
<text x="759.50" y="565.00" font-size="12" text-anchor="middle" fill="#a52a2a" transform="rotate(-45 759.50 565.00)" dominant-baseline="central">20</text>
<text x="806.50" y="612.40" font-size="12" text-anchor="middle" fill="#a52a2a" transform="rotate(-45 806.50 612.40)" dominant-baseline="central">30</text>
<text x="829.60" y="686.70" font-size="12" text-anchor="middle" fill="#a52a2a" transform="rotate(-45 829.60 686.70)" dominant-baseline="central">40</text>
<text x="828.80" y="786.30" font-size="12" text-anchor="middle" fill="#a52a2a" transform="rotate(-45 828.80 786.30)" dominant-baseline="central">50</text>
<path d="M68.90 60.30 L68.90 795.28" fill="none" stroke="#000" stroke-width="1"/>
<path d="M61.70 60.30 L68.90 60.30" fill="none" stroke="#000" stroke-width="1"/>
<text x="52.20" y="60.30" font-size="14.2" text-anchor="middle" fill="#000" transform="rotate(-90 52.20 60.30)" >100</text>
<path d="M61.70 189.72 L68.90 189.72" fill="none" stroke="#000" stroke-width="1"/>
<text x="52.20" y="189.72" font-size="14.2" text-anchor="middle" fill="#000" transform="rotate(-90 52.20 189.72)" >150</text>
<path d="M61.70 281.55 L68.90 281.55" fill="none" stroke="#000" stroke-width="1"/>
<text x="52.20" y="281.55" font-size="14.2" text-anchor="middle" fill="#000" transform="rotate(-90 52.20 281.55)" >200</text>
<path d="M61.70 352.78 L68.90 352.78" fill="none" stroke="#000" stroke-width="1"/>
<text x="52.20" y="352.78" font-size="14.2" text-anchor="middle" fill="#000" transform="rotate(-90 52.20 352.78)" >250</text>
<path d="M61.70 410.98 L68.90 410.98" fill="none" stroke="#000" stroke-width="1"/>
<text x="52.20" y="410.98" font-size="14.2" text-anchor="middle" fill="#000" transform="rotate(-90 52.20 410.98)" >300</text>
<path d="M61.70 502.80 L68.90 502.80" fill="none" stroke="#000" stroke-width="1"/>
<text x="52.20" y="502.80" font-size="14.2" text-anchor="middle" fill="#000" transform="rotate(-90 52.20 502.80)" >400</text>
<path d="M61.70 574.03 L68.90 574.03" fill="none" stroke="#000" stroke-width="1"/>
<text x="52.20" y="574.03" font-size="14.2" text-anchor="middle" fill="#000" transform="rotate(-90 52.20 574.03)" >500</text>
<path d="M61.70 681.43 L68.90 681.43" fill="none" stroke="#000" stroke-width="1"/>
<text x="52.20" y="681.43" font-size="14.2" text-anchor="middle" fill="#000" transform="rotate(-90 52.20 681.43)" >700</text>
<path d="M61.70 743.41 L68.90 743.41" fill="none" stroke="#000" stroke-width="1"/>
<text x="52.20" y="743.41" font-size="14.2" text-anchor="middle" fill="#000" transform="rotate(-90 52.20 743.41)" >850</text>
<path d="M61.70 795.28 L68.90 795.28" fill="none" stroke="#000" stroke-width="1"/>
<text x="52.20" y="795.28" font-size="14.2" text-anchor="middle" fill="#000" transform="rotate(-90 52.20 795.28)" >1000</text>
<path d="M95.53 810.86 L716.89 810.86" fill="none" stroke="#222" stroke-width="1"/>
<path d="M95.53 810.86 L95.53 818.06" fill="none" stroke="#222" stroke-width="1"/>
<text x="96.03" y="837.00" font-size="13.3" text-anchor="middle" fill="#000" >-30</text>
<path d="M184.29 810.86 L184.29 818.06" fill="none" stroke="#222" stroke-width="1"/>
<text x="184.79" y="837.00" font-size="13.3" text-anchor="middle" fill="#000" >-20</text>
<path d="M273.06 810.86 L273.06 818.06" fill="none" stroke="#222" stroke-width="1"/>
<text x="273.56" y="837.00" font-size="13.3" text-anchor="middle" fill="#000" >-10</text>
<path d="M361.83 810.86 L361.83 818.06" fill="none" stroke="#222" stroke-width="1"/>
<text x="362.33" y="837.00" font-size="13.3" text-anchor="middle" fill="#000" >0</text>
<path d="M450.59 810.86 L450.59 818.06" fill="none" stroke="#222" stroke-width="1"/>
<text x="451.09" y="837.00" font-size="13.3" text-anchor="middle" fill="#000" >10</text>
<path d="M539.36 810.86 L539.36 818.06" fill="none" stroke="#222" stroke-width="1"/>
<text x="539.86" y="837.00" font-size="13.3" text-anchor="middle" fill="#000" >20</text>
<path d="M628.12 810.86 L628.12 818.06" fill="none" stroke="#222" stroke-width="1"/>
<text x="628.62" y="837.00" font-size="13.3" text-anchor="middle" fill="#000" >30</text>
<path d="M716.89 810.86 L716.89 818.06" fill="none" stroke="#222" stroke-width="1"/>
<text x="717.39" y="837.00" font-size="13.3" text-anchor="middle" fill="#000" >40</text>
<text x="444.50" y="866.50" font-size="13" text-anchor="middle" fill="#000" >Temperature (C)</text>
<text x="14.00" y="435.60" font-size="12" text-anchor="middle" fill="#000" transform="rotate(-90 14.00 435.60)" >P (hPa)</text>
<text x="39.00" y="865.60" font-size="9.42" text-anchor="start" fill="#222" >thermodynamic calcs are for ensemble mean profile</text>
<text x="444.50" y="20.80" font-size="14.45" text-anchor="middle" fill="#000" font-weight="bold" >CSU WRF skew-T for North Platte</text>
<text x="202.90" y="36.80" font-size="13" text-anchor="start" fill="#000" >init: 0000 UTC Wed 25 Feb 2026</text>
<text x="685.60" y="36.80" font-size="12.9" text-anchor="end" fill="#000" >00-hr forecast valid 0000 UTC Wed 25 Feb 2026</text>
<path d="M450.20 96.60 L289.00 247.60 L278.40 295.80 L305.00 344.50 L369.00 433.30 L397.00 476.50 L416.00 520.00 L441.50 583.30 L443.00 589.30 L447.30 609.30 L458.70 658.70 L460.70 680.00 L494.00 722.00 L498.00 741.00 L492.00 749.00 L470.00 755.00 L452.00 762.20" fill="none" stroke="#ff1a1a" stroke-width="1.1" stroke-dasharray="3 2.5"/>
<path d="M447.60 96.50 L284.40 247.20 L277.90 295.20 L302.60 344.50 L366.00 433.30 L393.40 476.50 L412.30 520.00 L438.30 583.30 L440.70 650.70 L455.30 665.30 L456.70 670.00 L459.40 684.40 L490.00 720.00 L491.10 727.80 L484.40 741.10 L467.80 750.00 L465.60 754.40 L451.10 762.20" fill="none" stroke="rgba(215,40,80,0.68)" stroke-width="1.1" stroke-linejoin="round"/>
<path d="M449.60 96.50 L288.60 247.70 L278.40 295.60 L303.60 344.50 L367.20 433.30 L394.60 476.50 L413.50 520.00 L439.50 583.30 L444.70 617.30 L448.00 652.00 L457.50 672.00 L493.00 721.00 L497.00 740.00 L490.00 748.00 L470.00 756.00 L452.00 762.20" fill="none" stroke="rgba(215,40,80,0.68)" stroke-width="1.1" stroke-linejoin="round"/>
<path d="M451.70 96.80 L293.30 247.90 L278.80 296.10 L304.40 344.50 L368.40 433.30 L395.80 476.50 L414.80 520.00 L440.60 583.30 L448.70 632.00 L454.70 650.70 L456.70 680.00 L458.90 684.00 L495.60 722.20 L501.10 741.10 L500.00 746.70 L491.10 752.20 L471.10 757.80 L452.20 762.20" fill="none" stroke="rgba(215,40,80,0.68)" stroke-width="1.35" stroke-linejoin="round"/>
<path d="M230.60 262.00 L231.10 294.40 L257.00 340.00 L290.00 381.00 L331.10 433.30 L351.10 477.50 L365.10 510.20 L391.50 560.00 L402.20 581.10 L411.50 609.10 L410.80 630.90 L399.10 651.10 L396.00 679.10 L396.60 683.40 L376.50 705.50 L371.60 722.60 L354.40 737.20 L350.20 740.90 L350.80 746.40 L413.10 762.30" fill="none" stroke="rgba(70,180,50,0.75)" stroke-width="1.1" stroke-linejoin="round"/>
<path d="M234.00 262.00 L236.00 295.50 L259.50 340.00 L292.50 381.00 L331.10 433.30 L360.40 477.50 L382.20 521.10 L396.20 560.00 L402.20 581.10 L417.80 607.50 L420.90 630.90 L403.80 651.10 L396.00 679.10 L396.60 683.40 L370.00 709.00 L356.00 735.00 L352.00 740.00 L400.30 762.30" fill="none" stroke="rgba(70,180,50,0.75)" stroke-width="1.1" stroke-linejoin="round"/>
<path d="M238.00 262.00 L240.80 297.20 L262.00 340.00 L295.00 381.00 L331.10 433.30 L366.70 477.50 L388.40 513.30 L391.50 521.10 L399.30 560.00 L402.20 581.10 L405.30 609.10 L394.40 651.10 L396.00 679.10 L396.60 683.40 L366.70 711.60 L353.80 732.30 L353.20 739.70 L385.60 762.30" fill="none" stroke="rgba(70,180,50,0.75)" stroke-width="1.6" stroke-linejoin="round"/>
<circle cx="201.70" cy="171.90" r="105.71" fill="#fff" stroke="none"/>
<circle cx="201.70" cy="171.90" r="15.03" fill="none" stroke="#c8c8c8" stroke-width="1"/>
<circle cx="201.70" cy="171.90" r="30.06" fill="none" stroke="#c8c8c8" stroke-width="1"/>
<circle cx="201.70" cy="171.90" r="45.09" fill="none" stroke="#c8c8c8" stroke-width="1"/>
<circle cx="201.70" cy="171.90" r="60.12" fill="none" stroke="#c8c8c8" stroke-width="1"/>
<circle cx="201.70" cy="171.90" r="75.15" fill="none" stroke="#c8c8c8" stroke-width="1"/>
<circle cx="201.70" cy="171.90" r="90.18" fill="none" stroke="#c8c8c8" stroke-width="1"/>
<circle cx="201.70" cy="171.90" r="105.21" fill="none" stroke="#c8c8c8" stroke-width="1"/>
<rect x="192.90" y="181.23" width="17.60" height="11.5" fill="#fff"/>
<text x="202.60" y="191.33" font-size="12" text-anchor="middle" fill="#000" >20</text>
<rect x="192.90" y="196.26" width="17.60" height="11.5" fill="#fff"/>
<text x="202.60" y="206.36" font-size="12" text-anchor="middle" fill="#000" >40</text>
<rect x="192.90" y="211.29" width="17.60" height="11.5" fill="#fff"/>
<text x="202.60" y="221.39" font-size="12" text-anchor="middle" fill="#000" >60</text>
<rect x="192.90" y="226.32" width="17.60" height="11.5" fill="#fff"/>
<text x="202.60" y="236.42" font-size="12" text-anchor="middle" fill="#000" >80</text>
<rect x="189.00" y="241.35" width="25.40" height="11.5" fill="#fff"/>
<text x="202.60" y="251.45" font-size="12" text-anchor="middle" fill="#000" >100</text>
<rect x="189.00" y="256.38" width="25.40" height="11.5" fill="#fff"/>
<text x="202.60" y="266.48" font-size="12" text-anchor="middle" fill="#000" >120</text>
<rect x="189.00" y="271.41" width="25.40" height="11.5" fill="#fff"/>
<text x="202.60" y="281.51" font-size="12" text-anchor="middle" fill="#000" >140</text>
<path d="M196.00 174.00 L203.00 177.00 L212.00 181.00 L219.00 185.00 L226.00 186.50 L231.00 187.80 L237.00 186.00 L242.00 184.00 L249.00 186.00 L254.00 191.00 L258.00 196.00 L262.00 201.00 L265.00 204.00" fill="none" stroke="#ff00ff" stroke-width="4.2" stroke-linejoin="round" stroke-linecap="round"/>
<circle cx="219" cy="185.5" r="2.8" fill="#ff00ff"/>
<circle cx="231" cy="188" r="2.8" fill="#ff00ff"/>
<circle cx="244" cy="186" r="2.8" fill="#ff00ff"/>
<circle cx="226" cy="186" r="2.8" fill="#ff00ff"/>
<circle cx="206" cy="178" r="2.6" fill="#00ee00"/>
<circle cx="216" cy="181" r="2.6" fill="#00ee00"/>
<circle cx="238.9" cy="190.6" r="2.6" fill="#00ee00"/>
<circle cx="246.7" cy="195" r="2.6" fill="#00ee00"/>
<circle cx="252" cy="198" r="2.6" fill="#00ee00"/>
<circle cx="258" cy="201" r="2.6" fill="#00ee00"/>
<circle cx="265.6" cy="205.5" r="2.6" fill="#00ee00"/>
<path d="M194.00 173.00 L201.00 175.00 L207.00 178.00 L213.00 180.00 L220.00 182.00 L227.00 184.00 L233.00 185.00 L238.00 185.50 L243.00 187.00 L247.00 189.00 L251.00 194.00 L256.00 198.00 L260.00 201.00 L265.00 204.50" fill="none" stroke="#a52a2a" stroke-width="4" stroke-linejoin="round" stroke-linecap="round"/>
<circle cx="201" cy="175" r="2.8" fill="#a52a2a"/>
<circle cx="213" cy="180" r="2.8" fill="#a52a2a"/>
<circle cx="227" cy="184" r="2.8" fill="#a52a2a"/>
<circle cx="238" cy="185.5" r="2.8" fill="#a52a2a"/>
<circle cx="247" cy="189" r="2.8" fill="#a52a2a"/>
<circle cx="256" cy="198" r="2.8" fill="#a52a2a"/>
<circle cx="264" cy="204" r="2.8" fill="#a52a2a"/>
<circle cx="202.2" cy="169.6" r="3" fill="#00ffff"/>
<text x="191.50" y="177.50" font-size="11.5" text-anchor="middle" fill="#00ee00" >0</text>
<text x="192.00" y="177.00" font-size="11.5" text-anchor="middle" fill="#a52a2a" >0</text>
<text x="193.00" y="176.50" font-size="11.5" text-anchor="middle" fill="#ff00ff" >0</text>
<text x="200.00" y="178.00" font-size="11.5" text-anchor="middle" fill="#ff00ff" >0</text>
<text x="203.00" y="177.00" font-size="11.5" text-anchor="middle" fill="#a52a2a" >1</text>
<text x="210.00" y="176.50" font-size="11.5" text-anchor="middle" fill="#ff00ff" >1</text>
<text x="213.00" y="179.00" font-size="11.5" text-anchor="middle" fill="#a52a2a" >5</text>
<text x="220.00" y="179.00" font-size="11.5" text-anchor="middle" fill="#00ee00" >1</text>
<text x="226.00" y="181.00" font-size="11.5" text-anchor="middle" fill="#ff00ff" >1</text>
<text x="230.00" y="179.50" font-size="11.5" text-anchor="middle" fill="#00ee00" >5</text>
<text x="235.00" y="180.00" font-size="11.5" text-anchor="middle" fill="#a52a2a" >5</text>
<text x="240.00" y="180.00" font-size="11.5" text-anchor="middle" fill="#a52a2a" >2</text>
<text x="244.00" y="179.00" font-size="11.5" text-anchor="middle" fill="#ff00ff" >2</text>
<text x="250.00" y="180.00" font-size="11.5" text-anchor="middle" fill="#a52a2a" >3</text>
<text x="252.00" y="178.00" font-size="11.5" text-anchor="middle" fill="#ff00ff" >3</text>
<text x="259.00" y="193.00" font-size="11.5" text-anchor="middle" fill="#00ee00" >4</text>
<text x="260.00" y="192.50" font-size="11.5" text-anchor="middle" fill="#a52a2a" >4</text>
<text x="265.00" y="194.00" font-size="11.5" text-anchor="middle" fill="#a52a2a" >5</text>
<text x="270.00" y="196.00" font-size="11.5" text-anchor="middle" fill="#00ee00" >6</text>
<text x="269.00" y="195.00" font-size="11.5" text-anchor="middle" fill="#ff00ff" >6</text>
<text x="271.00" y="196.50" font-size="11.5" text-anchor="middle" fill="#a52a2a" >6</text>
<rect x="613.5" y="60.5" width="114.8" height="258.2" fill="#fff" stroke="#444" stroke-width="1"/>
<text x="630.00" y="74.80" font-size="9.1" text-anchor="start" fill="#222" >surface&#160;parcel:</text>
<text x="630.00" y="85.60" font-size="9.1" text-anchor="start" fill="#222" >CAPE&#160;=&#160;0&#160;J/kg</text>
<text x="630.00" y="96.40" font-size="9.1" text-anchor="start" fill="#222" >CIN&#160;=&#160;0&#160;J/kg</text>
<text x="630.00" y="107.20" font-size="9.1" text-anchor="start" fill="#222" >LCL&#160;=&#160;822&#160;hPa</text>
<text x="630.00" y="118.00" font-size="9.1" text-anchor="start" fill="#222" >LFC&#160;=&#160;NA&#160;hPa</text>
<text x="630.00" y="139.60" font-size="9.1" text-anchor="start" fill="#222" >mean-layer&#160;parcel:</text>
<text x="630.00" y="150.40" font-size="9.1" text-anchor="start" fill="#222" >CAPE&#160;=&#160;15.4&#160;J/kg</text>
<text x="630.00" y="161.20" font-size="9.1" text-anchor="start" fill="#222" >CIN&#160;=&#160;0&#160;J/kg</text>
<text x="630.00" y="172.00" font-size="9.1" text-anchor="start" fill="#222" >LCL&#160;=&#160;735&#160;hPa</text>
<text x="630.00" y="182.80" font-size="9.1" text-anchor="start" fill="#222" >LFC&#160;=&#160;NA&#160;hPa</text>
<text x="630.00" y="204.40" font-size="9.1" text-anchor="start" fill="#222" >most-unstable&#160;parcel:</text>
<text x="630.00" y="215.20" font-size="9.1" text-anchor="start" fill="#222" >CAPE&#160;=&#160;0&#160;J/kg</text>
<text x="630.00" y="226.00" font-size="9.1" text-anchor="start" fill="#222" >CIN&#160;=&#160;0&#160;J/kg</text>
<text x="630.00" y="236.80" font-size="9.1" text-anchor="start" fill="#222" >LCL&#160;=&#160;527&#160;hPa</text>
<text x="630.00" y="247.60" font-size="9.1" text-anchor="start" fill="#222" >LFC&#160;=&#160;NA&#160;hPa</text>
<text x="630.00" y="258.40" font-size="9.1" text-anchor="start" fill="#222" >source&#160;=&#160;558&#160;hPa</text>
<text x="630.00" y="280.00" font-size="9.1" text-anchor="start" fill="#222" >PW&#160;=&#160;&#160;12.15&#160;mm</text>
<text x="630.00" y="301.60" font-size="9.1" text-anchor="start" fill="#222" >0--6-km&#160;shear=&#160;89.6&#160;kt</text>
<text x="630.00" y="312.40" font-size="9.1" text-anchor="start" fill="#222" >0--1-km&#160;shear=&#160;25.6&#160;kt</text>
<path d="M766.50 30.24 L766.50 840.96" stroke="#000" stroke-width="1.4" fill="none"/>
<path d="M766.50 96.20 L749.20 86.10" stroke="#000" stroke-width="1.7" fill="none"/>
<path d="M749.20 86.10 L756.66 81.65 L752.83 88.22 Z" fill="#000" stroke="#000" stroke-width="0.6" stroke-linejoin="round"/>
<path d="M752.83 88.22 L760.29 83.77 L756.45 90.34 Z" fill="#000" stroke="#000" stroke-width="0.6" stroke-linejoin="round"/>
<path d="M756.97 90.64 L760.63 85.36" stroke="#000" stroke-width="1.4" fill="none"/>
<path d="M759.22 91.95 L762.88 86.67" stroke="#000" stroke-width="1.4" fill="none"/>
<path d="M761.46 93.26 L765.12 87.98" stroke="#000" stroke-width="1.4" fill="none"/>
<path d="M766.50 147.30 L748.20 137.60" stroke="#000" stroke-width="1.7" fill="none"/>
<path d="M748.20 137.60 L755.47 132.85 L751.91 139.57 Z" fill="#000" stroke="#000" stroke-width="0.6" stroke-linejoin="round"/>
<path d="M751.91 139.57 L759.18 134.82 L755.62 141.53 Z" fill="#000" stroke="#000" stroke-width="0.6" stroke-linejoin="round"/>
<path d="M756.15 141.81 L759.59 136.39" stroke="#000" stroke-width="1.4" fill="none"/>
<path d="M758.45 143.03 L761.89 137.61" stroke="#000" stroke-width="1.4" fill="none"/>
<path d="M760.75 144.25 L764.19 138.83" stroke="#000" stroke-width="1.4" fill="none"/>
<path d="M763.04 145.47 L766.48 140.05" stroke="#000" stroke-width="1.4" fill="none"/>
<path d="M766.50 198.00 L748.20 188.00" stroke="#000" stroke-width="1.7" fill="none"/>
<path d="M748.20 188.00 L755.53 183.34 L751.89 190.01 Z" fill="#000" stroke="#000" stroke-width="0.6" stroke-linejoin="round"/>
<path d="M751.89 190.01 L759.22 185.36 L755.57 192.03 Z" fill="#000" stroke="#000" stroke-width="0.6" stroke-linejoin="round"/>
<path d="M756.10 192.32 L759.61 186.94" stroke="#000" stroke-width="1.4" fill="none"/>
<path d="M758.38 193.56 L761.89 188.19" stroke="#000" stroke-width="1.4" fill="none"/>
<path d="M766.50 247.50 L750.30 235.20" stroke="#000" stroke-width="1.7" fill="none"/>
<path d="M750.30 235.20 L758.24 231.69 L753.65 237.74 Z" fill="#000" stroke="#000" stroke-width="0.6" stroke-linejoin="round"/>
<path d="M753.65 237.74 L761.59 234.23 L756.99 240.28 Z" fill="#000" stroke="#000" stroke-width="0.6" stroke-linejoin="round"/>
<path d="M756.99 240.28 L764.93 236.77 L760.34 242.82 Z" fill="#000" stroke="#000" stroke-width="0.6" stroke-linejoin="round"/>
<path d="M760.81 243.18 L765.08 238.39" stroke="#000" stroke-width="1.4" fill="none"/>
<path d="M762.88 244.75 L767.15 239.96" stroke="#000" stroke-width="1.4" fill="none"/>
<path d="M764.95 246.33 L769.22 241.53" stroke="#000" stroke-width="1.4" fill="none"/>
<path d="M766.50 296.00 L750.60 284.60" stroke="#000" stroke-width="1.7" fill="none"/>
<path d="M750.60 284.60 L758.44 280.87 L754.01 287.05 Z" fill="#000" stroke="#000" stroke-width="0.6" stroke-linejoin="round"/>
<path d="M754.01 287.05 L761.86 283.32 L757.43 289.49 Z" fill="#000" stroke="#000" stroke-width="0.6" stroke-linejoin="round"/>
<path d="M757.43 289.49 L765.27 285.77 L760.84 291.94 Z" fill="#000" stroke="#000" stroke-width="0.6" stroke-linejoin="round"/>
<path d="M761.33 292.29 L765.46 287.38" stroke="#000" stroke-width="1.4" fill="none"/>
<path d="M763.44 293.81 L767.58 288.90" stroke="#000" stroke-width="1.4" fill="none"/>
<path d="M765.55 295.32 L769.69 290.41" stroke="#000" stroke-width="1.4" fill="none"/>
<path d="M766.50 344.80 L749.30 333.60" stroke="#000" stroke-width="1.7" fill="none"/>
<path d="M749.30 333.60 L756.97 329.52 L752.82 335.89 Z" fill="#000" stroke="#000" stroke-width="0.6" stroke-linejoin="round"/>
<path d="M752.82 335.89 L760.49 331.81 L756.34 338.18 Z" fill="#000" stroke="#000" stroke-width="0.6" stroke-linejoin="round"/>
<path d="M756.84 338.51 L760.75 333.42" stroke="#000" stroke-width="1.4" fill="none"/>
<path d="M759.02 339.93 L762.93 334.84" stroke="#000" stroke-width="1.4" fill="none"/>
<path d="M766.50 391.30 L748.10 381.20" stroke="#000" stroke-width="1.7" fill="none"/>
<path d="M748.10 381.20 L755.44 376.56 L751.78 383.22 Z" fill="#000" stroke="#000" stroke-width="0.6" stroke-linejoin="round"/>
<path d="M751.78 383.22 L759.12 378.58 L755.46 385.24 Z" fill="#000" stroke="#000" stroke-width="0.6" stroke-linejoin="round"/>
<path d="M755.99 385.53 L759.51 380.16" stroke="#000" stroke-width="1.4" fill="none"/>
<path d="M758.27 386.78 L760.03 384.10" stroke="#000" stroke-width="1.4" fill="none"/>
<path d="M766.50 436.20 L748.10 426.40" stroke="#000" stroke-width="1.7" fill="none"/>
<path d="M748.10 426.40 L755.38 421.67 L751.81 428.37 Z" fill="#000" stroke="#000" stroke-width="0.6" stroke-linejoin="round"/>
<path d="M751.81 428.37 L759.09 423.64 L755.51 430.35 Z" fill="#000" stroke="#000" stroke-width="0.6" stroke-linejoin="round"/>
<path d="M756.04 430.63 L759.49 425.22" stroke="#000" stroke-width="1.4" fill="none"/>
<path d="M758.34 431.85 L760.06 429.15" stroke="#000" stroke-width="1.4" fill="none"/>
<path d="M766.50 479.30 L748.50 469.50" stroke="#000" stroke-width="1.7" fill="none"/>
<path d="M748.50 469.50 L755.82 464.83 L752.19 471.51 Z" fill="#000" stroke="#000" stroke-width="0.6" stroke-linejoin="round"/>
<path d="M752.19 471.51 L759.51 466.84 L755.88 473.52 Z" fill="#000" stroke="#000" stroke-width="0.6" stroke-linejoin="round"/>
<path d="M756.40 473.80 L758.15 471.11" stroke="#000" stroke-width="1.4" fill="none"/>
<path d="M766.50 518.70 L748.30 508.50" stroke="#000" stroke-width="1.7" fill="none"/>
<path d="M748.30 508.50 L755.68 503.92 L751.96 510.55 Z" fill="#000" stroke="#000" stroke-width="0.6" stroke-linejoin="round"/>
<path d="M752.49 510.85 L756.05 505.51" stroke="#000" stroke-width="1.4" fill="none"/>
<path d="M754.76 512.12 L758.32 506.78" stroke="#000" stroke-width="1.4" fill="none"/>
<path d="M757.02 513.39 L760.59 508.05" stroke="#000" stroke-width="1.4" fill="none"/>
<path d="M759.29 514.66 L762.86 509.32" stroke="#000" stroke-width="1.4" fill="none"/>
<path d="M766.50 553.30 L748.30 543.50" stroke="#000" stroke-width="1.7" fill="none"/>
<path d="M748.30 543.50 L755.60 538.80 L752.00 545.49 Z" fill="#000" stroke="#000" stroke-width="0.6" stroke-linejoin="round"/>
<path d="M752.53 545.78 L756.00 540.38" stroke="#000" stroke-width="1.4" fill="none"/>
<path d="M754.82 547.01 L758.29 541.61" stroke="#000" stroke-width="1.4" fill="none"/>
<path d="M757.10 548.24 L760.58 542.84" stroke="#000" stroke-width="1.4" fill="none"/>
<path d="M766.50 583.50 L748.30 573.50" stroke="#000" stroke-width="1.7" fill="none"/>
<path d="M748.30 573.50 L755.64 568.86 L751.98 575.52 Z" fill="#000" stroke="#000" stroke-width="0.6" stroke-linejoin="round"/>
<path d="M752.51 575.81 L756.03 570.44" stroke="#000" stroke-width="1.4" fill="none"/>
<path d="M754.79 577.06 L758.31 571.70" stroke="#000" stroke-width="1.4" fill="none"/>
<path d="M757.06 578.32 L760.58 572.95" stroke="#000" stroke-width="1.4" fill="none"/>
<path d="M766.50 608.10 L748.30 598.30" stroke="#000" stroke-width="1.7" fill="none"/>
<path d="M748.30 598.30 L755.60 593.60 L752.00 600.29 Z" fill="#000" stroke="#000" stroke-width="0.6" stroke-linejoin="round"/>
<path d="M752.53 600.58 L756.00 595.18" stroke="#000" stroke-width="1.4" fill="none"/>
<path d="M754.82 601.81 L758.29 596.41" stroke="#000" stroke-width="1.4" fill="none"/>
<path d="M766.50 631.80 L748.00 622.50" stroke="#000" stroke-width="1.7" fill="none"/>
<path d="M748.00 622.50 L755.17 617.60 L751.75 624.39 Z" fill="#000" stroke="#000" stroke-width="0.6" stroke-linejoin="round"/>
<path d="M752.29 624.66 L755.61 619.16" stroke="#000" stroke-width="1.4" fill="none"/>
<path d="M766.50 650.70 L747.30 644.70" stroke="#000" stroke-width="1.7" fill="none"/>
<path d="M747.30 644.70 L753.58 638.70 L751.31 645.95 Z" fill="#000" stroke="#000" stroke-width="0.6" stroke-linejoin="round"/>
<path d="M751.88 646.13 L754.27 640.17" stroke="#000" stroke-width="1.4" fill="none"/>
<path d="M766.50 668.70 L747.30 662.70" stroke="#000" stroke-width="1.7" fill="none"/>
<path d="M747.30 662.70 L753.58 656.70 L751.31 663.95 Z" fill="#000" stroke="#000" stroke-width="0.6" stroke-linejoin="round"/>
<path d="M751.88 664.13 L754.27 658.17" stroke="#000" stroke-width="1.4" fill="none"/>
<path d="M754.36 664.91 L756.75 658.95" stroke="#000" stroke-width="1.4" fill="none"/>
<path d="M756.84 665.68 L759.23 659.72" stroke="#000" stroke-width="1.4" fill="none"/>
<path d="M759.33 666.46 L760.52 663.48" stroke="#000" stroke-width="1.4" fill="none"/>
<path d="M766.50 684.30 L747.30 678.70" stroke="#000" stroke-width="1.7" fill="none"/>
<path d="M747.30 678.70 L753.46 672.58 L751.33 679.88 Z" fill="#000" stroke="#000" stroke-width="0.6" stroke-linejoin="round"/>
<path d="M751.91 680.04 L754.18 674.04" stroke="#000" stroke-width="1.4" fill="none"/>
<path d="M754.40 680.77 L756.68 674.77" stroke="#000" stroke-width="1.4" fill="none"/>
<path d="M756.90 681.50 L759.17 675.50" stroke="#000" stroke-width="1.4" fill="none"/>
<path d="M759.40 682.23 L760.53 679.23" stroke="#000" stroke-width="1.4" fill="none"/>
<path d="M766.50 699.00 L748.00 692.00" stroke="#000" stroke-width="1.7" fill="none"/>
<path d="M748.00 692.00 L750.73 686.19" stroke="#000" stroke-width="1.4" fill="none"/>
<path d="M750.43 692.92 L753.16 687.11" stroke="#000" stroke-width="1.4" fill="none"/>
<path d="M752.86 693.84 L755.60 688.03" stroke="#000" stroke-width="1.4" fill="none"/>
<path d="M755.30 694.76 L758.03 688.95" stroke="#000" stroke-width="1.4" fill="none"/>
<path d="M757.73 695.68 L759.09 692.78" stroke="#000" stroke-width="1.4" fill="none"/>
<path d="M766.50 710.00 L748.30 701.00" stroke="#000" stroke-width="1.7" fill="none"/>
<path d="M748.30 701.00 L751.59 695.48" stroke="#000" stroke-width="1.4" fill="none"/>
<path d="M750.63 702.15 L753.92 696.64" stroke="#000" stroke-width="1.4" fill="none"/>
<path d="M752.96 703.30 L756.25 697.79" stroke="#000" stroke-width="1.4" fill="none"/>
<path d="M755.29 704.46 L758.58 698.94" stroke="#000" stroke-width="1.4" fill="none"/>
<path d="M766.50 722.50 L749.20 711.50" stroke="#000" stroke-width="1.7" fill="none"/>
<path d="M749.20 711.50 L753.06 706.37" stroke="#000" stroke-width="1.4" fill="none"/>
<path d="M751.39 712.90 L755.25 707.76" stroke="#000" stroke-width="1.4" fill="none"/>
<path d="M753.59 714.29 L757.44 709.16" stroke="#000" stroke-width="1.4" fill="none"/>
<path d="M766.50 730.00 L751.00 715.00" stroke="#000" stroke-width="1.7" fill="none"/>
<path d="M751.00 715.00 L755.81 710.75" stroke="#000" stroke-width="1.4" fill="none"/>
<path d="M752.87 716.81 L757.68 712.56" stroke="#000" stroke-width="1.4" fill="none"/>
<path d="M766.50 737.00 L752.00 718.00" stroke="#000" stroke-width="1.7" fill="none"/>
<path d="M752.00 718.00 L757.39 714.51" stroke="#000" stroke-width="1.4" fill="none"/>
<path d="M753.58 720.07 L758.97 716.58" stroke="#000" stroke-width="1.4" fill="none"/>
<path d="M766.50 742.00 L753.50 720.00" stroke="#000" stroke-width="1.7" fill="none"/>
<path d="M753.50 720.00 L759.26 717.17" stroke="#000" stroke-width="1.4" fill="none"/>
<path d="M754.82 722.24 L760.59 719.41" stroke="#000" stroke-width="1.4" fill="none"/>
<path d="M766.50 748.00 L756.00 724.00" stroke="#000" stroke-width="1.7" fill="none"/>
<path d="M756.00 724.00 L762.06 721.89" stroke="#000" stroke-width="1.4" fill="none"/>
<path d="M766.50 762.50 L771.70 731.70" stroke="#000" stroke-width="1.7" fill="none"/>
<path d="M771.70 731.70 L777.93 733.26" stroke="#000" stroke-width="1.4" fill="none"/>
<path d="M771.27 734.26 L777.49 735.82" stroke="#000" stroke-width="1.4" fill="none"/>
<path d="M766.50 762.50 L774.00 734.00" stroke="#000" stroke-width="1.7" fill="none"/>
<path d="M774.00 734.00 L780.06 736.11" stroke="#000" stroke-width="1.4" fill="none"/>
<path d="M773.34 736.51 L779.40 738.63" stroke="#000" stroke-width="1.4" fill="none"/>
<path d="M766.50 762.50 L776.50 737.00" stroke="#000" stroke-width="1.7" fill="none"/>
<path d="M776.50 737.00 L782.28 739.80" stroke="#000" stroke-width="1.4" fill="none"/>
<path d="M775.55 739.42 L781.33 742.22" stroke="#000" stroke-width="1.4" fill="none"/>
<path d="M774.60 741.84 L780.38 744.64" stroke="#000" stroke-width="1.4" fill="none"/>
<path d="M766.50 762.50 L777.50 740.00" stroke="#000" stroke-width="1.7" fill="none"/>
<path d="M777.50 740.00 L783.03 743.26" stroke="#000" stroke-width="1.4" fill="none"/>
<path d="M776.36 742.34 L781.89 745.60" stroke="#000" stroke-width="1.4" fill="none"/>
<path d="M775.22 744.67 L780.75 747.93" stroke="#000" stroke-width="1.4" fill="none"/>
<path d="M766.50 762.50 L778.30 744.00" stroke="#000" stroke-width="1.7" fill="none"/>
<path d="M778.30 744.00 L783.43 747.86" stroke="#000" stroke-width="1.4" fill="none"/>
<path d="M776.90 746.19 L782.03 750.06" stroke="#000" stroke-width="1.4" fill="none"/>
<path d="M775.50 748.38 L780.63 752.25" stroke="#000" stroke-width="1.4" fill="none"/>
<path d="M766.50 762.50 L778.30 749.60" stroke="#000" stroke-width="1.7" fill="none"/>
<path d="M778.30 749.60 L782.68 754.29" stroke="#000" stroke-width="1.4" fill="none"/>
<path d="M776.55 751.52 L780.93 756.21" stroke="#000" stroke-width="1.4" fill="none"/>
</svg></body></html>
